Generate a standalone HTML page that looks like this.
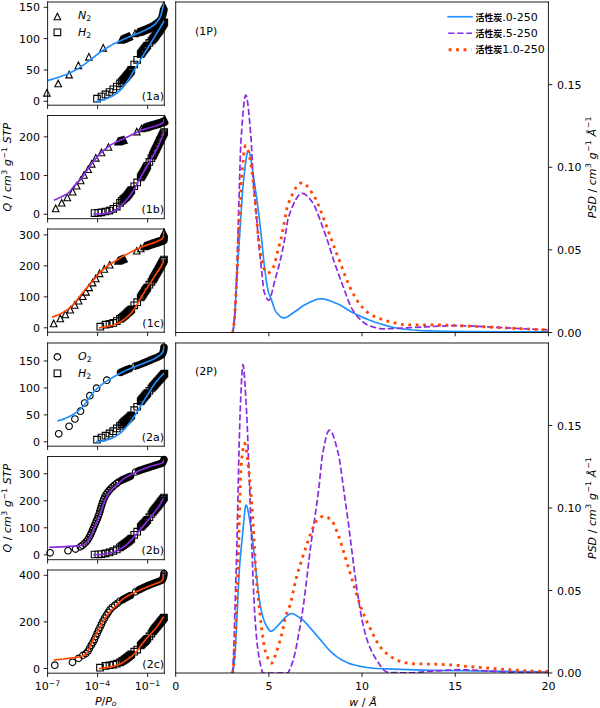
<!DOCTYPE html>
<html><head><meta charset="utf-8"><style>html,body{margin:0;padding:0;background:#fff;}svg{display:block;}</style></head><body>
<svg width="600" height="708" viewBox="0 0 545.454545 643.636364" version="1.1">
 <defs>
  <style type="text/css">*{stroke-linejoin: round; stroke-linecap: butt}</style>
 </defs>
 <g id="figure_1">
  <g id="patch_1">
   <path d="M 0 643.636364 
L 545.454545 643.636364 
L 545.454545 0 
L 0 0 
z
" style="fill: #ffffff"/>
  </g>
  <g id="axes_1">
   <g id="patch_2">
    <path d="M 43.272727 95.636364 
L 149.363636 95.636364 
L 149.363636 1.818182 
L 43.272727 1.818182 
z
" style="fill: #ffffff"/>
   </g>
   <g id="matplotlib.axis_1">
    <g id="xtick_1">
     <g id="line2d_1">
      <g>
    <path d="M 43.273 95.636 L 43.273 99.136" style="stroke: #000000; stroke-width: 0.8; stroke: #000000; stroke-width: 0.8"/>
      </g>
     </g>
    </g>
    <g id="xtick_2">
     <g id="line2d_2">
      <g>
    <path d="M 88.740 95.636 L 88.740 99.136" style="stroke: #000000; stroke-width: 0.8; stroke: #000000; stroke-width: 0.8"/>
      </g>
     </g>
    </g>
    <g id="xtick_3">
     <g id="line2d_3">
      <g>
    <path d="M 134.208 95.636 L 134.208 99.136" style="stroke: #000000; stroke-width: 0.8; stroke: #000000; stroke-width: 0.8"/>
      </g>
     </g>
    </g>
   </g>
   <g id="matplotlib.axis_2">
    <g id="ytick_1">
     <g id="line2d_4">
      <g>
    <path d="M 43.273 92.091 L 39.773 92.091" style="stroke: #000000; stroke-width: 0.8; stroke: #000000; stroke-width: 0.8"/>
      </g>
     </g>
     <g id="text_1">
      <text style="font-size: 10px; font-family: 'DejaVu Sans', 'Noto Sans CJK SC', sans-serif; text-anchor: end" x="36.272727" y="95.890128" transform="rotate(-0 36.272727 95.890128)">0</text>
     </g>
    </g>
    <g id="ytick_2">
     <g id="line2d_5">
      <g>
    <path d="M 43.273 63.605 L 39.773 63.605" style="stroke: #000000; stroke-width: 0.8; stroke: #000000; stroke-width: 0.8"/>
      </g>
     </g>
     <g id="text_2">
      <text style="font-size: 10px; font-family: 'DejaVu Sans', 'Noto Sans CJK SC', sans-serif; text-anchor: end" x="36.272727" y="67.403764" transform="rotate(-0 36.272727 67.403764)">50</text>
     </g>
    </g>
    <g id="ytick_3">
     <g id="line2d_6">
      <g>
    <path d="M 43.273 35.118 L 39.773 35.118" style="stroke: #000000; stroke-width: 0.8; stroke: #000000; stroke-width: 0.8"/>
      </g>
     </g>
     <g id="text_3">
      <text style="font-size: 10px; font-family: 'DejaVu Sans', 'Noto Sans CJK SC', sans-serif; text-anchor: end" x="36.272727" y="38.917401" transform="rotate(-0 36.272727 38.917401)">100</text>
     </g>
    </g>
    <g id="ytick_4">
     <g id="line2d_7">
      <g>
    <path d="M 43.273 6.632 L 39.773 6.632" style="stroke: #000000; stroke-width: 0.8; stroke: #000000; stroke-width: 0.8"/>
      </g>
     </g>
     <g id="text_4">
      <text style="font-size: 10px; font-family: 'DejaVu Sans', 'Noto Sans CJK SC', sans-serif; text-anchor: end" x="36.272727" y="10.431037" transform="rotate(-0 36.272727 10.431037)">150</text>
     </g>
    </g>
   </g>
   <g id="line2d_8">
    <g>
    <path d="M 42.636 81.364 L 39.636 87.364 L 45.636 87.364 z M 52.909 72.909 L 49.909 78.909 L 55.909 78.909 z M 62.818 64.818 L 59.818 70.818 L 65.818 70.818 z M 71.273 56.364 L 68.273 62.364 L 74.273 62.364 z M 80.818 48.636 L 77.818 54.636 L 83.818 54.636 z M 93.818 40.455 L 90.818 46.455 L 96.818 46.455 z M 110.000 33.182 L 107.000 39.182 L 113.000 39.182 z M 110.643 32.908 L 107.643 38.908 L 113.643 38.908 z M 111.287 32.634 L 108.287 38.634 L 114.287 38.634 z M 111.930 32.360 L 108.930 38.360 L 114.930 38.360 z M 112.574 32.087 L 109.574 38.087 L 115.574 38.087 z M 113.218 31.814 L 110.218 37.814 L 116.218 37.814 z M 113.862 31.541 L 110.862 37.541 L 116.862 37.541 z M 114.506 31.268 L 111.506 37.268 L 117.506 37.268 z M 115.150 30.996 L 112.150 36.996 L 118.150 36.996 z M 115.794 30.724 L 112.794 36.724 L 118.794 36.724 z M 116.438 30.452 L 113.438 36.452 L 119.438 36.452 z M 117.083 30.180 L 114.083 36.180 L 120.083 36.180 z M 117.727 29.909 L 114.727 35.909 L 120.727 35.909 z M 122.818 27.364 L 119.818 33.364 L 125.818 33.364 z M 125.000 26.545 L 122.000 32.545 L 128.000 32.545 z M 125.600 26.329 L 122.600 32.329 L 128.600 32.329 z M 126.198 26.109 L 123.198 32.109 L 129.198 32.109 z M 126.796 25.886 L 123.796 31.886 L 129.796 31.886 z M 127.392 25.661 L 124.392 31.661 L 130.392 31.661 z M 127.988 25.433 L 124.988 31.433 L 130.988 31.433 z M 128.582 25.202 L 125.582 31.202 L 131.582 31.202 z M 129.175 24.968 L 126.175 30.968 L 132.175 30.968 z M 129.767 24.731 L 126.767 30.731 L 132.767 30.731 z M 130.358 24.492 L 127.358 30.492 L 133.358 30.492 z M 130.950 24.255 L 127.950 30.255 L 133.950 30.255 z M 131.542 24.019 L 128.542 30.019 L 134.542 30.019 z M 132.134 23.782 L 129.134 29.782 L 135.134 29.782 z M 132.725 23.542 L 129.725 29.542 L 135.725 29.542 z M 133.314 23.297 L 130.314 29.297 L 136.314 29.297 z M 133.900 23.047 L 130.900 29.047 L 136.900 29.047 z M 134.483 22.789 L 131.483 28.789 L 137.483 28.789 z M 135.062 22.520 L 132.062 28.520 L 138.062 28.520 z M 135.635 22.241 L 132.635 28.241 L 138.635 28.241 z M 136.201 21.948 L 133.201 27.948 L 139.201 27.948 z M 136.761 21.643 L 133.761 27.643 L 139.761 27.643 z M 137.317 21.331 L 134.317 27.331 L 140.317 27.331 z M 137.869 21.012 L 134.869 27.012 L 140.869 27.012 z M 138.416 20.683 L 135.416 26.683 L 141.416 26.683 z M 138.956 20.345 L 135.956 26.345 L 141.956 26.345 z M 139.490 19.997 L 136.490 25.997 L 142.490 25.997 z M 140.016 19.637 L 137.016 25.637 L 143.016 25.637 z M 140.533 19.263 L 137.533 25.263 L 143.533 25.263 z M 141.040 18.876 L 138.040 24.876 L 144.040 24.876 z M 141.534 18.473 L 138.534 24.473 L 144.534 24.473 z M 142.014 18.053 L 139.014 24.053 L 145.014 24.053 z M 142.477 17.615 L 139.477 23.615 L 145.477 23.615 z M 142.921 17.158 L 139.921 23.158 L 145.921 23.158 z M 143.350 16.686 L 140.350 22.686 L 146.350 22.686 z M 143.762 16.199 L 140.762 22.199 L 146.762 22.199 z M 144.157 15.699 L 141.157 21.699 L 147.157 21.699 z M 144.536 15.186 L 141.536 21.186 L 147.536 21.186 z M 144.897 14.660 L 141.897 20.660 L 147.897 20.660 z M 145.239 14.122 L 142.239 20.122 L 148.239 20.122 z M 145.561 13.572 L 142.561 19.572 L 148.561 19.572 z M 145.860 13.009 L 142.860 19.009 L 148.860 19.009 z M 146.136 12.434 L 143.136 18.434 L 149.136 18.434 z M 146.397 11.852 L 143.397 17.852 L 149.397 17.852 z M 146.643 11.264 L 143.643 17.264 L 149.643 17.264 z M 146.875 10.670 L 143.875 16.670 L 149.875 16.670 z M 147.094 10.071 L 144.094 16.071 L 150.094 16.071 z M 147.300 9.468 L 144.300 15.468 L 150.300 15.468 z M 147.493 8.860 L 144.493 14.860 L 150.493 14.860 z M 147.673 8.249 L 144.673 14.249 L 150.673 14.249 z M 147.841 7.634 L 144.841 13.634 L 150.841 13.634 z M 147.996 7.015 L 144.996 13.015 L 150.996 13.015 z M 148.142 6.394 L 145.142 12.394 L 151.142 12.394 z M 148.280 5.772 L 145.280 11.772 L 151.280 11.772 z M 148.410 5.148 L 145.410 11.148 L 151.410 11.148 z M 148.532 4.522 L 145.532 10.522 L 151.532 10.522 z M 148.643 3.894 L 145.643 9.894 L 151.643 9.894 z M 148.744 3.264 L 145.744 9.264 L 151.744 9.264 z M 148.833 2.633 L 145.833 8.633 L 151.833 8.633 z M 148.909 2.000 L 145.909 8.000 L 151.909 8.000 z" style="fill-opacity: 0; stroke: #000000; stroke-linejoin: miter; stroke: #000000; stroke-linejoin: miter"/>
    </g>
   </g>
   <g id="line2d_9">
    <g>
    <path d="M 85.182 92.727 L 91.182 92.727 L 91.182 86.727 L 85.182 86.727 z M 89.265 90.731 L 95.265 90.731 L 95.265 84.731 L 89.265 84.731 z M 92.900 88.823 L 98.900 88.823 L 98.900 82.823 L 92.900 82.823 z M 96.555 86.630 L 102.555 86.630 L 102.555 80.630 L 96.555 80.630 z M 100.004 84.179 L 106.004 84.179 L 106.004 78.179 L 100.004 78.179 z M 103.186 81.633 L 109.186 81.633 L 109.186 75.633 L 103.186 75.633 z M 106.089 78.729 L 112.089 78.729 L 112.089 72.729 L 106.089 72.729 z M 107.638 77.216 L 113.638 77.216 L 113.638 71.216 L 107.638 71.216 z M 108.995 75.869 L 114.995 75.869 L 114.995 69.869 L 108.995 69.869 z M 109.899 74.900 L 115.899 74.900 L 115.899 68.900 L 109.899 68.900 z M 110.759 73.892 L 116.759 73.892 L 116.759 67.892 L 110.759 67.892 z M 111.594 72.862 L 117.594 72.862 L 117.594 66.862 L 111.594 66.862 z M 112.423 71.828 L 118.423 71.828 L 118.423 65.828 L 112.423 65.828 z M 113.271 70.810 L 119.271 70.810 L 119.271 64.810 L 113.271 64.810 z M 114.135 69.805 L 120.135 69.805 L 120.135 63.805 L 114.135 63.805 z M 114.959 68.768 L 120.959 68.768 L 120.959 62.768 L 114.959 62.768 z M 115.696 67.666 L 121.696 67.666 L 121.696 61.666 L 115.696 61.666 z M 116.366 66.523 L 122.366 66.523 L 122.366 60.523 L 116.366 60.523 z M 119.007 61.625 L 125.007 61.625 L 125.007 55.625 L 119.007 55.625 z M 121.723 57.371 L 127.723 57.371 L 127.723 51.371 L 121.723 51.371 z M 124.907 52.200 L 130.907 52.200 L 130.907 46.200 L 124.907 46.200 z M 125.721 51.046 L 131.721 51.046 L 131.721 45.046 L 125.721 45.046 z M 126.555 49.906 L 132.555 49.906 L 132.555 43.906 L 126.555 43.906 z M 127.405 48.778 L 133.405 48.778 L 133.405 42.778 L 127.405 42.778 z M 128.268 47.661 L 134.268 47.661 L 134.268 41.661 L 128.268 41.661 z M 129.142 46.552 L 135.142 46.552 L 135.142 40.552 L 129.142 40.552 z M 130.023 45.449 L 136.023 45.449 L 136.023 39.449 L 130.023 39.449 z M 130.910 44.350 L 136.910 44.350 L 136.910 38.350 L 130.910 38.350 z M 132.816 42.063 L 138.816 42.063 L 138.816 36.063 L 132.816 36.063 z M 134.642 40.029 L 140.642 40.029 L 140.642 34.029 L 134.642 34.029 z M 135.812 38.717 L 141.812 38.717 L 141.812 32.717 L 135.812 32.717 z M 136.676 37.703 L 142.676 37.703 L 142.676 31.703 L 136.676 31.703 z M 137.506 36.660 L 143.506 36.660 L 143.506 30.660 L 137.506 30.660 z M 138.312 35.599 L 144.312 35.599 L 144.312 29.599 L 138.312 29.599 z M 139.108 34.530 L 145.108 34.530 L 145.108 28.530 L 139.108 28.530 z M 139.893 33.453 L 145.893 33.453 L 145.893 27.453 L 139.893 27.453 z M 140.666 32.368 L 146.666 32.368 L 146.666 26.368 L 140.666 26.368 z M 141.428 31.275 L 147.428 31.275 L 147.428 25.275 L 141.428 25.275 z M 142.177 30.173 L 148.177 30.173 L 148.177 24.173 L 142.177 24.173 z M 142.913 29.062 L 148.913 29.062 L 148.913 23.062 L 142.913 23.062 z M 143.634 27.941 L 149.634 27.941 L 149.634 21.941 L 143.634 21.941 z M 144.341 26.811 L 150.341 26.811 L 150.341 20.811 L 144.341 20.811 z M 145.032 25.672 L 151.032 25.672 L 151.032 19.672 L 145.032 19.672 z M 145.706 24.523 L 151.706 24.523 L 151.706 18.523 L 145.706 18.523 z M 146.364 23.364 L 152.364 23.364 L 152.364 17.364 L 146.364 17.364 z" style="fill-opacity: 0; stroke: #000000; stroke-linejoin: miter; stroke: #000000; stroke-linejoin: miter"/>
    </g>
   </g>
   <g id="patch_3">
    <path d="M 43.272727 95.636364 
L 43.272727 1.818182 
" style="fill: none; stroke: #000000; stroke-width: 0.8; stroke-linejoin: miter; stroke-linecap: square"/>
   </g>
   <g id="patch_4">
    <path d="M 149.363636 95.636364 
L 149.363636 1.818182 
" style="fill: none; stroke: #000000; stroke-width: 0.8; stroke-linejoin: miter; stroke-linecap: square"/>
   </g>
   <g id="patch_5">
    <path d="M 43.272727 95.636364 
L 149.363636 95.636364 
" style="fill: none; stroke: #000000; stroke-width: 0.8; stroke-linejoin: miter; stroke-linecap: square"/>
   </g>
   <g id="patch_6">
    <path d="M 43.272727 1.818182 
L 149.363636 1.818182 
" style="fill: none; stroke: #000000; stroke-width: 0.8; stroke-linejoin: miter; stroke-linecap: square"/>
   </g>
   <g id="line2d_10">
    <path d="M 43.727273 73.090909 
L 48.799466 71.668369 
L 54.429699 69.857593 
L 59.590716 67.988274 
L 63.216673 66.455553 
L 66.957383 64.616199 
L 70.609876 62.576202 
L 74.125823 60.374316 
L 76.769696 58.441238 
L 90.690153 47.727318 
L 95.0194 44.748985 
L 99.122169 42.204627 
L 102.580971 40.325803 
L 107.502161 37.909852 
L 114.501866 34.746523 
L 118.758779 32.988142 
L 127.906652 29.289828 
L 134.961205 25.950101 
L 137.642976 24.430899 
L 139.552239 23.092216 
L 141.137671 21.698099 
L 142.67767 20.066569 
L 144.077161 18.270179 
L 145.129381 16.577793 
L 145.842192 15.05471 
L 146.602157 12.83353 
L 147.430499 9.615752 
L 148.854391 4.026169 
L 149.090909 3.181818 
L 149.090909 3.181818 
" clip-path="url(#p6df76872dc)" style="fill: none; stroke: #1e90ff; stroke-width: 1.5; stroke-linecap: square"/>
   </g>
   <g id="line2d_11">
    <path d="M 88.272727 92 
L 91.069857 91.451035 
L 93.942143 90.661909 
L 97.0234 89.588854 
L 100.421286 88.174033 
L 102.585111 87.05032 
L 104.836749 85.631672 
L 107.239719 83.847352 
L 109.553801 81.84268 
L 111.226986 80.085364 
L 113.102208 77.777722 
L 115.8033 74.046463 
L 117.744568 71.031874 
L 121.139428 65.230926 
L 128.786625 52.466815 
L 138.420092 36.893352 
L 145.434606 25.468711 
L 149.090909 19.272727 
L 149.090909 19.272727 
" clip-path="url(#p6df76872dc)" style="fill: none; stroke: #1e90ff; stroke-width: 1.5; stroke-linecap: square"/>
   </g>
  </g>
  <g id="axes_2">
   <g id="patch_7">
    <path d="M 43.272727 198.818182 
L 149.363636 198.818182 
L 149.363636 105 
L 43.272727 105 
z
" style="fill: #ffffff"/>
   </g>
   <g id="matplotlib.axis_3">
    <g id="xtick_4">
     <g id="line2d_12">
      <g>
    <path d="M 43.273 198.818 L 43.273 202.318" style="stroke: #000000; stroke-width: 0.8; stroke: #000000; stroke-width: 0.8"/>
      </g>
     </g>
    </g>
    <g id="xtick_5">
     <g id="line2d_13">
      <g>
    <path d="M 88.740 198.818 L 88.740 202.318" style="stroke: #000000; stroke-width: 0.8; stroke: #000000; stroke-width: 0.8"/>
      </g>
     </g>
    </g>
    <g id="xtick_6">
     <g id="line2d_14">
      <g>
    <path d="M 134.208 198.818 L 134.208 202.318" style="stroke: #000000; stroke-width: 0.8; stroke: #000000; stroke-width: 0.8"/>
      </g>
     </g>
    </g>
   </g>
   <g id="matplotlib.axis_4">
    <g id="ytick_5">
     <g id="line2d_15">
      <g>
    <path d="M 43.273 194.818 L 39.773 194.818" style="stroke: #000000; stroke-width: 0.8; stroke: #000000; stroke-width: 0.8"/>
      </g>
     </g>
     <g id="text_5">
      <text style="font-size: 10px; font-family: 'DejaVu Sans', 'Noto Sans CJK SC', sans-serif; text-anchor: end" x="36.272727" y="198.617401" transform="rotate(-0 36.272727 198.617401)">0</text>
     </g>
    </g>
    <g id="ytick_6">
     <g id="line2d_16">
      <g>
    <path d="M 43.273 159.591 L 39.773 159.591" style="stroke: #000000; stroke-width: 0.8; stroke: #000000; stroke-width: 0.8"/>
      </g>
     </g>
     <g id="text_6">
      <text style="font-size: 10px; font-family: 'DejaVu Sans', 'Noto Sans CJK SC', sans-serif; text-anchor: end" x="36.272727" y="163.390128" transform="rotate(-0 36.272727 163.390128)">100</text>
     </g>
    </g>
    <g id="ytick_7">
     <g id="line2d_17">
      <g>
    <path d="M 43.273 124.364 L 39.773 124.364" style="stroke: #000000; stroke-width: 0.8; stroke: #000000; stroke-width: 0.8"/>
      </g>
     </g>
     <g id="text_7">
      <text style="font-size: 10px; font-family: 'DejaVu Sans', 'Noto Sans CJK SC', sans-serif; text-anchor: end" x="36.272727" y="128.162855" transform="rotate(-0 36.272727 128.162855)">200</text>
     </g>
    </g>
   </g>
   <g id="line2d_18">
    <g>
    <path d="M 50.636 186.455 L 47.636 192.455 L 53.636 192.455 z M 56.091 181.273 L 53.091 187.273 L 59.091 187.273 z M 61.182 176.455 L 58.182 182.455 L 64.182 182.455 z M 66.091 171.273 L 63.091 177.273 L 69.091 177.273 z M 69.727 165.818 L 66.727 171.818 L 72.727 171.818 z M 73.364 161.000 L 70.364 167.000 L 76.364 167.000 z M 76.364 156.091 L 73.364 162.091 L 79.364 162.091 z M 80.182 150.818 L 77.182 156.818 L 83.182 156.818 z M 83.364 145.909 L 80.364 151.909 L 86.364 151.909 z M 87.091 140.455 L 84.091 146.455 L 90.091 146.455 z M 92.273 135.545 L 89.273 141.545 L 95.273 141.545 z M 98.636 130.636 L 95.636 136.636 L 101.636 136.636 z M 107.273 125.727 L 104.273 131.727 L 110.273 131.727 z M 107.955 125.523 L 104.955 131.523 L 110.955 131.523 z M 108.636 125.318 L 105.636 131.318 L 111.636 131.318 z M 109.318 125.114 L 106.318 131.114 L 112.318 131.114 z M 110.000 124.909 L 107.000 130.909 L 113.000 130.909 z M 110.682 124.705 L 107.682 130.705 L 113.682 130.705 z M 111.364 124.500 L 108.364 130.500 L 114.364 130.500 z M 112.045 124.295 L 109.045 130.295 L 115.045 130.295 z M 112.727 124.091 L 109.727 130.091 L 115.727 130.091 z M 124.364 116.636 L 121.364 122.636 L 127.364 122.636 z M 128.636 113.818 L 125.636 119.818 L 131.636 119.818 z M 130.455 113.364 L 127.455 119.364 L 133.455 119.364 z M 131.051 113.148 L 128.051 119.148 L 134.051 119.148 z M 131.649 112.934 L 128.649 118.934 L 134.649 118.934 z M 132.247 112.724 L 129.247 118.724 L 135.247 118.724 z M 132.846 112.516 L 129.846 118.516 L 135.846 118.516 z M 133.447 112.311 L 130.447 118.311 L 136.447 118.311 z M 134.048 112.109 L 131.048 118.109 L 137.048 118.109 z M 134.651 111.910 L 131.651 117.910 L 137.651 117.910 z M 135.254 111.714 L 132.254 117.714 L 138.254 117.714 z M 135.859 111.522 L 132.859 117.522 L 138.859 117.522 z M 136.464 111.332 L 133.464 117.332 L 139.464 117.332 z M 137.072 111.150 L 134.072 117.150 L 140.072 117.150 z M 137.682 110.974 L 134.682 116.974 L 140.682 116.974 z M 138.293 110.804 L 135.293 116.804 L 141.293 116.804 z M 138.905 110.636 L 135.905 116.636 L 141.905 116.636 z M 139.517 110.470 L 136.517 116.470 L 142.517 116.470 z M 140.129 110.304 L 137.129 116.304 L 143.129 116.304 z M 140.741 110.135 L 137.741 116.135 L 143.741 116.135 z M 141.351 109.962 L 138.351 115.962 L 144.351 115.962 z M 141.960 109.783 L 138.960 115.783 L 144.960 115.783 z M 142.567 109.597 L 139.567 115.597 L 145.567 115.597 z M 143.171 109.405 L 140.171 115.405 L 146.171 115.405 z M 143.777 109.215 L 140.777 115.215 L 146.777 115.215 z M 144.382 109.024 L 141.382 115.024 L 147.382 115.024 z M 144.985 108.827 L 141.985 114.827 L 147.985 114.827 z M 145.584 108.618 L 142.584 114.618 L 148.584 114.618 z M 146.177 108.394 L 143.177 114.394 L 149.177 114.394 z M 146.762 108.149 L 143.762 114.149 L 149.762 114.149 z M 147.336 107.878 L 144.336 113.878 L 150.336 113.878 z M 147.905 107.598 L 144.905 113.598 L 150.905 113.598 z M 148.462 107.293 L 145.462 113.293 L 151.462 113.293 z M 148.973 106.920 L 145.973 112.920 L 151.973 112.920 z M 149.339 106.408 L 146.339 112.408 L 152.339 112.408 z M 149.545 105.809 L 146.545 111.809 L 152.545 111.809 z M 149.636 105.182 L 146.636 111.182 L 152.636 111.182 z" style="fill-opacity: 0; stroke: #000000; stroke-linejoin: miter; stroke: #000000; stroke-linejoin: miter"/>
    </g>
   </g>
   <g id="line2d_19">
    <g>
    <path d="M 83.000 196.727 L 89.000 196.727 L 89.000 190.727 L 83.000 190.727 z M 86.364 196.454 L 92.364 196.454 L 92.364 190.454 L 86.364 190.454 z M 89.261 196.002 L 95.261 196.002 L 95.261 190.002 L 89.261 190.002 z M 92.914 195.293 L 98.914 195.293 L 98.914 189.293 L 92.914 189.293 z M 96.547 194.436 L 102.547 194.436 L 102.547 188.436 L 96.547 188.436 z M 100.004 192.864 L 106.004 192.864 L 106.004 186.864 L 100.004 186.864 z M 103.189 190.805 L 109.189 190.805 L 109.189 184.805 L 103.189 184.805 z M 106.089 187.430 L 112.089 187.430 L 112.089 181.430 L 106.089 181.430 z M 107.632 185.567 L 113.632 185.567 L 113.632 179.567 L 107.632 179.567 z M 109.008 184.254 L 115.008 184.254 L 115.008 178.254 L 109.008 178.254 z M 110.086 183.363 L 116.086 183.363 L 116.086 177.363 L 110.086 177.363 z M 111.154 182.459 L 117.154 182.459 L 117.154 176.459 L 111.154 176.459 z M 112.148 181.475 L 118.148 181.475 L 118.148 175.475 L 112.148 175.475 z M 113.050 180.406 L 119.050 180.406 L 119.050 174.406 L 113.050 174.406 z M 113.896 179.293 L 119.896 179.293 L 119.896 173.293 L 113.896 173.293 z M 114.723 178.164 L 120.723 178.164 L 120.723 172.164 L 114.723 172.164 z M 115.558 177.041 L 121.558 177.041 L 121.558 171.041 L 115.558 171.041 z M 116.381 175.910 L 122.381 175.910 L 122.381 169.910 L 116.381 169.910 z M 119.006 172.297 L 125.006 172.297 L 125.006 166.297 L 119.006 166.297 z M 121.736 168.805 L 127.736 168.805 L 127.736 162.805 L 121.736 162.805 z M 124.904 164.288 L 130.904 164.288 L 130.904 158.288 L 124.904 158.288 z M 125.616 163.137 L 131.616 163.137 L 131.616 157.137 L 125.616 157.137 z M 126.311 161.976 L 132.311 161.976 L 132.311 155.976 L 126.311 155.976 z M 126.993 160.807 L 132.993 160.807 L 132.993 154.807 L 126.993 154.807 z M 127.663 159.631 L 133.663 159.631 L 133.663 153.631 L 127.663 153.631 z M 128.323 158.450 L 134.323 158.450 L 134.323 152.450 L 128.323 152.450 z M 128.976 157.265 L 134.976 157.265 L 134.976 151.265 L 128.976 151.265 z M 129.624 156.077 L 135.624 156.077 L 135.624 150.077 L 129.624 150.077 z M 130.270 154.888 L 136.270 154.888 L 136.270 148.888 L 130.270 148.888 z M 130.916 153.699 L 136.916 153.699 L 136.916 147.699 L 130.916 147.699 z M 132.820 150.194 L 138.820 150.194 L 138.820 144.194 L 132.820 144.194 z M 134.635 146.757 L 140.635 146.757 L 140.635 140.757 L 134.635 140.757 z M 135.823 144.454 L 141.823 144.454 L 141.823 138.454 L 135.823 138.454 z M 136.422 143.271 L 142.422 143.271 L 142.422 137.271 L 136.422 137.271 z M 137.014 142.085 L 143.014 142.085 L 143.014 136.085 L 137.014 136.085 z M 137.602 140.897 L 143.602 140.897 L 143.602 134.897 L 137.602 134.897 z M 138.186 139.707 L 144.186 139.707 L 144.186 133.707 L 138.186 133.707 z M 138.766 138.514 L 144.766 138.514 L 144.766 132.514 L 138.766 132.514 z M 139.341 137.320 L 145.341 137.320 L 145.341 131.320 L 139.341 131.320 z M 139.913 136.124 L 145.913 136.124 L 145.913 130.124 L 139.913 130.124 z M 140.483 134.927 L 146.483 134.927 L 146.483 128.927 L 140.483 128.927 z M 141.052 133.730 L 147.052 133.730 L 147.052 127.730 L 141.052 127.730 z M 141.622 132.532 L 147.622 132.532 L 147.622 126.532 L 141.622 126.532 z M 142.193 131.336 L 148.193 131.336 L 148.193 125.336 L 142.193 125.336 z M 142.767 130.141 L 148.767 130.141 L 148.767 124.141 L 142.767 124.141 z M 143.345 128.947 L 149.345 128.947 L 149.345 122.947 L 143.345 122.947 z M 143.926 127.756 L 149.926 127.756 L 149.926 121.756 L 143.926 121.756 z M 144.510 126.566 L 150.510 126.566 L 150.510 120.566 L 144.510 120.566 z M 145.096 125.376 L 151.096 125.376 L 151.096 119.376 L 145.096 119.376 z M 145.684 124.188 L 151.684 124.188 L 151.684 118.188 L 145.684 118.188 z M 146.273 123.000 L 152.273 123.000 L 152.273 117.000 L 146.273 117.000 z" style="fill-opacity: 0; stroke: #000000; stroke-linejoin: miter; stroke: #000000; stroke-linejoin: miter"/>
    </g>
   </g>
   <g id="patch_8">
    <path d="M 43.272727 198.818182 
L 43.272727 105 
" style="fill: none; stroke: #000000; stroke-width: 0.8; stroke-linejoin: miter; stroke-linecap: square"/>
   </g>
   <g id="patch_9">
    <path d="M 149.363636 198.818182 
L 149.363636 105 
" style="fill: none; stroke: #000000; stroke-width: 0.8; stroke-linejoin: miter; stroke-linecap: square"/>
   </g>
   <g id="patch_10">
    <path d="M 43.272727 198.818182 
L 149.363636 198.818182 
" style="fill: none; stroke: #000000; stroke-width: 0.8; stroke-linejoin: miter; stroke-linecap: square"/>
   </g>
   <g id="patch_11">
    <path d="M 43.272727 105 
L 149.363636 105 
" style="fill: none; stroke: #000000; stroke-width: 0.8; stroke-linejoin: miter; stroke-linecap: square"/>
   </g>
   <g id="line2d_20">
    <path d="M 49.727273 181.818182 
L 55.105418 179.265193 
L 61.377975 176.047419 
L 62.483908 175.16628 
L 63.628691 173.968219 
L 65.210001 171.929902 
L 67.722527 168.6613 
L 69.357509 166.987043 
L 73.129372 163.243094 
L 74.959288 160.928334 
L 77.134758 157.78114 
L 82.385369 149.999776 
L 87.790541 143.09715 
L 90.202448 140.426197 
L 92.473005 138.248794 
L 95.550393 135.599416 
L 98.631102 133.248157 
L 101.647142 131.235429 
L 104.377199 129.678955 
L 107.251907 128.340687 
L 117.21803 123.952926 
L 127.28188 118.852595 
L 130.041056 117.805315 
L 133.504902 116.767751 
L 141.504121 114.486066 
L 146.110725 112.759022 
L 147.458251 112.065964 
L 148.200045 111.480629 
L 148.618158 110.928306 
L 149.033808 109.987492 
L 149.363636 108.636364 
L 149.363636 108.636364 
" clip-path="url(#p209c17d68a)" style="fill: none; stroke: #8a2be2; stroke-width: 1.5; stroke-linecap: square"/>
   </g>
   <g id="line2d_21">
    <path d="M 85.454545 194.545455 
L 91.409032 194.436956 
L 94.560859 194.192444 
L 97.331322 193.785653 
L 99.77178 193.17558 
L 102.304053 192.316888 
L 104.785713 191.247133 
L 106.221388 190.404048 
L 107.738042 189.257579 
L 109.582386 187.561158 
L 111.95148 185.046978 
L 116.220107 180.161199 
L 118.671353 176.93349 
L 121.249263 173.158317 
L 123.246232 169.888639 
L 125.398442 165.873853 
L 129.355724 158.436285 
L 134.140253 150.277036 
L 141.909612 136.952031 
L 143.54193 133.672507 
L 145.674202 128.870192 
L 147.955332 123.166122 
L 149.272727 119.545455 
L 149.272727 119.545455 
" clip-path="url(#p209c17d68a)" style="fill: none; stroke: #8a2be2; stroke-width: 1.5; stroke-linecap: square"/>
   </g>
  </g>
  <g id="axes_3">
   <g id="patch_12">
    <path d="M 43.272727 302 
L 149.363636 302 
L 149.363636 208.181818 
L 43.272727 208.181818 
z
" style="fill: #ffffff"/>
   </g>
   <g id="matplotlib.axis_5">
    <g id="xtick_7">
     <g id="line2d_22">
      <g>
    <path d="M 43.273 302.000 L 43.273 305.500" style="stroke: #000000; stroke-width: 0.8; stroke: #000000; stroke-width: 0.8"/>
      </g>
     </g>
    </g>
    <g id="xtick_8">
     <g id="line2d_23">
      <g>
    <path d="M 88.740 302.000 L 88.740 305.500" style="stroke: #000000; stroke-width: 0.8; stroke: #000000; stroke-width: 0.8"/>
      </g>
     </g>
    </g>
    <g id="xtick_9">
     <g id="line2d_24">
      <g>
    <path d="M 134.208 302.000 L 134.208 305.500" style="stroke: #000000; stroke-width: 0.8; stroke: #000000; stroke-width: 0.8"/>
      </g>
     </g>
    </g>
   </g>
   <g id="matplotlib.axis_6">
    <g id="ytick_8">
     <g id="line2d_25">
      <g>
    <path d="M 43.273 298.000 L 39.773 298.000" style="stroke: #000000; stroke-width: 0.8; stroke: #000000; stroke-width: 0.8"/>
      </g>
     </g>
     <g id="text_8">
      <text style="font-size: 10px; font-family: 'DejaVu Sans', 'Noto Sans CJK SC', sans-serif; text-anchor: end" x="36.272727" y="301.799219" transform="rotate(-0 36.272727 301.799219)">0</text>
     </g>
    </g>
    <g id="ytick_9">
     <g id="line2d_26">
      <g>
    <path d="M 43.273 269.845 L 39.773 269.845" style="stroke: #000000; stroke-width: 0.8; stroke: #000000; stroke-width: 0.8"/>
      </g>
     </g>
     <g id="text_9">
      <text style="font-size: 10px; font-family: 'DejaVu Sans', 'Noto Sans CJK SC', sans-serif; text-anchor: end" x="36.272727" y="273.644673" transform="rotate(-0 36.272727 273.644673)">100</text>
     </g>
    </g>
    <g id="ytick_10">
     <g id="line2d_27">
      <g>
    <path d="M 43.273 241.691 L 39.773 241.691" style="stroke: #000000; stroke-width: 0.8; stroke: #000000; stroke-width: 0.8"/>
      </g>
     </g>
     <g id="text_10">
      <text style="font-size: 10px; font-family: 'DejaVu Sans', 'Noto Sans CJK SC', sans-serif; text-anchor: end" x="36.272727" y="245.490128" transform="rotate(-0 36.272727 245.490128)">200</text>
     </g>
    </g>
    <g id="ytick_11">
     <g id="line2d_28">
      <g>
    <path d="M 43.273 213.536 L 39.773 213.536" style="stroke: #000000; stroke-width: 0.8; stroke: #000000; stroke-width: 0.8"/>
      </g>
     </g>
     <g id="text_11">
      <text style="font-size: 10px; font-family: 'DejaVu Sans', 'Noto Sans CJK SC', sans-serif; text-anchor: end" x="36.272727" y="217.335582" transform="rotate(-0 36.272727 217.335582)">300</text>
     </g>
    </g>
   </g>
   <g id="line2d_29">
    <g>
    <path d="M 48.818 291.000 L 45.818 297.000 L 51.818 297.000 z M 54.818 286.455 L 51.818 292.455 L 57.818 292.455 z M 59.364 282.818 L 56.364 288.818 L 62.364 288.818 z M 63.909 278.545 L 60.909 284.545 L 66.909 284.545 z M 67.909 274.273 L 64.909 280.273 L 70.909 280.273 z M 71.545 270.364 L 68.545 276.364 L 74.545 276.364 z M 75.182 266.273 L 72.182 272.273 L 78.182 272.273 z M 78.182 262.273 L 75.182 268.273 L 81.182 268.273 z M 81.000 258.182 L 78.000 264.182 L 84.000 264.182 z M 84.182 253.909 L 81.182 259.909 L 87.182 259.909 z M 87.091 250.091 L 84.091 256.091 L 90.091 256.091 z M 90.545 245.455 L 87.545 251.455 L 93.545 251.455 z M 94.909 241.455 L 91.909 247.455 L 97.909 247.455 z M 99.818 237.636 L 96.818 243.636 L 102.818 243.636 z M 107.273 234.273 L 104.273 240.273 L 110.273 240.273 z M 107.947 233.972 L 104.947 239.972 L 110.947 239.972 z M 108.624 233.675 L 105.624 239.675 L 111.624 239.675 z M 109.303 233.384 L 106.303 239.384 L 112.303 239.384 z M 109.984 233.098 L 106.984 239.098 L 112.984 239.098 z M 110.667 232.816 L 107.667 238.816 L 113.667 238.816 z M 111.352 232.539 L 108.352 238.539 L 114.352 238.539 z M 112.039 232.267 L 109.039 238.267 L 115.039 238.267 z M 112.727 232.000 L 109.727 238.000 L 115.727 238.000 z M 124.364 224.909 L 121.364 230.909 L 127.364 230.909 z M 128.000 222.818 L 125.000 228.818 L 131.000 228.818 z M 131.091 221.091 L 128.091 227.091 L 134.091 227.091 z M 131.676 220.856 L 128.676 226.856 L 134.676 226.856 z M 132.263 220.624 L 129.263 226.624 L 135.263 226.624 z M 132.851 220.395 L 129.851 226.395 L 135.851 226.395 z M 133.439 220.168 L 130.439 226.168 L 136.439 226.168 z M 134.029 219.944 L 131.029 225.944 L 137.029 225.944 z M 134.620 219.723 L 131.620 225.723 L 137.620 225.723 z M 135.212 219.505 L 132.212 225.505 L 138.212 225.505 z M 135.805 219.290 L 132.805 225.290 L 138.805 225.290 z M 136.399 219.078 L 133.399 225.078 L 139.399 225.078 z M 136.996 218.873 L 133.996 224.873 L 139.996 224.873 z M 137.594 218.674 L 134.594 224.674 L 140.594 224.674 z M 138.194 218.480 L 135.194 224.480 L 141.194 224.480 z M 138.796 218.289 L 135.796 224.289 L 141.796 224.289 z M 139.398 218.100 L 136.398 224.100 L 142.398 224.100 z M 139.999 217.910 L 136.999 223.910 L 142.999 223.910 z M 140.601 217.719 L 137.601 223.719 L 143.601 223.719 z M 141.201 217.525 L 138.201 223.525 L 144.201 223.525 z M 141.799 217.325 L 138.799 223.325 L 144.799 223.325 z M 142.395 217.119 L 139.395 223.119 L 145.395 223.119 z M 142.990 216.908 L 139.990 222.908 L 145.990 222.908 z M 143.589 216.712 L 140.589 222.712 L 146.589 222.712 z M 144.192 216.524 L 141.192 222.524 L 147.192 222.524 z M 144.793 216.335 L 141.793 222.335 L 147.793 222.335 z M 145.391 216.134 L 142.391 222.134 L 148.391 222.134 z M 145.981 215.909 L 142.981 221.909 L 148.981 221.909 z M 146.553 215.645 L 143.553 221.645 L 149.553 221.645 z M 147.093 215.319 L 144.093 221.319 L 150.093 221.319 z M 147.571 214.909 L 144.571 220.909 L 150.571 220.909 z M 147.987 214.435 L 144.987 220.435 L 150.987 220.435 z M 148.349 213.919 L 145.349 219.919 L 151.349 219.919 z M 148.648 213.364 L 145.648 219.364 L 151.648 219.364 z M 148.856 212.769 L 145.856 218.769 L 151.856 218.769 z M 148.936 212.144 L 145.936 218.144 L 151.936 218.144 z M 148.985 211.515 L 145.985 217.515 L 151.985 217.515 z M 149.024 210.886 L 146.024 216.886 L 152.024 216.886 z M 149.053 210.256 L 146.053 216.256 L 152.053 216.256 z M 149.074 209.625 L 146.074 215.625 L 152.074 215.625 z M 149.087 208.994 L 146.087 214.994 L 152.087 214.994 z M 149.091 208.364 L 146.091 214.364 L 152.091 214.364 z" style="fill-opacity: 0; stroke: #000000; stroke-linejoin: miter; stroke: #000000; stroke-linejoin: miter"/>
    </g>
   </g>
   <g id="line2d_30">
    <g>
    <path d="M 88.182 300.000 L 94.182 300.000 L 94.182 294.000 L 88.182 294.000 z M 92.915 298.131 L 98.915 298.131 L 98.915 292.131 L 92.915 292.131 z M 96.535 297.375 L 102.535 297.375 L 102.535 291.375 L 96.535 291.375 z M 100.011 296.569 L 106.011 296.569 L 106.011 290.569 L 100.011 290.569 z M 103.178 294.845 L 109.178 294.845 L 109.178 288.845 L 103.178 288.845 z M 106.098 292.975 L 112.098 292.975 L 112.098 286.975 L 106.098 286.975 z M 107.646 291.890 L 113.646 291.890 L 113.646 285.890 L 107.646 285.890 z M 108.993 290.868 L 114.993 290.868 L 114.993 284.868 L 108.993 284.868 z M 110.093 289.962 L 116.093 289.962 L 116.093 283.962 L 110.093 283.962 z M 111.151 289.004 L 117.151 289.004 L 117.151 283.004 L 111.151 283.004 z M 112.184 288.021 L 118.184 288.021 L 118.184 282.021 L 112.184 282.021 z M 113.220 287.041 L 119.220 287.041 L 119.220 281.041 L 113.220 281.041 z M 114.290 286.099 L 120.290 286.099 L 120.290 280.099 L 114.290 280.099 z M 115.369 285.166 L 121.369 285.166 L 121.369 279.166 L 115.369 279.166 z M 116.381 284.162 L 122.381 284.162 L 122.381 278.162 L 116.381 278.162 z M 119.002 280.601 L 125.002 280.601 L 125.002 274.601 L 119.002 274.601 z M 121.719 277.684 L 127.719 277.684 L 127.719 271.684 L 121.719 271.684 z M 124.909 273.454 L 130.909 273.454 L 130.909 267.454 L 124.909 267.454 z M 125.685 272.332 L 131.685 272.332 L 131.685 266.332 L 125.685 266.332 z M 126.438 271.195 L 132.438 271.195 L 132.438 265.195 L 126.438 265.195 z M 127.176 270.047 L 133.176 270.047 L 133.176 264.047 L 127.176 264.047 z M 127.907 268.896 L 133.907 268.896 L 133.907 262.896 L 127.907 262.896 z M 128.639 267.745 L 134.639 267.745 L 134.639 261.745 L 128.639 261.745 z M 129.381 266.600 L 135.381 266.600 L 135.381 260.600 L 129.381 260.600 z M 130.140 265.466 L 136.140 265.466 L 136.140 259.466 L 130.140 259.466 z M 130.926 264.351 L 136.926 264.351 L 136.926 258.351 L 130.926 258.351 z M 132.823 261.805 L 138.823 261.805 L 138.823 255.805 L 132.823 255.805 z M 134.644 259.212 L 140.644 259.212 L 140.644 253.212 L 134.644 253.212 z M 135.820 257.271 L 141.820 257.271 L 141.820 251.271 L 135.820 251.271 z M 136.527 256.059 L 142.527 256.059 L 142.527 250.059 L 136.527 250.059 z M 137.234 254.847 L 143.234 254.847 L 143.234 248.847 L 137.234 248.847 z M 137.939 253.634 L 143.939 253.634 L 143.939 247.634 L 137.939 247.634 z M 138.641 252.420 L 144.641 252.420 L 144.641 246.420 L 138.641 246.420 z M 139.340 251.204 L 145.340 251.204 L 145.340 245.204 L 139.340 245.204 z M 140.035 249.986 L 146.035 249.986 L 146.035 243.986 L 140.035 243.986 z M 140.728 248.766 L 146.728 248.766 L 146.728 242.766 L 140.728 242.766 z M 141.416 247.543 L 147.416 247.543 L 147.416 241.543 L 141.416 241.543 z M 142.101 246.319 L 148.101 246.319 L 148.101 240.319 L 142.101 240.319 z M 142.781 245.092 L 148.781 245.092 L 148.781 239.092 L 142.781 239.092 z M 143.457 243.863 L 149.457 243.863 L 149.457 237.863 L 143.457 237.863 z M 144.128 242.631 L 150.128 242.631 L 150.128 236.631 L 144.128 236.631 z M 144.794 241.397 L 150.794 241.397 L 150.794 235.397 L 144.794 235.397 z M 145.449 240.156 L 151.449 240.156 L 151.449 234.156 L 145.449 234.156 z M 146.091 238.909 L 152.091 238.909 L 152.091 232.909 L 146.091 232.909 z" style="fill-opacity: 0; stroke: #000000; stroke-linejoin: miter; stroke: #000000; stroke-linejoin: miter"/>
    </g>
   </g>
   <g id="patch_13">
    <path d="M 43.272727 302 
L 43.272727 208.181818 
" style="fill: none; stroke: #000000; stroke-width: 0.8; stroke-linejoin: miter; stroke-linecap: square"/>
   </g>
   <g id="patch_14">
    <path d="M 149.363636 302 
L 149.363636 208.181818 
" style="fill: none; stroke: #000000; stroke-width: 0.8; stroke-linejoin: miter; stroke-linecap: square"/>
   </g>
   <g id="patch_15">
    <path d="M 43.272727 302 
L 149.363636 302 
" style="fill: none; stroke: #000000; stroke-width: 0.8; stroke-linejoin: miter; stroke-linecap: square"/>
   </g>
   <g id="patch_16">
    <path d="M 43.272727 208.181818 
L 149.363636 208.181818 
" style="fill: none; stroke: #000000; stroke-width: 0.8; stroke-linejoin: miter; stroke-linecap: square"/>
   </g>
   <g id="line2d_31">
    <path d="M 48 288.090909 
L 51.197984 286.939233 
L 54.276583 285.602322 
L 57.210597 284.098778 
L 59.974821 282.447201 
L 62.544155 280.661584 
L 64.299889 279.180004 
L 66.259596 277.215558 
L 68.405923 274.735183 
L 71.567501 270.687725 
L 75.436581 265.785304 
L 90.842938 247.783971 
L 93.629302 245.076484 
L 96.082344 242.986746 
L 98.402965 241.344253 
L 104.835891 237.201612 
L 110.649849 233.722278 
L 116.376286 230.557052 
L 122.790389 227.243169 
L 127.344384 225.132061 
L 130.77835 223.756614 
L 134.942131 222.379681 
L 140.338459 220.573726 
L 143.13945 219.401392 
L 146.56229 217.799989 
L 147.362915 217.184331 
L 147.783715 216.630412 
L 148.42357 215.263147 
L 148.869839 213.794977 
L 149.136756 212.121536 
L 149.181818 211.090909 
L 149.181818 211.090909 
" clip-path="url(#p1774c23954)" style="fill: none; stroke: #ff4500; stroke-width: 1.5; stroke-linecap: square"/>
   </g>
   <g id="line2d_32">
    <path d="M 90.636364 298.090909 
L 95.489976 297.208196 
L 101.641025 295.850748 
L 104.351012 295.067725 
L 106.399658 294.243028 
L 108.544659 293.137959 
L 111.001203 291.614556 
L 113.7803 289.617453 
L 115.942789 287.815442 
L 118.118573 285.71063 
L 120.244604 283.346432 
L 122.157383 280.899461 
L 123.601954 278.669422 
L 125.425144 275.391066 
L 128.137595 270.533049 
L 132.431217 263.702548 
L 141.387366 249.898608 
L 146.551515 242.222993 
L 147.680147 239.987564 
L 148.40019 238.085159 
L 148.823185 236.353336 
L 148.909091 235.909091 
L 148.909091 235.909091 
" clip-path="url(#p1774c23954)" style="fill: none; stroke: #ff4500; stroke-width: 1.5; stroke-linecap: square"/>
   </g>
  </g>
  <g id="axes_4">
   <g id="patch_17">
    <path d="M 43.272727 405.636364 
L 149.363636 405.636364 
L 149.363636 311.818182 
L 43.272727 311.818182 
z
" style="fill: #ffffff"/>
   </g>
   <g id="matplotlib.axis_7">
    <g id="xtick_10">
     <g id="line2d_33">
      <g>
    <path d="M 43.273 405.636 L 43.273 409.136" style="stroke: #000000; stroke-width: 0.8; stroke: #000000; stroke-width: 0.8"/>
      </g>
     </g>
    </g>
    <g id="xtick_11">
     <g id="line2d_34">
      <g>
    <path d="M 88.740 405.636 L 88.740 409.136" style="stroke: #000000; stroke-width: 0.8; stroke: #000000; stroke-width: 0.8"/>
      </g>
     </g>
    </g>
    <g id="xtick_12">
     <g id="line2d_35">
      <g>
    <path d="M 134.208 405.636 L 134.208 409.136" style="stroke: #000000; stroke-width: 0.8; stroke: #000000; stroke-width: 0.8"/>
      </g>
     </g>
    </g>
   </g>
   <g id="matplotlib.axis_8">
    <g id="ytick_12">
     <g id="line2d_36">
      <g>
    <path d="M 43.273 401.636 L 39.773 401.636" style="stroke: #000000; stroke-width: 0.8; stroke: #000000; stroke-width: 0.8"/>
      </g>
     </g>
     <g id="text_12">
      <text style="font-size: 10px; font-family: 'DejaVu Sans', 'Noto Sans CJK SC', sans-serif; text-anchor: end" x="36.272727" y="405.435582" transform="rotate(-0 36.272727 405.435582)">0</text>
     </g>
    </g>
    <g id="ytick_13">
     <g id="line2d_37">
      <g>
    <path d="M 43.273 377.150 L 39.773 377.150" style="stroke: #000000; stroke-width: 0.8; stroke: #000000; stroke-width: 0.8"/>
      </g>
     </g>
     <g id="text_13">
      <text style="font-size: 10px; font-family: 'DejaVu Sans', 'Noto Sans CJK SC', sans-serif; text-anchor: end" x="36.272727" y="380.949219" transform="rotate(-0 36.272727 380.949219)">50</text>
     </g>
    </g>
    <g id="ytick_14">
     <g id="line2d_38">
      <g>
    <path d="M 43.273 352.664 L 39.773 352.664" style="stroke: #000000; stroke-width: 0.8; stroke: #000000; stroke-width: 0.8"/>
      </g>
     </g>
     <g id="text_14">
      <text style="font-size: 10px; font-family: 'DejaVu Sans', 'Noto Sans CJK SC', sans-serif; text-anchor: end" x="36.272727" y="356.462855" transform="rotate(-0 36.272727 356.462855)">100</text>
     </g>
    </g>
    <g id="ytick_15">
     <g id="line2d_39">
      <g>
    <path d="M 43.273 328.177 L 39.773 328.177" style="stroke: #000000; stroke-width: 0.8; stroke: #000000; stroke-width: 0.8"/>
      </g>
     </g>
     <g id="text_15">
      <text style="font-size: 10px; font-family: 'DejaVu Sans', 'Noto Sans CJK SC', sans-serif; text-anchor: end" x="36.272727" y="331.976491" transform="rotate(-0 36.272727 331.976491)">150</text>
     </g>
    </g>
   </g>
   <g id="line2d_40">
    <g>
    <path d="M 53.364 397.364 C 54.159 397.364 54.922 397.048 55.485 396.485 C 56.048 395.922 56.364 395.159 56.364 394.364 C 56.364 393.568 56.048 392.805 55.485 392.242 C 54.922 391.680 54.159 391.364 53.364 391.364 C 52.568 391.364 51.805 391.680 51.242 392.242 C 50.680 392.805 50.364 393.568 50.364 394.364 C 50.364 395.159 50.680 395.922 51.242 396.485 C 51.805 397.048 52.568 397.364 53.364 397.364 z M 62.818 390.545 C 63.614 390.545 64.377 390.229 64.940 389.667 C 65.502 389.104 65.818 388.341 65.818 387.545 C 65.818 386.750 65.502 385.987 64.940 385.424 C 64.377 384.862 63.614 384.545 62.818 384.545 C 62.023 384.545 61.259 384.862 60.697 385.424 C 60.134 385.987 59.818 386.750 59.818 387.545 C 59.818 388.341 60.134 389.104 60.697 389.667 C 61.259 390.229 62.023 390.545 62.818 390.545 z M 68.091 383.909 C 68.887 383.909 69.650 383.593 70.212 383.030 C 70.775 382.468 71.091 381.705 71.091 380.909 C 71.091 380.113 70.775 379.350 70.212 378.788 C 69.650 378.225 68.887 377.909 68.091 377.909 C 67.295 377.909 66.532 378.225 65.970 378.788 C 65.407 379.350 65.091 380.113 65.091 380.909 C 65.091 381.705 65.407 382.468 65.970 383.030 C 66.532 383.593 67.295 383.909 68.091 383.909 z M 73.182 376.818 C 73.977 376.818 74.741 376.502 75.303 375.940 C 75.866 375.377 76.182 374.614 76.182 373.818 C 76.182 373.023 75.866 372.259 75.303 371.697 C 74.741 371.134 73.977 370.818 73.182 370.818 C 72.386 370.818 71.623 371.134 71.060 371.697 C 70.498 372.259 70.182 373.023 70.182 373.818 C 70.182 374.614 70.498 375.377 71.060 375.940 C 71.623 376.502 72.386 376.818 73.182 376.818 z M 77.000 369.364 C 77.796 369.364 78.559 369.048 79.121 368.485 C 79.684 367.922 80.000 367.159 80.000 366.364 C 80.000 365.568 79.684 364.805 79.121 364.242 C 78.559 363.680 77.796 363.364 77.000 363.364 C 76.204 363.364 75.441 363.680 74.879 364.242 C 74.316 364.805 74.000 365.568 74.000 366.364 C 74.000 367.159 74.316 367.922 74.879 368.485 C 75.441 369.048 76.204 369.364 77.000 369.364 z M 81.636 362.727 C 82.432 362.727 83.195 362.411 83.758 361.849 C 84.320 361.286 84.636 360.523 84.636 359.727 C 84.636 358.932 84.320 358.169 83.758 357.606 C 83.195 357.043 82.432 356.727 81.636 356.727 C 80.841 356.727 80.078 357.043 79.515 357.606 C 78.952 358.169 78.636 358.932 78.636 359.727 C 78.636 360.523 78.952 361.286 79.515 361.849 C 80.078 362.411 80.841 362.727 81.636 362.727 z M 87.818 355.909 C 88.614 355.909 89.377 355.593 89.940 355.030 C 90.502 354.468 90.818 353.705 90.818 352.909 C 90.818 352.113 90.502 351.350 89.940 350.788 C 89.377 350.225 88.614 349.909 87.818 349.909 C 87.023 349.909 86.259 350.225 85.697 350.788 C 85.134 351.350 84.818 352.113 84.818 352.909 C 84.818 353.705 85.134 354.468 85.697 355.030 C 86.259 355.593 87.023 355.909 87.818 355.909 z M 97.091 348.636 C 97.887 348.636 98.650 348.320 99.212 347.758 C 99.775 347.195 100.091 346.432 100.091 345.636 C 100.091 344.841 99.775 344.078 99.212 343.515 C 98.650 342.952 97.887 342.636 97.091 342.636 C 96.295 342.636 95.532 342.952 94.970 343.515 C 94.407 344.078 94.091 344.841 94.091 345.636 C 94.091 346.432 94.407 347.195 94.970 347.758 C 95.532 348.320 96.295 348.636 97.091 348.636 z M 109.545 341.636 C 110.341 341.636 111.104 341.320 111.667 340.758 C 112.229 340.195 112.545 339.432 112.545 338.636 C 112.545 337.841 112.229 337.078 111.667 336.515 C 111.104 335.952 110.341 335.636 109.545 335.636 C 108.750 335.636 107.987 335.952 107.424 336.515 C 106.862 337.078 106.545 337.841 106.545 338.636 C 106.545 339.432 106.862 340.195 107.424 340.758 C 107.987 341.320 108.750 341.636 109.545 341.636 z M 110.217 341.325 C 111.013 341.325 111.776 341.009 112.338 340.446 C 112.901 339.884 113.217 339.121 113.217 338.325 C 113.217 337.529 112.901 336.766 112.338 336.204 C 111.776 335.641 111.013 335.325 110.217 335.325 C 109.421 335.325 108.658 335.641 108.096 336.204 C 107.533 336.766 107.217 337.529 107.217 338.325 C 107.217 339.121 107.533 339.884 108.096 340.446 C 108.658 341.009 109.421 341.325 110.217 341.325 z M 110.891 341.018 C 111.686 341.018 112.449 340.702 113.012 340.139 C 113.574 339.576 113.891 338.813 113.891 338.018 C 113.891 337.222 113.574 336.459 113.012 335.896 C 112.449 335.334 111.686 335.018 110.891 335.018 C 110.095 335.018 109.332 335.334 108.769 335.896 C 108.207 336.459 107.891 337.222 107.891 338.018 C 107.891 338.813 108.207 339.576 108.769 340.139 C 109.332 340.702 110.095 341.018 110.891 341.018 z M 111.566 340.715 C 112.362 340.715 113.125 340.399 113.687 339.836 C 114.250 339.273 114.566 338.510 114.566 337.715 C 114.566 336.919 114.250 336.156 113.687 335.593 C 113.125 335.031 112.362 334.715 111.566 334.715 C 110.770 334.715 110.007 335.031 109.445 335.593 C 108.882 336.156 108.566 336.919 108.566 337.715 C 108.566 338.510 108.882 339.273 109.445 339.836 C 110.007 340.399 110.770 340.715 111.566 340.715 z M 112.243 340.416 C 113.039 340.416 113.802 340.100 114.365 339.537 C 114.927 338.975 115.243 338.212 115.243 337.416 C 115.243 336.620 114.927 335.857 114.365 335.295 C 113.802 334.732 113.039 334.416 112.243 334.416 C 111.448 334.416 110.685 334.732 110.122 335.295 C 109.559 335.857 109.243 336.620 109.243 337.416 C 109.243 338.212 109.559 338.975 110.122 339.537 C 110.685 340.100 111.448 340.416 112.243 340.416 z M 112.923 340.122 C 113.718 340.122 114.481 339.806 115.044 339.243 C 115.606 338.680 115.923 337.917 115.923 337.122 C 115.923 336.326 115.606 335.563 115.044 335.000 C 114.481 334.438 113.718 334.122 112.923 334.122 C 112.127 334.122 111.364 334.438 110.801 335.000 C 110.239 335.563 109.923 336.326 109.923 337.122 C 109.923 337.917 110.239 338.680 110.801 339.243 C 111.364 339.806 112.127 340.122 112.923 340.122 z M 113.604 339.832 C 114.399 339.832 115.163 339.516 115.725 338.953 C 116.288 338.391 116.604 337.628 116.604 336.832 C 116.604 336.036 116.288 335.273 115.725 334.711 C 115.163 334.148 114.399 333.832 113.604 333.832 C 112.808 333.832 112.045 334.148 111.482 334.711 C 110.920 335.273 110.604 336.036 110.604 336.832 C 110.604 337.628 110.920 338.391 111.482 338.953 C 112.045 339.516 112.808 339.832 113.604 339.832 z M 114.287 339.546 C 115.082 339.546 115.846 339.230 116.408 338.668 C 116.971 338.105 117.287 337.342 117.287 336.546 C 117.287 335.751 116.971 334.988 116.408 334.425 C 115.846 333.863 115.082 333.546 114.287 333.546 C 113.491 333.546 112.728 333.863 112.165 334.425 C 111.603 334.988 111.287 335.751 111.287 336.546 C 111.287 337.342 111.603 338.105 112.165 338.668 C 112.728 339.230 113.491 339.546 114.287 339.546 z M 114.971 339.265 C 115.767 339.265 116.530 338.949 117.093 338.386 C 117.655 337.824 117.971 337.061 117.971 336.265 C 117.971 335.469 117.655 334.706 117.093 334.144 C 116.530 333.581 115.767 333.265 114.971 333.265 C 114.176 333.265 113.413 333.581 112.850 334.144 C 112.288 334.706 111.971 335.469 111.971 336.265 C 111.971 337.061 112.288 337.824 112.850 338.386 C 113.413 338.949 114.176 339.265 114.971 339.265 z M 115.658 338.988 C 116.453 338.988 117.217 338.672 117.779 338.109 C 118.342 337.546 118.658 336.783 118.658 335.988 C 118.658 335.192 118.342 334.429 117.779 333.866 C 117.217 333.304 116.453 332.988 115.658 332.988 C 114.862 332.988 114.099 333.304 113.537 333.866 C 112.974 334.429 112.658 335.192 112.658 335.988 C 112.658 336.783 112.974 337.546 113.537 338.109 C 114.099 338.672 114.862 338.988 115.658 338.988 z M 116.346 338.715 C 117.142 338.715 117.905 338.399 118.467 337.836 C 119.030 337.273 119.346 336.510 119.346 335.715 C 119.346 334.919 119.030 334.156 118.467 333.593 C 117.905 333.031 117.142 332.715 116.346 332.715 C 115.550 332.715 114.787 333.031 114.225 333.593 C 113.662 334.156 113.346 334.919 113.346 335.715 C 113.346 336.510 113.662 337.273 114.225 337.836 C 114.787 338.399 115.550 338.715 116.346 338.715 z M 117.036 338.446 C 117.831 338.446 118.595 338.130 119.157 337.567 C 119.720 337.005 120.036 336.242 120.036 335.446 C 120.036 334.650 119.720 333.887 119.157 333.325 C 118.595 332.762 117.831 332.446 117.036 332.446 C 116.240 332.446 115.477 332.762 114.914 333.325 C 114.352 333.887 114.036 334.650 114.036 335.446 C 114.036 336.242 114.352 337.005 114.914 337.567 C 115.477 338.130 116.240 338.446 117.036 338.446 z M 117.727 338.182 C 118.523 338.182 119.286 337.866 119.849 337.303 C 120.411 336.741 120.727 335.977 120.727 335.182 C 120.727 334.386 120.411 333.623 119.849 333.060 C 119.286 332.498 118.523 332.182 117.727 332.182 C 116.932 332.182 116.169 332.498 115.606 333.060 C 115.043 333.623 114.727 334.386 114.727 335.182 C 114.727 335.977 115.043 336.741 115.606 337.303 C 116.169 337.866 116.932 338.182 117.727 338.182 z M 122.818 335.818 C 123.614 335.818 124.377 335.502 124.940 334.940 C 125.502 334.377 125.818 333.614 125.818 332.818 C 125.818 332.023 125.502 331.259 124.940 330.697 C 124.377 330.134 123.614 329.818 122.818 329.818 C 122.023 329.818 121.259 330.134 120.697 330.697 C 120.134 331.259 119.818 332.023 119.818 332.818 C 119.818 333.614 120.134 334.377 120.697 334.940 C 121.259 335.502 122.023 335.818 122.818 335.818 z M 124.909 335.273 C 125.705 335.273 126.468 334.957 127.030 334.394 C 127.593 333.831 127.909 333.068 127.909 332.273 C 127.909 331.477 127.593 330.714 127.030 330.151 C 126.468 329.589 125.705 329.273 124.909 329.273 C 124.113 329.273 123.350 329.589 122.788 330.151 C 122.225 330.714 121.909 331.477 121.909 332.273 C 121.909 333.068 122.225 333.831 122.788 334.394 C 123.350 334.957 124.113 335.273 124.909 335.273 z M 125.506 335.047 C 126.301 335.047 127.064 334.731 127.627 334.168 C 128.189 333.605 128.506 332.842 128.506 332.047 C 128.506 331.251 128.189 330.488 127.627 329.925 C 127.064 329.363 126.301 329.047 125.506 329.047 C 124.710 329.047 123.947 329.363 123.384 329.925 C 122.822 330.488 122.506 331.251 122.506 332.047 C 122.506 332.842 122.822 333.605 123.384 334.168 C 123.947 334.731 124.710 335.047 125.506 335.047 z M 126.101 334.819 C 126.897 334.819 127.660 334.503 128.223 333.940 C 128.785 333.378 129.101 332.615 129.101 331.819 C 129.101 331.023 128.785 330.260 128.223 329.698 C 127.660 329.135 126.897 328.819 126.101 328.819 C 125.306 328.819 124.543 329.135 123.980 329.698 C 123.417 330.260 123.101 331.023 123.101 331.819 C 123.101 332.615 123.417 333.378 123.980 333.940 C 124.543 334.503 125.306 334.819 126.101 334.819 z M 126.697 334.590 C 127.492 334.590 128.255 334.274 128.818 333.711 C 129.381 333.148 129.697 332.385 129.697 331.590 C 129.697 330.794 129.381 330.031 128.818 329.468 C 128.255 328.906 127.492 328.590 126.697 328.590 C 125.901 328.590 125.138 328.906 124.575 329.468 C 124.013 330.031 123.697 330.794 123.697 331.590 C 123.697 332.385 124.013 333.148 124.575 333.711 C 125.138 334.274 125.901 334.590 126.697 334.590 z M 127.291 334.359 C 128.087 334.359 128.850 334.043 129.413 333.480 C 129.975 332.918 130.291 332.154 130.291 331.359 C 130.291 330.563 129.975 329.800 129.413 329.238 C 128.850 328.675 128.087 328.359 127.291 328.359 C 126.496 328.359 125.733 328.675 125.170 329.238 C 124.607 329.800 124.291 330.563 124.291 331.359 C 124.291 332.154 124.607 332.918 125.170 333.480 C 125.733 334.043 126.496 334.359 127.291 334.359 z M 127.885 334.127 C 128.681 334.127 129.444 333.810 130.007 333.248 C 130.569 332.685 130.885 331.922 130.885 331.127 C 130.885 330.331 130.569 329.568 130.007 329.005 C 129.444 328.443 128.681 328.127 127.885 328.127 C 127.090 328.127 126.327 328.443 125.764 329.005 C 125.201 329.568 124.885 330.331 124.885 331.127 C 124.885 331.922 125.201 332.685 125.764 333.248 C 126.327 333.810 127.090 334.127 127.885 334.127 z M 128.479 333.893 C 129.274 333.893 130.038 333.577 130.600 333.014 C 131.163 332.451 131.479 331.688 131.479 330.893 C 131.479 330.097 131.163 329.334 130.600 328.771 C 130.038 328.209 129.274 327.893 128.479 327.893 C 127.683 327.893 126.920 328.209 126.357 328.771 C 125.795 329.334 125.479 330.097 125.479 330.893 C 125.479 331.688 125.795 332.451 126.357 333.014 C 126.920 333.577 127.683 333.893 128.479 333.893 z M 129.072 333.657 C 129.867 333.657 130.630 333.341 131.193 332.779 C 131.756 332.216 132.072 331.453 132.072 330.657 C 132.072 329.862 131.756 329.099 131.193 328.536 C 130.630 327.973 129.867 327.657 129.072 327.657 C 128.276 327.657 127.513 327.973 126.950 328.536 C 126.388 329.099 126.072 329.862 126.072 330.657 C 126.072 331.453 126.388 332.216 126.950 332.779 C 127.513 333.341 128.276 333.657 129.072 333.657 z M 129.664 333.421 C 130.460 333.421 131.223 333.105 131.785 332.542 C 132.348 331.979 132.664 331.216 132.664 330.421 C 132.664 329.625 132.348 328.862 131.785 328.299 C 131.223 327.737 130.460 327.421 129.664 327.421 C 128.868 327.421 128.105 327.737 127.543 328.299 C 126.980 328.862 126.664 329.625 126.664 330.421 C 126.664 331.216 126.980 331.979 127.543 332.542 C 128.105 333.105 128.868 333.421 129.664 333.421 z M 130.256 333.182 C 131.051 333.182 131.814 332.866 132.377 332.304 C 132.940 331.741 133.256 330.978 133.256 330.182 C 133.256 329.387 132.940 328.624 132.377 328.061 C 131.814 327.498 131.051 327.182 130.256 327.182 C 129.460 327.182 128.697 327.498 128.134 328.061 C 127.572 328.624 127.256 329.387 127.256 330.182 C 127.256 330.978 127.572 331.741 128.134 332.304 C 128.697 332.866 129.460 333.182 130.256 333.182 z M 130.847 332.943 C 131.642 332.943 132.406 332.627 132.968 332.064 C 133.531 331.501 133.847 330.738 133.847 329.943 C 133.847 329.147 133.531 328.384 132.968 327.821 C 132.406 327.259 131.642 326.943 130.847 326.943 C 130.051 326.943 129.288 327.259 128.726 327.821 C 128.163 328.384 127.847 329.147 127.847 329.943 C 127.847 330.738 128.163 331.501 128.726 332.064 C 129.288 332.627 130.051 332.943 130.847 332.943 z M 131.437 332.702 C 132.233 332.702 132.996 332.386 133.559 331.823 C 134.121 331.260 134.437 330.497 134.437 329.702 C 134.437 328.906 134.121 328.143 133.559 327.580 C 132.996 327.018 132.233 326.702 131.437 326.702 C 130.642 326.702 129.879 327.018 129.316 327.580 C 128.754 328.143 128.437 328.906 128.437 329.702 C 128.437 330.497 128.754 331.260 129.316 331.823 C 129.879 332.386 130.642 332.702 131.437 332.702 z M 132.027 332.459 C 132.823 332.459 133.586 332.143 134.149 331.580 C 134.711 331.018 135.027 330.255 135.027 329.459 C 135.027 328.664 134.711 327.900 134.149 327.338 C 133.586 326.775 132.823 326.459 132.027 326.459 C 131.232 326.459 130.469 326.775 129.906 327.338 C 129.343 327.900 129.027 328.664 129.027 329.459 C 129.027 330.255 129.343 331.018 129.906 331.580 C 130.469 332.143 131.232 332.459 132.027 332.459 z M 132.616 332.214 C 133.412 332.214 134.175 331.897 134.737 331.335 C 135.300 330.772 135.616 330.009 135.616 329.214 C 135.616 328.418 135.300 327.655 134.737 327.092 C 134.175 326.530 133.412 326.214 132.616 326.214 C 131.820 326.214 131.057 326.530 130.495 327.092 C 129.932 327.655 129.616 328.418 129.616 329.214 C 129.616 330.009 129.932 330.772 130.495 331.335 C 131.057 331.897 131.820 332.214 132.616 332.214 z M 133.204 331.965 C 133.999 331.965 134.762 331.649 135.325 331.086 C 135.887 330.524 136.204 329.761 136.204 328.965 C 136.204 328.169 135.887 327.406 135.325 326.844 C 134.762 326.281 133.999 325.965 133.204 325.965 C 132.408 325.965 131.645 326.281 131.082 326.844 C 130.520 327.406 130.204 328.169 130.204 328.965 C 130.204 329.761 130.520 330.524 131.082 331.086 C 131.645 331.649 132.408 331.965 133.204 331.965 z M 133.790 331.714 C 134.586 331.714 135.349 331.398 135.911 330.835 C 136.474 330.273 136.790 329.510 136.790 328.714 C 136.790 327.919 136.474 327.155 135.911 326.593 C 135.349 326.030 134.586 325.714 133.790 325.714 C 132.994 325.714 132.231 326.030 131.669 326.593 C 131.106 327.155 130.790 327.919 130.790 328.714 C 130.790 329.510 131.106 330.273 131.669 330.835 C 132.231 331.398 132.994 331.714 133.790 331.714 z M 134.376 331.462 C 135.171 331.462 135.934 331.145 136.497 330.583 C 137.060 330.020 137.376 329.257 137.376 328.462 C 137.376 327.666 137.060 326.903 136.497 326.340 C 135.934 325.778 135.171 325.462 134.376 325.462 C 133.580 325.462 132.817 325.778 132.254 326.340 C 131.692 326.903 131.376 327.666 131.376 328.462 C 131.376 329.257 131.692 330.020 132.254 330.583 C 132.817 331.145 133.580 331.462 134.376 331.462 z M 134.961 331.208 C 135.757 331.208 136.520 330.892 137.082 330.329 C 137.645 329.766 137.961 329.003 137.961 328.208 C 137.961 327.412 137.645 326.649 137.082 326.086 C 136.520 325.524 135.757 325.208 134.961 325.208 C 134.165 325.208 133.402 325.524 132.840 326.086 C 132.277 326.649 131.961 327.412 131.961 328.208 C 131.961 329.003 132.277 329.766 132.840 330.329 C 133.402 330.892 134.165 331.208 134.961 331.208 z M 135.546 330.953 C 136.342 330.953 137.105 330.637 137.667 330.075 C 138.230 329.512 138.546 328.749 138.546 327.953 C 138.546 327.158 138.230 326.395 137.667 325.832 C 137.105 325.270 136.342 324.953 135.546 324.953 C 134.750 324.953 133.987 325.270 133.425 325.832 C 132.862 326.395 132.546 327.158 132.546 327.953 C 132.546 328.749 132.862 329.512 133.425 330.075 C 133.987 330.637 134.750 330.953 135.546 330.953 z M 136.131 330.699 C 136.927 330.699 137.690 330.383 138.252 329.820 C 138.815 329.258 139.131 328.495 139.131 327.699 C 139.131 326.904 138.815 326.140 138.252 325.578 C 137.690 325.015 136.927 324.699 136.131 324.699 C 135.335 324.699 134.572 325.015 134.010 325.578 C 133.447 326.140 133.131 326.904 133.131 327.699 C 133.131 328.495 133.447 329.258 134.010 329.820 C 134.572 330.383 135.335 330.699 136.131 330.699 z M 136.716 330.445 C 137.512 330.445 138.275 330.129 138.837 329.567 C 139.400 329.004 139.716 328.241 139.716 327.445 C 139.716 326.650 139.400 325.887 138.837 325.324 C 138.275 324.762 137.512 324.445 136.716 324.445 C 135.921 324.445 135.157 324.762 134.595 325.324 C 134.032 325.887 133.716 326.650 133.716 327.445 C 133.716 328.241 134.032 329.004 134.595 329.567 C 135.157 330.129 135.921 330.445 136.716 330.445 z M 137.302 330.193 C 138.098 330.193 138.861 329.877 139.423 329.314 C 139.986 328.752 140.302 327.989 140.302 327.193 C 140.302 326.397 139.986 325.634 139.423 325.072 C 138.861 324.509 138.098 324.193 137.302 324.193 C 136.506 324.193 135.743 324.509 135.181 325.072 C 134.618 325.634 134.302 326.397 134.302 327.193 C 134.302 327.989 134.618 328.752 135.181 329.314 C 135.743 329.877 136.506 330.193 137.302 330.193 z M 137.889 329.942 C 138.684 329.942 139.447 329.626 140.010 329.064 C 140.572 328.501 140.889 327.738 140.889 326.942 C 140.889 326.147 140.572 325.384 140.010 324.821 C 139.447 324.259 138.684 323.942 137.889 323.942 C 137.093 323.942 136.330 324.259 135.767 324.821 C 135.205 325.384 134.889 326.147 134.889 326.942 C 134.889 327.738 135.205 328.501 135.767 329.064 C 136.330 329.626 137.093 329.942 137.889 329.942 z M 138.476 329.695 C 139.272 329.695 140.035 329.379 140.598 328.816 C 141.160 328.254 141.476 327.491 141.476 326.695 C 141.476 325.899 141.160 325.136 140.598 324.574 C 140.035 324.011 139.272 323.695 138.476 323.695 C 137.681 323.695 136.918 324.011 136.355 324.574 C 135.793 325.136 135.476 325.899 135.476 326.695 C 135.476 327.491 135.793 328.254 136.355 328.816 C 136.918 329.379 137.681 329.695 138.476 329.695 z M 139.067 329.454 C 139.863 329.454 140.626 329.138 141.188 328.575 C 141.751 328.013 142.067 327.250 142.067 326.454 C 142.067 325.658 141.751 324.895 141.188 324.333 C 140.626 323.770 139.863 323.454 139.067 323.454 C 138.271 323.454 137.508 323.770 136.946 324.333 C 136.383 324.895 136.067 325.658 136.067 326.454 C 136.067 327.250 136.383 328.013 136.946 328.575 C 137.508 329.138 138.271 329.454 139.067 329.454 z M 139.660 329.218 C 140.455 329.218 141.218 328.902 141.781 328.339 C 142.344 327.777 142.660 327.013 142.660 326.218 C 142.660 325.422 142.344 324.659 141.781 324.097 C 141.218 323.534 140.455 323.218 139.660 323.218 C 138.864 323.218 138.101 323.534 137.538 324.097 C 136.976 324.659 136.660 325.422 136.660 326.218 C 136.660 327.013 136.976 327.777 137.538 328.339 C 138.101 328.902 138.864 329.218 139.660 329.218 z M 140.253 328.984 C 141.049 328.984 141.812 328.668 142.374 328.105 C 142.937 327.543 143.253 326.779 143.253 325.984 C 143.253 325.188 142.937 324.425 142.374 323.862 C 141.812 323.300 141.049 322.984 140.253 322.984 C 139.457 322.984 138.694 323.300 138.132 323.862 C 137.569 324.425 137.253 325.188 137.253 325.984 C 137.253 326.779 137.569 327.543 138.132 328.105 C 138.694 328.668 139.457 328.984 140.253 328.984 z M 140.846 328.749 C 141.642 328.749 142.405 328.433 142.968 327.871 C 143.530 327.308 143.846 326.545 143.846 325.749 C 143.846 324.954 143.530 324.191 142.968 323.628 C 142.405 323.065 141.642 322.749 140.846 322.749 C 140.051 322.749 139.287 323.065 138.725 323.628 C 138.162 324.191 137.846 324.954 137.846 325.749 C 137.846 326.545 138.162 327.308 138.725 327.871 C 139.287 328.433 140.051 328.749 140.846 328.749 z M 141.438 328.512 C 142.234 328.512 142.997 328.196 143.560 327.633 C 144.122 327.071 144.438 326.307 144.438 325.512 C 144.438 324.716 144.122 323.953 143.560 323.391 C 142.997 322.828 142.234 322.512 141.438 322.512 C 140.643 322.512 139.879 322.828 139.317 323.391 C 138.754 323.953 138.438 324.716 138.438 325.512 C 138.438 326.307 138.754 327.071 139.317 327.633 C 139.879 328.196 140.643 328.512 141.438 328.512 z M 142.028 328.269 C 142.824 328.269 143.587 327.953 144.149 327.390 C 144.712 326.827 145.028 326.064 145.028 325.269 C 145.028 324.473 144.712 323.710 144.149 323.147 C 143.587 322.585 142.824 322.269 142.028 322.269 C 141.232 322.269 140.469 322.585 139.907 323.147 C 139.344 323.710 139.028 324.473 139.028 325.269 C 139.028 326.064 139.344 326.827 139.907 327.390 C 140.469 327.953 141.232 328.269 142.028 328.269 z M 142.614 328.017 C 143.410 328.017 144.173 327.701 144.735 327.139 C 145.298 326.576 145.614 325.813 145.614 325.017 C 145.614 324.222 145.298 323.459 144.735 322.896 C 144.173 322.333 143.410 322.017 142.614 322.017 C 141.819 322.017 141.055 322.333 140.493 322.896 C 139.930 323.459 139.614 324.222 139.614 325.017 C 139.614 325.813 139.930 326.576 140.493 327.139 C 141.055 327.701 141.819 328.017 142.614 328.017 z M 143.196 327.755 C 143.991 327.755 144.754 327.439 145.317 326.876 C 145.880 326.314 146.196 325.551 146.196 324.755 C 146.196 323.959 145.880 323.196 145.317 322.634 C 144.754 322.071 143.991 321.755 143.196 321.755 C 142.400 321.755 141.637 322.071 141.074 322.634 C 140.512 323.196 140.196 323.959 140.196 324.755 C 140.196 325.551 140.512 326.314 141.074 326.876 C 141.637 327.439 142.400 327.755 143.196 327.755 z M 143.771 327.479 C 144.566 327.479 145.330 327.163 145.892 326.601 C 146.455 326.038 146.771 325.275 146.771 324.479 C 146.771 323.684 146.455 322.921 145.892 322.358 C 145.330 321.795 144.566 321.479 143.771 321.479 C 142.975 321.479 142.212 321.795 141.649 322.358 C 141.087 322.921 140.771 323.684 140.771 324.479 C 140.771 325.275 141.087 326.038 141.649 326.601 C 142.212 327.163 142.975 327.479 143.771 327.479 z M 144.338 327.188 C 145.134 327.188 145.897 326.872 146.460 326.310 C 147.022 325.747 147.338 324.984 147.338 324.188 C 147.338 323.393 147.022 322.630 146.460 322.067 C 145.897 321.504 145.134 321.188 144.338 321.188 C 143.543 321.188 142.780 321.504 142.217 322.067 C 141.655 322.630 141.338 323.393 141.338 324.188 C 141.338 324.984 141.655 325.747 142.217 326.310 C 142.780 326.872 143.543 327.188 144.338 327.188 z M 144.899 326.884 C 145.694 326.884 146.458 326.568 147.020 326.005 C 147.583 325.442 147.899 324.679 147.899 323.884 C 147.899 323.088 147.583 322.325 147.020 321.762 C 146.458 321.200 145.694 320.884 144.899 320.884 C 144.103 320.884 143.340 321.200 142.777 321.762 C 142.215 322.325 141.899 323.088 141.899 323.884 C 141.899 324.679 142.215 325.442 142.777 326.005 C 143.340 326.568 144.103 326.884 144.899 326.884 z M 145.453 326.568 C 146.248 326.568 147.012 326.251 147.574 325.689 C 148.137 325.126 148.453 324.363 148.453 323.568 C 148.453 322.772 148.137 322.009 147.574 321.446 C 147.012 320.884 146.248 320.568 145.453 320.568 C 144.657 320.568 143.894 320.884 143.331 321.446 C 142.769 322.009 142.453 322.772 142.453 323.568 C 142.453 324.363 142.769 325.126 143.331 325.689 C 143.894 326.251 144.657 326.568 145.453 326.568 z M 146.001 326.242 C 146.797 326.242 147.560 325.926 148.123 325.363 C 148.685 324.801 149.001 324.038 149.001 323.242 C 149.001 322.446 148.685 321.683 148.123 321.121 C 147.560 320.558 146.797 320.242 146.001 320.242 C 145.206 320.242 144.443 320.558 143.880 321.121 C 143.317 321.683 143.001 322.446 143.001 323.242 C 143.001 324.038 143.317 324.801 143.880 325.363 C 144.443 325.926 145.206 326.242 146.001 326.242 z M 146.545 325.909 C 147.341 325.909 148.104 325.593 148.667 325.030 C 149.229 324.468 149.545 323.705 149.545 322.909 C 149.545 322.113 149.229 321.350 148.667 320.788 C 148.104 320.225 147.341 319.909 146.545 319.909 C 145.750 319.909 144.987 320.225 144.424 320.788 C 143.862 321.350 143.545 322.113 143.545 322.909 C 143.545 323.705 143.862 324.468 144.424 325.030 C 144.987 325.593 145.750 325.909 146.545 325.909 z M 147.818 324.364 C 148.614 324.364 149.377 324.048 149.940 323.485 C 150.502 322.922 150.818 322.159 150.818 321.364 C 150.818 320.568 150.502 319.805 149.940 319.242 C 149.377 318.680 148.614 318.364 147.818 318.364 C 147.023 318.364 146.259 318.680 145.697 319.242 C 145.134 319.805 144.818 320.568 144.818 321.364 C 144.818 322.159 145.134 322.922 145.697 323.485 C 146.259 324.048 147.023 324.364 147.818 324.364 z M 148.259 323.287 C 149.055 323.287 149.818 322.971 150.381 322.409 C 150.943 321.846 151.259 321.083 151.259 320.287 C 151.259 319.492 150.943 318.729 150.381 318.166 C 149.818 317.604 149.055 317.287 148.259 317.287 C 147.464 317.287 146.701 317.604 146.138 318.166 C 145.575 318.729 145.259 319.492 145.259 320.287 C 145.259 321.083 145.575 321.846 146.138 322.409 C 146.701 322.971 147.464 323.287 148.259 323.287 z M 148.608 322.178 C 149.404 322.178 150.167 321.862 150.730 321.300 C 151.292 320.737 151.608 319.974 151.608 319.178 C 151.608 318.383 151.292 317.620 150.730 317.057 C 150.167 316.494 149.404 316.178 148.608 316.178 C 147.813 316.178 147.050 316.494 146.487 317.057 C 145.924 317.620 145.608 318.383 145.608 319.178 C 145.608 319.974 145.924 320.737 146.487 321.300 C 147.050 321.862 147.813 322.178 148.608 322.178 z M 148.834 321.038 C 149.630 321.038 150.393 320.721 150.956 320.159 C 151.518 319.596 151.834 318.833 151.834 318.038 C 151.834 317.242 151.518 316.479 150.956 315.916 C 150.393 315.354 149.630 315.038 148.834 315.038 C 148.039 315.038 147.275 315.354 146.713 315.916 C 146.150 316.479 145.834 317.242 145.834 318.038 C 145.834 318.833 146.150 319.596 146.713 320.159 C 147.275 320.721 148.039 321.038 148.834 321.038 z M 149.004 319.887 C 149.800 319.887 150.563 319.571 151.125 319.008 C 151.688 318.446 152.004 317.683 152.004 316.887 C 152.004 316.091 151.688 315.328 151.125 314.766 C 150.563 314.203 149.800 313.887 149.004 313.887 C 148.208 313.887 147.445 314.203 146.883 314.766 C 146.320 315.328 146.004 316.091 146.004 316.887 C 146.004 317.683 146.320 318.446 146.883 319.008 C 147.445 319.571 148.208 319.887 149.004 319.887 z M 149.091 318.727 C 149.887 318.727 150.650 318.411 151.212 317.849 C 151.775 317.286 152.091 316.523 152.091 315.727 C 152.091 314.932 151.775 314.169 151.212 313.606 C 150.650 313.043 149.887 312.727 149.091 312.727 C 148.295 312.727 147.532 313.043 146.970 313.606 C 146.407 314.169 146.091 314.932 146.091 315.727 C 146.091 316.523 146.407 317.286 146.970 317.849 C 147.532 318.411 148.295 318.727 149.091 318.727 z" style="fill-opacity: 0; stroke: #000000; stroke: #000000"/>
    </g>
   </g>
   <g id="line2d_41">
    <g>
    <path d="M 85.182 402.727 L 91.182 402.727 L 91.182 396.727 L 85.182 396.727 z M 89.266 400.764 L 95.266 400.764 L 95.266 394.764 L 89.266 394.764 z M 92.911 399.091 L 98.911 399.091 L 98.911 393.091 L 92.911 393.091 z M 96.545 397.029 L 102.545 397.029 L 102.545 391.029 L 96.545 391.029 z M 99.992 394.973 L 105.992 394.973 L 105.992 388.973 L 99.992 388.973 z M 103.183 392.465 L 109.183 392.465 L 109.183 386.465 L 103.183 386.465 z M 106.086 390.181 L 112.086 390.181 L 112.086 384.181 L 106.086 384.181 z M 107.646 388.756 L 113.646 388.756 L 113.646 382.756 L 107.646 382.756 z M 108.999 387.352 L 114.999 387.352 L 114.999 381.352 L 108.999 381.352 z M 110.033 386.355 L 116.033 386.355 L 116.033 380.355 L 110.033 380.355 z M 111.113 385.407 L 117.113 385.407 L 117.113 379.407 L 111.113 379.407 z M 112.207 384.476 L 118.207 384.476 L 118.207 378.476 L 112.207 378.476 z M 113.285 383.527 L 119.285 383.527 L 119.285 377.527 L 113.285 377.527 z M 114.357 382.571 L 120.357 382.571 L 120.357 376.571 L 114.357 376.571 z M 115.417 381.601 L 121.417 381.601 L 121.417 375.601 L 115.417 375.601 z M 116.374 380.531 L 122.374 380.531 L 122.374 374.531 L 116.374 374.531 z M 119.006 375.919 L 125.006 375.919 L 125.006 369.919 L 119.006 369.919 z M 121.720 372.766 L 127.720 372.766 L 127.720 366.766 L 121.720 366.766 z M 124.903 367.833 L 130.903 367.833 L 130.903 361.833 L 124.903 361.833 z M 125.672 366.711 L 131.672 366.711 L 131.672 360.711 L 125.672 360.711 z M 126.498 365.629 L 132.498 365.629 L 132.498 359.629 L 126.498 359.629 z M 127.358 364.575 L 133.358 364.575 L 133.358 358.575 L 127.358 358.575 z M 128.242 363.541 L 134.242 363.541 L 134.242 357.541 L 128.242 357.541 z M 129.138 362.517 L 135.138 362.517 L 135.138 356.517 L 129.138 356.517 z M 130.037 361.495 L 136.037 361.495 L 136.037 355.495 L 130.037 355.495 z M 130.927 360.466 L 136.927 360.466 L 136.927 354.466 L 130.927 354.466 z M 132.823 358.227 L 138.823 358.227 L 138.823 352.227 L 132.823 352.227 z M 134.636 356.109 L 140.636 356.109 L 140.636 350.109 L 134.636 350.109 z M 135.815 354.747 L 141.815 354.747 L 141.815 348.747 L 135.815 348.747 z M 136.697 353.734 L 142.697 353.734 L 142.697 347.734 L 136.697 347.734 z M 137.581 352.723 L 143.581 352.723 L 143.581 346.723 L 137.581 346.723 z M 138.466 351.712 L 144.466 351.712 L 144.466 345.712 L 138.466 345.712 z M 139.352 350.702 L 145.352 350.702 L 145.352 344.702 L 139.352 344.702 z M 140.237 349.691 L 146.237 349.691 L 146.237 343.691 L 140.237 343.691 z M 141.123 348.681 L 147.123 348.681 L 147.123 342.681 L 141.123 342.681 z M 142.010 347.672 L 148.010 347.672 L 148.010 341.672 L 142.010 341.672 z M 142.897 346.664 L 148.897 346.664 L 148.897 340.664 L 142.897 340.664 z M 143.785 345.656 L 149.785 345.656 L 149.785 339.656 L 143.785 339.656 z M 144.674 344.649 L 150.674 344.649 L 150.674 338.649 L 144.674 338.649 z M 145.564 343.642 L 151.564 343.642 L 151.564 337.642 L 145.564 337.642 z M 146.455 342.636 L 152.455 342.636 L 152.455 336.636 L 146.455 336.636 z" style="fill-opacity: 0; stroke: #000000; stroke-linejoin: miter; stroke: #000000; stroke-linejoin: miter"/>
    </g>
   </g>
   <g id="patch_18">
    <path d="M 43.272727 405.636364 
L 43.272727 311.818182 
" style="fill: none; stroke: #000000; stroke-width: 0.8; stroke-linejoin: miter; stroke-linecap: square"/>
   </g>
   <g id="patch_19">
    <path d="M 149.363636 405.636364 
L 149.363636 311.818182 
" style="fill: none; stroke: #000000; stroke-width: 0.8; stroke-linejoin: miter; stroke-linecap: square"/>
   </g>
   <g id="patch_20">
    <path d="M 43.272727 405.636364 
L 149.363636 405.636364 
" style="fill: none; stroke: #000000; stroke-width: 0.8; stroke-linejoin: miter; stroke-linecap: square"/>
   </g>
   <g id="patch_21">
    <path d="M 43.272727 311.818182 
L 149.363636 311.818182 
" style="fill: none; stroke: #000000; stroke-width: 0.8; stroke-linejoin: miter; stroke-linecap: square"/>
   </g>
   <g id="line2d_42">
    <path d="M 52.909091 382.545455 
L 55.920199 381.685714 
L 59.015232 380.55557 
L 62.166639 379.154226 
L 65.3436 377.493476 
L 67.871912 375.960015 
L 70.160765 374.27577 
L 72.510856 372.259306 
L 75.004669 369.815828 
L 77.133777 367.431389 
L 78.5483 365.463121 
L 83.252995 358.568369 
L 85.832966 355.740472 
L 88.750696 352.882766 
L 91.827104 350.19452 
L 94.852644 347.841919 
L 97.212033 346.283014 
L 103.158035 342.770151 
L 109.517927 339.162991 
L 113.845563 336.964276 
L 117.353128 335.417247 
L 122.459918 333.443395 
L 129.073269 330.854745 
L 134.633131 328.663015 
L 138.599271 326.983101 
L 141.088025 325.709097 
L 143.068171 324.466054 
L 145.673771 322.565835 
L 146.956552 321.392887 
L 147.850357 320.292414 
L 148.359463 319.302849 
L 148.720833 317.879994 
L 149.029864 315.851523 
L 149.090909 314.545455 
L 149.090909 314.545455 
" clip-path="url(#p2405186765)" style="fill: none; stroke: #1e90ff; stroke-width: 1.5; stroke-linecap: square"/>
   </g>
   <g id="line2d_43">
    <path d="M 88.181818 401.363636 
L 90.657768 401.195715 
L 93.374128 400.78597 
L 96.449897 400.092861 
L 100.393632 398.966763 
L 102.181671 398.261697 
L 104.209736 397.216774 
L 106.555553 395.743174 
L 109.340012 393.716728 
L 111.130209 392.167635 
L 113.14045 390.114829 
L 115.8238 387.012503 
L 118.329277 383.84105 
L 121.007037 380.018171 
L 124.617305 374.492356 
L 129.772538 366.021902 
L 138.338997 352.206617 
L 140.885033 348.51093 
L 143.0872 345.694448 
L 145.670865 342.770258 
L 148.727273 339.636364 
L 148.727273 339.636364 
" clip-path="url(#p2405186765)" style="fill: none; stroke: #1e90ff; stroke-width: 1.5; stroke-linecap: square"/>
   </g>
  </g>
  <g id="axes_5">
   <g id="patch_22">
    <path d="M 43.272727 508.818182 
L 149.363636 508.818182 
L 149.363636 415 
L 43.272727 415 
z
" style="fill: #ffffff"/>
   </g>
   <g id="matplotlib.axis_9">
    <g id="xtick_13">
     <g id="line2d_44">
      <g>
    <path d="M 43.273 508.818 L 43.273 512.318" style="stroke: #000000; stroke-width: 0.8; stroke: #000000; stroke-width: 0.8"/>
      </g>
     </g>
    </g>
    <g id="xtick_14">
     <g id="line2d_45">
      <g>
    <path d="M 88.740 508.818 L 88.740 512.318" style="stroke: #000000; stroke-width: 0.8; stroke: #000000; stroke-width: 0.8"/>
      </g>
     </g>
    </g>
    <g id="xtick_15">
     <g id="line2d_46">
      <g>
    <path d="M 134.208 508.818 L 134.208 512.318" style="stroke: #000000; stroke-width: 0.8; stroke: #000000; stroke-width: 0.8"/>
      </g>
     </g>
    </g>
   </g>
   <g id="matplotlib.axis_10">
    <g id="ytick_16">
     <g id="line2d_47">
      <g>
    <path d="M 43.273 504.364 L 39.773 504.364" style="stroke: #000000; stroke-width: 0.8; stroke: #000000; stroke-width: 0.8"/>
      </g>
     </g>
     <g id="text_16">
      <text style="font-size: 10px; font-family: 'DejaVu Sans', 'Noto Sans CJK SC', sans-serif; text-anchor: end" x="36.272727" y="508.162855" transform="rotate(-0 36.272727 508.162855)">0</text>
     </g>
    </g>
    <g id="ytick_17">
     <g id="line2d_48">
      <g>
    <path d="M 43.273 479.791 L 39.773 479.791" style="stroke: #000000; stroke-width: 0.8; stroke: #000000; stroke-width: 0.8"/>
      </g>
     </g>
     <g id="text_17">
      <text style="font-size: 10px; font-family: 'DejaVu Sans', 'Noto Sans CJK SC', sans-serif; text-anchor: end" x="36.272727" y="483.590128" transform="rotate(-0 36.272727 483.590128)">100</text>
     </g>
    </g>
    <g id="ytick_18">
     <g id="line2d_49">
      <g>
    <path d="M 43.273 455.218 L 39.773 455.218" style="stroke: #000000; stroke-width: 0.8; stroke: #000000; stroke-width: 0.8"/>
      </g>
     </g>
     <g id="text_18">
      <text style="font-size: 10px; font-family: 'DejaVu Sans', 'Noto Sans CJK SC', sans-serif; text-anchor: end" x="36.272727" y="459.017401" transform="rotate(-0 36.272727 459.017401)">200</text>
     </g>
    </g>
    <g id="ytick_19">
     <g id="line2d_50">
      <g>
    <path d="M 43.273 430.645 L 39.773 430.645" style="stroke: #000000; stroke-width: 0.8; stroke: #000000; stroke-width: 0.8"/>
      </g>
     </g>
     <g id="text_19">
      <text style="font-size: 10px; font-family: 'DejaVu Sans', 'Noto Sans CJK SC', sans-serif; text-anchor: end" x="36.272727" y="434.444673" transform="rotate(-0 36.272727 434.444673)">300</text>
     </g>
    </g>
   </g>
   <g id="line2d_51">
    <g>
    <path d="M 45.545 505.545 C 46.341 505.545 47.104 505.229 47.667 504.667 C 48.229 504.104 48.545 503.341 48.545 502.545 C 48.545 501.750 48.229 500.987 47.667 500.424 C 47.104 499.862 46.341 499.545 45.545 499.545 C 44.750 499.545 43.987 499.862 43.424 500.424 C 42.862 500.987 42.545 501.750 42.545 502.545 C 42.545 503.341 42.862 504.104 43.424 504.667 C 43.987 505.229 44.750 505.545 45.545 505.545 z M 61.818 503.636 C 62.614 503.636 63.377 503.320 63.940 502.758 C 64.502 502.195 64.818 501.432 64.818 500.636 C 64.818 499.841 64.502 499.078 63.940 498.515 C 63.377 497.952 62.614 497.636 61.818 497.636 C 61.023 497.636 60.259 497.952 59.697 498.515 C 59.134 499.078 58.818 499.841 58.818 500.636 C 58.818 501.432 59.134 502.195 59.697 502.758 C 60.259 503.320 61.023 503.636 61.818 503.636 z M 68.636 502.182 C 69.432 502.182 70.195 501.866 70.758 501.303 C 71.320 500.741 71.636 499.977 71.636 499.182 C 71.636 498.386 71.320 497.623 70.758 497.060 C 70.195 496.498 69.432 496.182 68.636 496.182 C 67.841 496.182 67.078 496.498 66.515 497.060 C 65.952 497.623 65.636 498.386 65.636 499.182 C 65.636 499.977 65.952 500.741 66.515 501.303 C 67.078 501.866 67.841 502.182 68.636 502.182 z M 73.091 500.091 C 73.887 500.091 74.650 499.775 75.212 499.212 C 75.775 498.650 76.091 497.887 76.091 497.091 C 76.091 496.295 75.775 495.532 75.212 494.970 C 74.650 494.407 73.887 494.091 73.091 494.091 C 72.295 494.091 71.532 494.407 70.970 494.970 C 70.407 495.532 70.091 496.295 70.091 497.091 C 70.091 497.887 70.407 498.650 70.970 499.212 C 71.532 499.775 72.295 500.091 73.091 500.091 z M 74.978 498.712 C 75.773 498.712 76.536 498.396 77.099 497.834 C 77.662 497.271 77.978 496.508 77.978 495.712 C 77.978 494.917 77.662 494.154 77.099 493.591 C 76.536 493.029 75.773 492.712 74.978 492.712 C 74.182 492.712 73.419 493.029 72.856 493.591 C 72.294 494.154 71.978 494.917 71.978 495.712 C 71.978 496.508 72.294 497.271 72.856 497.834 C 73.419 498.396 74.182 498.712 74.978 498.712 z M 76.734 497.172 C 77.530 497.172 78.293 496.856 78.856 496.293 C 79.418 495.731 79.734 494.967 79.734 494.172 C 79.734 493.376 79.418 492.613 78.856 492.050 C 78.293 491.488 77.530 491.172 76.734 491.172 C 75.939 491.172 75.176 491.488 74.613 492.050 C 74.050 492.613 73.734 493.376 73.734 494.172 C 73.734 494.967 74.050 495.731 74.613 496.293 C 75.176 496.856 75.939 497.172 76.734 497.172 z M 78.355 495.488 C 79.150 495.488 79.913 495.172 80.476 494.609 C 81.039 494.047 81.355 493.284 81.355 492.488 C 81.355 491.692 81.039 490.929 80.476 490.367 C 79.913 489.804 79.150 489.488 78.355 489.488 C 77.559 489.488 76.796 489.804 76.233 490.367 C 75.671 490.929 75.355 491.692 75.355 492.488 C 75.355 493.284 75.671 494.047 76.233 494.609 C 76.796 495.172 77.559 495.488 78.355 495.488 z M 79.803 493.655 C 80.599 493.655 81.362 493.339 81.924 492.776 C 82.487 492.214 82.803 491.451 82.803 490.655 C 82.803 489.859 82.487 489.096 81.924 488.534 C 81.362 487.971 80.599 487.655 79.803 487.655 C 79.007 487.655 78.244 487.971 77.682 488.534 C 77.119 489.096 76.803 489.859 76.803 490.655 C 76.803 491.451 77.119 492.214 77.682 492.776 C 78.244 493.339 79.007 493.655 79.803 493.655 z M 81.010 491.655 C 81.806 491.655 82.569 491.339 83.132 490.776 C 83.694 490.214 84.010 489.451 84.010 488.655 C 84.010 487.859 83.694 487.096 83.132 486.534 C 82.569 485.971 81.806 485.655 81.010 485.655 C 80.215 485.655 79.452 485.971 78.889 486.534 C 78.326 487.096 78.010 487.859 78.010 488.655 C 78.010 489.451 78.326 490.214 78.889 490.776 C 79.452 491.339 80.215 491.655 81.010 491.655 z M 82.048 489.561 C 82.844 489.561 83.607 489.245 84.170 488.683 C 84.732 488.120 85.048 487.357 85.048 486.561 C 85.048 485.766 84.732 485.002 84.170 484.440 C 83.607 483.877 82.844 483.561 82.048 483.561 C 81.253 483.561 80.490 483.877 79.927 484.440 C 79.365 485.002 79.048 485.766 79.048 486.561 C 79.048 487.357 79.365 488.120 79.927 488.683 C 80.490 489.245 81.253 489.561 82.048 489.561 z M 83.022 487.436 C 83.818 487.436 84.581 487.120 85.144 486.558 C 85.706 485.995 86.022 485.232 86.022 484.436 C 86.022 483.641 85.706 482.878 85.144 482.315 C 84.581 481.752 83.818 481.436 83.022 481.436 C 82.227 481.436 81.464 481.752 80.901 482.315 C 80.338 482.878 80.022 483.641 80.022 484.436 C 80.022 485.232 80.338 485.995 80.901 486.558 C 81.464 487.120 82.227 487.436 83.022 487.436 z M 83.983 485.306 C 84.779 485.306 85.542 484.990 86.104 484.427 C 86.667 483.864 86.983 483.101 86.983 482.306 C 86.983 481.510 86.667 480.747 86.104 480.184 C 85.542 479.622 84.779 479.306 83.983 479.306 C 83.188 479.306 82.424 479.622 81.862 480.184 C 81.299 480.747 80.983 481.510 80.983 482.306 C 80.983 483.101 81.299 483.864 81.862 484.427 C 82.424 484.990 83.188 485.306 83.983 485.306 z M 84.897 483.154 C 85.692 483.154 86.455 482.838 87.018 482.275 C 87.581 481.713 87.897 480.950 87.897 480.154 C 87.897 479.359 87.581 478.595 87.018 478.033 C 86.455 477.470 85.692 477.154 84.897 477.154 C 84.101 477.154 83.338 477.470 82.775 478.033 C 82.213 478.595 81.897 479.359 81.897 480.154 C 81.897 480.950 82.213 481.713 82.775 482.275 C 83.338 482.838 84.101 483.154 84.897 483.154 z M 85.788 480.993 C 86.583 480.993 87.347 480.677 87.909 480.115 C 88.472 479.552 88.788 478.789 88.788 477.993 C 88.788 477.198 88.472 476.435 87.909 475.872 C 87.347 475.309 86.583 474.993 85.788 474.993 C 84.992 474.993 84.229 475.309 83.667 475.872 C 83.104 476.435 82.788 477.198 82.788 477.993 C 82.788 478.789 83.104 479.552 83.667 480.115 C 84.229 480.677 84.992 480.993 85.788 480.993 z M 86.685 478.835 C 87.480 478.835 88.243 478.519 88.806 477.956 C 89.368 477.394 89.685 476.630 89.685 475.835 C 89.685 475.039 89.368 474.276 88.806 473.713 C 88.243 473.151 87.480 472.835 86.685 472.835 C 85.889 472.835 85.126 473.151 84.563 473.713 C 84.001 474.276 83.685 475.039 83.685 475.835 C 83.685 476.630 84.001 477.394 84.563 477.956 C 85.126 478.519 85.889 478.835 86.685 478.835 z M 87.600 476.684 C 88.395 476.684 89.158 476.368 89.721 475.805 C 90.284 475.243 90.600 474.480 90.600 473.684 C 90.600 472.888 90.284 472.125 89.721 471.563 C 89.158 471.000 88.395 470.684 87.600 470.684 C 86.804 470.684 86.041 471.000 85.478 471.563 C 84.916 472.125 84.600 472.888 84.600 473.684 C 84.600 474.480 84.916 475.243 85.478 475.805 C 86.041 476.368 86.804 476.684 87.600 476.684 z M 88.503 474.528 C 89.299 474.528 90.062 474.212 90.624 473.650 C 91.187 473.087 91.503 472.324 91.503 471.528 C 91.503 470.733 91.187 469.969 90.624 469.407 C 90.062 468.844 89.299 468.528 88.503 468.528 C 87.707 468.528 86.944 468.844 86.382 469.407 C 85.819 469.969 85.503 470.733 85.503 471.528 C 85.503 472.324 85.819 473.087 86.382 473.650 C 86.944 474.212 87.707 474.528 88.503 474.528 z M 89.359 472.353 C 90.155 472.353 90.918 472.037 91.480 471.475 C 92.043 470.912 92.359 470.149 92.359 469.353 C 92.359 468.558 92.043 467.795 91.480 467.232 C 90.918 466.669 90.155 466.353 89.359 466.353 C 88.563 466.353 87.800 466.669 87.238 467.232 C 86.675 467.795 86.359 468.558 86.359 469.353 C 86.359 470.149 86.675 470.912 87.238 471.475 C 87.800 472.037 88.563 472.353 89.359 472.353 z M 90.131 470.147 C 90.926 470.147 91.690 469.831 92.252 469.269 C 92.815 468.706 93.131 467.943 93.131 467.147 C 93.131 466.352 92.815 465.588 92.252 465.026 C 91.690 464.463 90.926 464.147 90.131 464.147 C 89.335 464.147 88.572 464.463 88.009 465.026 C 87.447 465.588 87.131 466.352 87.131 467.147 C 87.131 467.943 87.447 468.706 88.009 469.269 C 88.572 469.831 89.335 470.147 90.131 470.147 z M 90.799 467.907 C 91.594 467.907 92.357 467.591 92.920 467.029 C 93.482 466.466 93.799 465.703 93.799 464.907 C 93.799 464.112 93.482 463.349 92.920 462.786 C 92.357 462.223 91.594 461.907 90.799 461.907 C 90.003 461.907 89.240 462.223 88.677 462.786 C 88.115 463.349 87.799 464.112 87.799 464.907 C 87.799 465.703 88.115 466.466 88.677 467.029 C 89.240 467.591 90.003 467.907 90.799 467.907 z M 91.416 465.653 C 92.212 465.653 92.975 465.337 93.537 464.774 C 94.100 464.212 94.416 463.449 94.416 462.653 C 94.416 461.857 94.100 461.094 93.537 460.532 C 92.975 459.969 92.212 459.653 91.416 459.653 C 90.621 459.653 89.857 459.969 89.295 460.532 C 88.732 461.094 88.416 461.857 88.416 462.653 C 88.416 463.449 88.732 464.212 89.295 464.774 C 89.857 465.337 90.621 465.653 91.416 465.653 z M 92.050 463.403 C 92.845 463.403 93.608 463.087 94.171 462.524 C 94.733 461.962 95.050 461.199 95.050 460.403 C 95.050 459.608 94.733 458.844 94.171 458.282 C 93.608 457.719 92.845 457.403 92.050 457.403 C 91.254 457.403 90.491 457.719 89.928 458.282 C 89.366 458.844 89.050 459.608 89.050 460.403 C 89.050 461.199 89.366 461.962 89.928 462.524 C 90.491 463.087 91.254 463.403 92.050 463.403 z M 92.759 461.176 C 93.554 461.176 94.317 460.860 94.880 460.297 C 95.443 459.735 95.759 458.972 95.759 458.176 C 95.759 457.380 95.443 456.617 94.880 456.055 C 94.317 455.492 93.554 455.176 92.759 455.176 C 91.963 455.176 91.200 455.492 90.637 456.055 C 90.075 456.617 89.759 457.380 89.759 458.176 C 89.759 458.972 90.075 459.735 90.637 460.297 C 91.200 460.860 91.963 461.176 92.759 461.176 z M 93.508 458.962 C 94.304 458.962 95.067 458.646 95.629 458.083 C 96.192 457.521 96.508 456.758 96.508 455.962 C 96.508 455.166 96.192 454.403 95.629 453.841 C 95.067 453.278 94.304 452.962 93.508 452.962 C 92.712 452.962 91.949 453.278 91.387 453.841 C 90.824 454.403 90.508 455.166 90.508 455.962 C 90.508 456.758 90.824 457.521 91.387 458.083 C 91.949 458.646 92.712 458.962 93.508 458.962 z M 94.324 456.772 C 95.120 456.772 95.883 456.456 96.446 455.893 C 97.008 455.331 97.324 454.568 97.324 453.772 C 97.324 452.976 97.008 452.213 96.446 451.651 C 95.883 451.088 95.120 450.772 94.324 450.772 C 93.529 450.772 92.766 451.088 92.203 451.651 C 91.640 452.213 91.324 452.976 91.324 453.772 C 91.324 454.568 91.640 455.331 92.203 455.893 C 92.766 456.456 93.529 456.772 94.324 456.772 z M 95.273 454.636 C 96.068 454.636 96.831 454.320 97.394 453.758 C 97.957 453.195 98.273 452.432 98.273 451.636 C 98.273 450.841 97.957 450.078 97.394 449.515 C 96.831 448.952 96.068 448.636 95.273 448.636 C 94.477 448.636 93.714 448.952 93.151 449.515 C 92.589 450.078 92.273 450.841 92.273 451.636 C 92.273 452.432 92.589 453.195 93.151 453.758 C 93.714 454.320 94.477 454.636 95.273 454.636 z M 96.422 452.602 C 97.218 452.602 97.981 452.286 98.544 451.724 C 99.106 451.161 99.422 450.398 99.422 449.602 C 99.422 448.807 99.106 448.044 98.544 447.481 C 97.981 446.918 97.218 446.602 96.422 446.602 C 95.627 446.602 94.863 446.918 94.301 447.481 C 93.738 448.044 93.422 448.807 93.422 449.602 C 93.422 450.398 93.738 451.161 94.301 451.724 C 94.863 452.286 95.627 452.602 96.422 452.602 z M 97.746 450.676 C 98.541 450.676 99.305 450.360 99.867 449.798 C 100.430 449.235 100.746 448.472 100.746 447.676 C 100.746 446.881 100.430 446.118 99.867 445.555 C 99.305 444.993 98.541 444.676 97.746 444.676 C 96.950 444.676 96.187 444.993 95.625 445.555 C 95.062 446.118 94.746 446.881 94.746 447.676 C 94.746 448.472 95.062 449.235 95.625 449.798 C 96.187 450.360 96.950 450.676 97.746 450.676 z M 99.193 448.841 C 99.988 448.841 100.751 448.525 101.314 447.962 C 101.876 447.400 102.193 446.637 102.193 445.841 C 102.193 445.045 101.876 444.282 101.314 443.720 C 100.751 443.157 99.988 442.841 99.193 442.841 C 98.397 442.841 97.634 443.157 97.071 443.720 C 96.509 444.282 96.193 445.045 96.193 445.841 C 96.193 446.637 96.509 447.400 97.071 447.962 C 97.634 448.525 98.397 448.841 99.193 448.841 z M 100.784 447.130 C 101.579 447.130 102.342 446.813 102.905 446.251 C 103.467 445.688 103.784 444.925 103.784 444.130 C 103.784 443.334 103.467 442.571 102.905 442.008 C 102.342 441.446 101.579 441.130 100.784 441.130 C 99.988 441.130 99.225 441.446 98.662 442.008 C 98.100 442.571 97.784 443.334 97.784 444.130 C 97.784 444.925 98.100 445.688 98.662 446.251 C 99.225 446.813 99.988 447.130 100.784 447.130 z M 102.480 445.522 C 103.276 445.522 104.039 445.206 104.602 444.644 C 105.164 444.081 105.480 443.318 105.480 442.522 C 105.480 441.727 105.164 440.964 104.602 440.401 C 104.039 439.838 103.276 439.522 102.480 439.522 C 101.685 439.522 100.922 439.838 100.359 440.401 C 99.796 440.964 99.480 441.727 99.480 442.522 C 99.480 443.318 99.796 444.081 100.359 444.644 C 100.922 445.206 101.685 445.522 102.480 445.522 z M 104.229 443.972 C 105.025 443.972 105.788 443.655 106.350 443.093 C 106.913 442.530 107.229 441.767 107.229 440.972 C 107.229 440.176 106.913 439.413 106.350 438.850 C 105.788 438.288 105.025 437.972 104.229 437.972 C 103.433 437.972 102.670 438.288 102.108 438.850 C 101.545 439.413 101.229 440.176 101.229 440.972 C 101.229 441.767 101.545 442.530 102.108 443.093 C 102.670 443.655 103.433 443.972 104.229 443.972 z M 106.038 442.492 C 106.834 442.492 107.597 442.176 108.160 441.613 C 108.722 441.051 109.038 440.288 109.038 439.492 C 109.038 438.696 108.722 437.933 108.160 437.371 C 107.597 436.808 106.834 436.492 106.038 436.492 C 105.243 436.492 104.480 436.808 103.917 437.371 C 103.355 437.933 103.038 438.696 103.038 439.492 C 103.038 440.288 103.355 441.051 103.917 441.613 C 104.480 442.176 105.243 442.492 106.038 442.492 z M 107.909 441.091 C 108.705 441.091 109.468 440.775 110.030 440.212 C 110.593 439.650 110.909 438.887 110.909 438.091 C 110.909 437.295 110.593 436.532 110.030 435.970 C 109.468 435.407 108.705 435.091 107.909 435.091 C 107.113 435.091 106.350 435.407 105.788 435.970 C 105.225 436.532 104.909 437.295 104.909 438.091 C 104.909 438.887 105.225 439.650 105.788 440.212 C 106.350 440.775 107.113 441.091 107.909 441.091 z M 110.455 439.636 C 111.250 439.636 112.013 439.320 112.576 438.758 C 113.138 438.195 113.455 437.432 113.455 436.636 C 113.455 435.841 113.138 435.078 112.576 434.515 C 112.013 433.952 111.250 433.636 110.455 433.636 C 109.659 433.636 108.896 433.952 108.333 434.515 C 107.771 435.078 107.455 435.841 107.455 436.636 C 107.455 437.432 107.771 438.195 108.333 438.758 C 108.896 439.320 109.659 439.636 110.455 439.636 z M 111.136 439.333 C 111.932 439.333 112.695 439.017 113.258 438.455 C 113.820 437.892 114.136 437.129 114.136 436.333 C 114.136 435.538 113.820 434.775 113.258 434.212 C 112.695 433.649 111.932 433.333 111.136 433.333 C 110.341 433.333 109.578 433.649 109.015 434.212 C 108.452 434.775 108.136 435.538 108.136 436.333 C 108.136 437.129 108.452 437.892 109.015 438.455 C 109.578 439.017 110.341 439.333 111.136 439.333 z M 111.818 439.030 C 112.614 439.030 113.377 438.714 113.940 438.152 C 114.502 437.589 114.818 436.826 114.818 436.030 C 114.818 435.235 114.502 434.472 113.940 433.909 C 113.377 433.346 112.614 433.030 111.818 433.030 C 111.023 433.030 110.259 433.346 109.697 433.909 C 109.134 434.472 108.818 435.235 108.818 436.030 C 108.818 436.826 109.134 437.589 109.697 438.152 C 110.259 438.714 111.023 439.030 111.818 439.030 z M 112.500 438.727 C 113.296 438.727 114.059 438.411 114.621 437.849 C 115.184 437.286 115.500 436.523 115.500 435.727 C 115.500 434.932 115.184 434.169 114.621 433.606 C 114.059 433.043 113.296 432.727 112.500 432.727 C 111.704 432.727 110.941 433.043 110.379 433.606 C 109.816 434.169 109.500 434.932 109.500 435.727 C 109.500 436.523 109.816 437.286 110.379 437.849 C 110.941 438.411 111.704 438.727 112.500 438.727 z M 113.182 438.424 C 113.977 438.424 114.741 438.108 115.303 437.546 C 115.866 436.983 116.182 436.220 116.182 435.424 C 116.182 434.629 115.866 433.866 115.303 433.303 C 114.741 432.740 113.977 432.424 113.182 432.424 C 112.386 432.424 111.623 432.740 111.060 433.303 C 110.498 433.866 110.182 434.629 110.182 435.424 C 110.182 436.220 110.498 436.983 111.060 437.546 C 111.623 438.108 112.386 438.424 113.182 438.424 z M 113.864 438.121 C 114.659 438.121 115.422 437.805 115.985 437.243 C 116.548 436.680 116.864 435.917 116.864 435.121 C 116.864 434.326 116.548 433.562 115.985 433.000 C 115.422 432.437 114.659 432.121 113.864 432.121 C 113.068 432.121 112.305 432.437 111.742 433.000 C 111.180 433.562 110.864 434.326 110.864 435.121 C 110.864 435.917 111.180 436.680 111.742 437.243 C 112.305 437.805 113.068 438.121 113.864 438.121 z M 114.545 437.818 C 115.341 437.818 116.104 437.502 116.667 436.940 C 117.229 436.377 117.545 435.614 117.545 434.818 C 117.545 434.023 117.229 433.259 116.667 432.697 C 116.104 432.134 115.341 431.818 114.545 431.818 C 113.750 431.818 112.987 432.134 112.424 432.697 C 111.862 433.259 111.545 434.023 111.545 434.818 C 111.545 435.614 111.862 436.377 112.424 436.940 C 112.987 437.502 113.750 437.818 114.545 437.818 z M 115.227 437.515 C 116.023 437.515 116.786 437.199 117.349 436.636 C 117.911 436.074 118.227 435.311 118.227 434.515 C 118.227 433.720 117.911 432.956 117.349 432.394 C 116.786 431.831 116.023 431.515 115.227 431.515 C 114.432 431.515 113.669 431.831 113.106 432.394 C 112.543 432.956 112.227 433.720 112.227 434.515 C 112.227 435.311 112.543 436.074 113.106 436.636 C 113.669 437.199 114.432 437.515 115.227 437.515 z M 115.909 437.212 C 116.705 437.212 117.468 436.896 118.030 436.333 C 118.593 435.771 118.909 435.008 118.909 434.212 C 118.909 433.417 118.593 432.653 118.030 432.091 C 117.468 431.528 116.705 431.212 115.909 431.212 C 115.113 431.212 114.350 431.528 113.788 432.091 C 113.225 432.653 112.909 433.417 112.909 434.212 C 112.909 435.008 113.225 435.771 113.788 436.333 C 114.350 436.896 115.113 437.212 115.909 437.212 z M 116.591 436.909 C 117.387 436.909 118.150 436.593 118.712 436.030 C 119.275 435.468 119.591 434.705 119.591 433.909 C 119.591 433.113 119.275 432.350 118.712 431.788 C 118.150 431.225 117.387 430.909 116.591 430.909 C 115.795 430.909 115.032 431.225 114.470 431.788 C 113.907 432.350 113.591 433.113 113.591 433.909 C 113.591 434.705 113.907 435.468 114.470 436.030 C 115.032 436.593 115.795 436.909 116.591 436.909 z M 117.273 436.606 C 118.068 436.606 118.831 436.290 119.394 435.727 C 119.957 435.165 120.273 434.402 120.273 433.606 C 120.273 432.810 119.957 432.047 119.394 431.485 C 118.831 430.922 118.068 430.606 117.273 430.606 C 116.477 430.606 115.714 430.922 115.151 431.485 C 114.589 432.047 114.273 432.810 114.273 433.606 C 114.273 434.402 114.589 435.165 115.151 435.727 C 115.714 436.290 116.477 436.606 117.273 436.606 z M 117.955 436.303 C 118.750 436.303 119.513 435.987 120.076 435.424 C 120.638 434.862 120.955 434.099 120.955 433.303 C 120.955 432.507 120.638 431.744 120.076 431.182 C 119.513 430.619 118.750 430.303 117.955 430.303 C 117.159 430.303 116.396 430.619 115.833 431.182 C 115.271 431.744 114.955 432.507 114.955 433.303 C 114.955 434.099 115.271 434.862 115.833 435.424 C 116.396 435.987 117.159 436.303 117.955 436.303 z M 118.636 436.000 C 119.432 436.000 120.195 435.684 120.758 435.121 C 121.320 434.559 121.636 433.796 121.636 433.000 C 121.636 432.204 121.320 431.441 120.758 430.879 C 120.195 430.316 119.432 430.000 118.636 430.000 C 117.841 430.000 117.078 430.316 116.515 430.879 C 115.952 431.441 115.636 432.204 115.636 433.000 C 115.636 433.796 115.952 434.559 116.515 435.121 C 117.078 435.684 117.841 436.000 118.636 436.000 z M 123.364 432.091 C 124.159 432.091 124.922 431.775 125.485 431.212 C 126.048 430.650 126.364 429.887 126.364 429.091 C 126.364 428.295 126.048 427.532 125.485 426.970 C 124.922 426.407 124.159 426.091 123.364 426.091 C 122.568 426.091 121.805 426.407 121.242 426.970 C 120.680 427.532 120.364 428.295 120.364 429.091 C 120.364 429.887 120.680 430.650 121.242 431.212 C 121.805 431.775 122.568 432.091 123.364 432.091 z M 125.909 431.091 C 126.705 431.091 127.468 430.775 128.030 430.212 C 128.593 429.650 128.909 428.887 128.909 428.091 C 128.909 427.295 128.593 426.532 128.030 425.970 C 127.468 425.407 126.705 425.091 125.909 425.091 C 125.113 425.091 124.350 425.407 123.788 425.970 C 123.225 426.532 122.909 427.295 122.909 428.091 C 122.909 428.887 123.225 429.650 123.788 430.212 C 124.350 430.775 125.113 431.091 125.909 431.091 z M 126.517 430.879 C 127.312 430.879 128.075 430.563 128.638 430.000 C 129.200 429.438 129.517 428.674 129.517 427.879 C 129.517 427.083 129.200 426.320 128.638 425.758 C 128.075 425.195 127.312 424.879 126.517 424.879 C 125.721 424.879 124.958 425.195 124.395 425.758 C 123.833 426.320 123.517 427.083 123.517 427.879 C 123.517 428.674 123.833 429.438 124.395 430.000 C 124.958 430.563 125.721 430.879 126.517 430.879 z M 127.124 430.668 C 127.920 430.668 128.683 430.352 129.246 429.789 C 129.808 429.227 130.124 428.464 130.124 427.668 C 130.124 426.872 129.808 426.109 129.246 425.547 C 128.683 424.984 127.920 424.668 127.124 424.668 C 126.329 424.668 125.566 424.984 125.003 425.547 C 124.441 426.109 124.124 426.872 124.124 427.668 C 124.124 428.464 124.441 429.227 125.003 429.789 C 125.566 430.352 126.329 430.668 127.124 430.668 z M 127.733 430.459 C 128.528 430.459 129.292 430.142 129.854 429.580 C 130.417 429.017 130.733 428.254 130.733 427.459 C 130.733 426.663 130.417 425.900 129.854 425.337 C 129.292 424.775 128.528 424.459 127.733 424.459 C 126.937 424.459 126.174 424.775 125.612 425.337 C 125.049 425.900 124.733 426.663 124.733 427.459 C 124.733 428.254 125.049 429.017 125.612 429.580 C 126.174 430.142 126.937 430.459 127.733 430.459 z M 128.342 430.250 C 129.137 430.250 129.900 429.934 130.463 429.372 C 131.026 428.809 131.342 428.046 131.342 427.250 C 131.342 426.455 131.026 425.692 130.463 425.129 C 129.900 424.566 129.137 424.250 128.342 424.250 C 127.546 424.250 126.783 424.566 126.220 425.129 C 125.658 425.692 125.342 426.455 125.342 427.250 C 125.342 428.046 125.658 428.809 126.220 429.372 C 126.783 429.934 127.546 430.250 128.342 430.250 z M 128.951 430.044 C 129.747 430.044 130.510 429.727 131.072 429.165 C 131.635 428.602 131.951 427.839 131.951 427.044 C 131.951 426.248 131.635 425.485 131.072 424.922 C 130.510 424.360 129.747 424.044 128.951 424.044 C 128.155 424.044 127.392 424.360 126.830 424.922 C 126.267 425.485 125.951 426.248 125.951 427.044 C 125.951 427.839 126.267 428.602 126.830 429.165 C 127.392 429.727 128.155 430.044 128.951 430.044 z M 129.561 429.838 C 130.356 429.838 131.119 429.522 131.682 428.959 C 132.245 428.397 132.561 427.634 132.561 426.838 C 132.561 426.042 132.245 425.279 131.682 424.717 C 131.119 424.154 130.356 423.838 129.561 423.838 C 128.765 423.838 128.002 424.154 127.439 424.717 C 126.877 425.279 126.561 426.042 126.561 426.838 C 126.561 427.634 126.877 428.397 127.439 428.959 C 128.002 429.522 128.765 429.838 129.561 429.838 z M 130.171 429.634 C 130.966 429.634 131.730 429.318 132.292 428.755 C 132.855 428.193 133.171 427.430 133.171 426.634 C 133.171 425.838 132.855 425.075 132.292 424.513 C 131.730 423.950 130.966 423.634 130.171 423.634 C 129.375 423.634 128.612 423.950 128.050 424.513 C 127.487 425.075 127.171 425.838 127.171 426.634 C 127.171 427.430 127.487 428.193 128.050 428.755 C 128.612 429.318 129.375 429.634 130.171 429.634 z M 130.782 429.431 C 131.577 429.431 132.340 429.115 132.903 428.553 C 133.465 427.990 133.782 427.227 133.782 426.431 C 133.782 425.636 133.465 424.873 132.903 424.310 C 132.340 423.747 131.577 423.431 130.782 423.431 C 129.986 423.431 129.223 423.747 128.660 424.310 C 128.098 424.873 127.782 425.636 127.782 426.431 C 127.782 427.227 128.098 427.990 128.660 428.553 C 129.223 429.115 129.986 429.431 130.782 429.431 z M 131.393 429.230 C 132.188 429.230 132.951 428.914 133.514 428.351 C 134.077 427.789 134.393 427.026 134.393 426.230 C 134.393 425.434 134.077 424.671 133.514 424.109 C 132.951 423.546 132.188 423.230 131.393 423.230 C 130.597 423.230 129.834 423.546 129.271 424.109 C 128.709 424.671 128.393 425.434 128.393 426.230 C 128.393 427.026 128.709 427.789 129.271 428.351 C 129.834 428.914 130.597 429.230 131.393 429.230 z M 132.004 429.030 C 132.800 429.030 133.563 428.714 134.126 428.152 C 134.688 427.589 135.004 426.826 135.004 426.030 C 135.004 425.235 134.688 424.472 134.126 423.909 C 133.563 423.346 132.800 423.030 132.004 423.030 C 131.209 423.030 130.446 423.346 129.883 423.909 C 129.320 424.472 129.004 425.235 129.004 426.030 C 129.004 426.826 129.320 427.589 129.883 428.152 C 130.446 428.714 131.209 429.030 132.004 429.030 z M 132.617 428.834 C 133.413 428.834 134.176 428.517 134.738 427.955 C 135.301 427.392 135.617 426.629 135.617 425.834 C 135.617 425.038 135.301 424.275 134.738 423.712 C 134.176 423.150 133.413 422.834 132.617 422.834 C 131.821 422.834 131.058 423.150 130.496 423.712 C 129.933 424.275 129.617 425.038 129.617 425.834 C 129.617 426.629 129.933 427.392 130.496 427.955 C 131.058 428.517 131.821 428.834 132.617 428.834 z M 133.230 428.639 C 134.026 428.639 134.789 428.323 135.352 427.761 C 135.914 427.198 136.230 426.435 136.230 425.639 C 136.230 424.844 135.914 424.081 135.352 423.518 C 134.789 422.955 134.026 422.639 133.230 422.639 C 132.435 422.639 131.672 422.955 131.109 423.518 C 130.546 424.081 130.230 424.844 130.230 425.639 C 130.230 426.435 130.546 427.198 131.109 427.761 C 131.672 428.323 132.435 428.639 133.230 428.639 z M 133.844 428.447 C 134.640 428.447 135.403 428.131 135.966 427.568 C 136.528 427.006 136.844 426.243 136.844 425.447 C 136.844 424.652 136.528 423.888 135.966 423.326 C 135.403 422.763 134.640 422.447 133.844 422.447 C 133.049 422.447 132.286 422.763 131.723 423.326 C 131.161 423.888 130.844 424.652 130.844 425.447 C 130.844 426.243 131.161 427.006 131.723 427.568 C 132.286 428.131 133.049 428.447 133.844 428.447 z M 134.459 428.256 C 135.255 428.256 136.018 427.940 136.580 427.378 C 137.143 426.815 137.459 426.052 137.459 425.256 C 137.459 424.461 137.143 423.698 136.580 423.135 C 136.018 422.572 135.255 422.256 134.459 422.256 C 133.663 422.256 132.900 422.572 132.338 423.135 C 131.775 423.698 131.459 424.461 131.459 425.256 C 131.459 426.052 131.775 426.815 132.338 427.378 C 132.900 427.940 133.663 428.256 134.459 428.256 z M 135.074 428.066 C 135.869 428.066 136.632 427.750 137.195 427.188 C 137.758 426.625 138.074 425.862 138.074 425.066 C 138.074 424.271 137.758 423.508 137.195 422.945 C 136.632 422.382 135.869 422.066 135.074 422.066 C 134.278 422.066 133.515 422.382 132.952 422.945 C 132.390 423.508 132.074 424.271 132.074 425.066 C 132.074 425.862 132.390 426.625 132.952 427.188 C 133.515 427.750 134.278 428.066 135.074 428.066 z M 135.688 427.876 C 136.484 427.876 137.247 427.560 137.810 426.998 C 138.372 426.435 138.688 425.672 138.688 424.876 C 138.688 424.081 138.372 423.318 137.810 422.755 C 137.247 422.192 136.484 421.876 135.688 421.876 C 134.893 421.876 134.130 422.192 133.567 422.755 C 133.004 423.318 132.688 424.081 132.688 424.876 C 132.688 425.672 133.004 426.435 133.567 426.998 C 134.130 427.560 134.893 427.876 135.688 427.876 z M 136.303 427.686 C 137.099 427.686 137.862 427.370 138.424 426.807 C 138.987 426.244 139.303 425.481 139.303 424.686 C 139.303 423.890 138.987 423.127 138.424 422.564 C 137.862 422.002 137.099 421.686 136.303 421.686 C 135.507 421.686 134.744 422.002 134.182 422.564 C 133.619 423.127 133.303 423.890 133.303 424.686 C 133.303 425.481 133.619 426.244 134.182 426.807 C 134.744 427.370 135.507 427.686 136.303 427.686 z M 136.917 427.494 C 137.713 427.494 138.476 427.178 139.038 426.615 C 139.601 426.052 139.917 425.289 139.917 424.494 C 139.917 423.698 139.601 422.935 139.038 422.372 C 138.476 421.810 137.713 421.494 136.917 421.494 C 136.121 421.494 135.358 421.810 134.796 422.372 C 134.233 422.935 133.917 423.698 133.917 424.494 C 133.917 425.289 134.233 426.052 134.796 426.615 C 135.358 427.178 136.121 427.494 136.917 427.494 z M 137.531 427.300 C 138.326 427.300 139.089 426.984 139.652 426.421 C 140.214 425.859 140.531 425.095 140.531 424.300 C 140.531 423.504 140.214 422.741 139.652 422.179 C 139.089 421.616 138.326 421.300 137.531 421.300 C 136.735 421.300 135.972 421.616 135.409 422.179 C 134.847 422.741 134.531 423.504 134.531 424.300 C 134.531 425.095 134.847 425.859 135.409 426.421 C 135.972 426.984 136.735 427.300 137.531 427.300 z M 138.143 427.103 C 138.939 427.103 139.702 426.787 140.265 426.225 C 140.827 425.662 141.143 424.899 141.143 424.103 C 141.143 423.308 140.827 422.545 140.265 421.982 C 139.702 421.419 138.939 421.103 138.143 421.103 C 137.348 421.103 136.585 421.419 136.022 421.982 C 135.459 422.545 135.143 423.308 135.143 424.103 C 135.143 424.899 135.459 425.662 136.022 426.225 C 136.585 426.787 137.348 427.103 138.143 427.103 z M 138.755 426.905 C 139.551 426.905 140.314 426.589 140.877 426.026 C 141.439 425.464 141.755 424.701 141.755 423.905 C 141.755 423.109 141.439 422.346 140.877 421.784 C 140.314 421.221 139.551 420.905 138.755 420.905 C 137.960 420.905 137.197 421.221 136.634 421.784 C 136.071 422.346 135.755 423.109 135.755 423.905 C 135.755 424.701 136.071 425.464 136.634 426.026 C 137.197 426.589 137.960 426.905 138.755 426.905 z M 139.367 426.706 C 140.163 426.706 140.926 426.390 141.488 425.827 C 142.051 425.265 142.367 424.501 142.367 423.706 C 142.367 422.910 142.051 422.147 141.488 421.584 C 140.926 421.022 140.163 420.706 139.367 420.706 C 138.572 420.706 137.808 421.022 137.246 421.584 C 136.683 422.147 136.367 422.910 136.367 423.706 C 136.367 424.501 136.683 425.265 137.246 425.827 C 137.808 426.390 138.572 426.706 139.367 426.706 z M 139.979 426.506 C 140.774 426.506 141.537 426.190 142.100 425.627 C 142.663 425.064 142.979 424.301 142.979 423.506 C 142.979 422.710 142.663 421.947 142.100 421.384 C 141.537 420.822 140.774 420.506 139.979 420.506 C 139.183 420.506 138.420 420.822 137.857 421.384 C 137.295 421.947 136.979 422.710 136.979 423.506 C 136.979 424.301 137.295 425.064 137.857 425.627 C 138.420 426.190 139.183 426.506 139.979 426.506 z M 140.590 426.304 C 141.385 426.304 142.149 425.988 142.711 425.426 C 143.274 424.863 143.590 424.100 143.590 423.304 C 143.590 422.509 143.274 421.746 142.711 421.183 C 142.149 420.621 141.385 420.304 140.590 420.304 C 139.794 420.304 139.031 420.621 138.469 421.183 C 137.906 421.746 137.590 422.509 137.590 423.304 C 137.590 424.100 137.906 424.863 138.469 425.426 C 139.031 425.988 139.794 426.304 140.590 426.304 z M 141.201 426.102 C 141.996 426.102 142.759 425.786 143.322 425.223 C 143.884 424.661 144.201 423.897 144.201 423.102 C 144.201 422.306 143.884 421.543 143.322 420.980 C 142.759 420.418 141.996 420.102 141.201 420.102 C 140.405 420.102 139.642 420.418 139.079 420.980 C 138.517 421.543 138.201 422.306 138.201 423.102 C 138.201 423.897 138.517 424.661 139.079 425.223 C 139.642 425.786 140.405 426.102 141.201 426.102 z M 141.811 425.898 C 142.606 425.898 143.369 425.581 143.932 425.019 C 144.495 424.456 144.811 423.693 144.811 422.898 C 144.811 422.102 144.495 421.339 143.932 420.776 C 143.369 420.214 142.606 419.898 141.811 419.898 C 141.015 419.898 140.252 420.214 139.689 420.776 C 139.127 421.339 138.811 422.102 138.811 422.898 C 138.811 423.693 139.127 424.456 139.689 425.019 C 140.252 425.581 141.015 425.898 141.811 425.898 z M 142.420 425.691 C 143.216 425.691 143.979 425.375 144.541 424.813 C 145.104 424.250 145.420 423.487 145.420 422.691 C 145.420 421.896 145.104 421.133 144.541 420.570 C 143.979 420.007 143.216 419.691 142.420 419.691 C 141.625 419.691 140.861 420.007 140.299 420.570 C 139.736 421.133 139.420 421.896 139.420 422.691 C 139.420 423.487 139.736 424.250 140.299 424.813 C 140.861 425.375 141.625 425.691 142.420 425.691 z M 143.029 425.483 C 143.825 425.483 144.588 425.167 145.150 424.604 C 145.713 424.042 146.029 423.279 146.029 422.483 C 146.029 421.688 145.713 420.924 145.150 420.362 C 144.588 419.799 143.825 419.483 143.029 419.483 C 142.233 419.483 141.470 419.799 140.908 420.362 C 140.345 420.924 140.029 421.688 140.029 422.483 C 140.029 423.279 140.345 424.042 140.908 424.604 C 141.470 425.167 142.233 425.483 143.029 425.483 z M 143.637 425.273 C 144.433 425.273 145.196 424.956 145.758 424.394 C 146.321 423.831 146.637 423.068 146.637 422.273 C 146.637 421.477 146.321 420.714 145.758 420.151 C 145.196 419.589 144.433 419.273 143.637 419.273 C 142.841 419.273 142.078 419.589 141.516 420.151 C 140.953 420.714 140.637 421.477 140.637 422.273 C 140.637 423.068 140.953 423.831 141.516 424.394 C 142.078 424.956 142.841 425.273 143.637 425.273 z M 144.250 425.079 C 145.046 425.079 145.809 424.763 146.372 424.200 C 146.934 423.638 147.250 422.875 147.250 422.079 C 147.250 421.283 146.934 420.520 146.372 419.958 C 145.809 419.395 145.046 419.079 144.250 419.079 C 143.455 419.079 142.692 419.395 142.129 419.958 C 141.567 420.520 141.250 421.283 141.250 422.079 C 141.250 422.875 141.567 423.638 142.129 424.200 C 142.692 424.763 143.455 425.079 144.250 425.079 z M 144.870 424.907 C 145.666 424.907 146.429 424.591 146.992 424.028 C 147.554 423.465 147.870 422.702 147.870 421.907 C 147.870 421.111 147.554 420.348 146.992 419.785 C 146.429 419.223 145.666 418.907 144.870 418.907 C 144.075 418.907 143.312 419.223 142.749 419.785 C 142.187 420.348 141.870 421.111 141.870 421.907 C 141.870 422.702 142.187 423.465 142.749 424.028 C 143.312 424.591 144.075 424.907 144.870 424.907 z M 145.491 424.738 C 146.287 424.738 147.050 424.422 147.613 423.859 C 148.175 423.297 148.491 422.534 148.491 421.738 C 148.491 420.942 148.175 420.179 147.613 419.617 C 147.050 419.054 146.287 418.738 145.491 418.738 C 144.696 418.738 143.933 419.054 143.370 419.617 C 142.807 420.179 142.491 420.942 142.491 421.738 C 142.491 422.534 142.807 423.297 143.370 423.859 C 143.933 424.422 144.696 424.738 145.491 424.738 z M 146.109 424.556 C 146.904 424.556 147.667 424.240 148.230 423.678 C 148.792 423.115 149.109 422.352 149.109 421.556 C 149.109 420.761 148.792 419.998 148.230 419.435 C 147.667 418.872 146.904 418.556 146.109 418.556 C 145.313 418.556 144.550 418.872 143.987 419.435 C 143.425 419.998 143.109 420.761 143.109 421.556 C 143.109 422.352 143.425 423.115 143.987 423.678 C 144.550 424.240 145.313 424.556 146.109 424.556 z M 146.715 424.342 C 147.511 424.342 148.274 424.026 148.836 423.463 C 149.399 422.901 149.715 422.137 149.715 421.342 C 149.715 420.546 149.399 419.783 148.836 419.221 C 148.274 418.658 147.511 418.342 146.715 418.342 C 145.919 418.342 145.156 418.658 144.594 419.221 C 144.031 419.783 143.715 420.546 143.715 421.342 C 143.715 422.137 144.031 422.901 144.594 423.463 C 145.156 424.026 145.919 424.342 146.715 424.342 z M 147.294 424.062 C 148.090 424.062 148.853 423.746 149.415 423.184 C 149.978 422.621 150.294 421.858 150.294 421.062 C 150.294 420.267 149.978 419.504 149.415 418.941 C 148.853 418.379 148.090 418.062 147.294 418.062 C 146.498 418.062 145.735 418.379 145.173 418.941 C 144.610 419.504 144.294 420.267 144.294 421.062 C 144.294 421.858 144.610 422.621 145.173 423.184 C 145.735 423.746 146.498 424.062 147.294 424.062 z M 147.791 423.658 C 148.586 423.658 149.349 423.342 149.912 422.780 C 150.474 422.217 150.791 421.454 150.791 420.658 C 150.791 419.863 150.474 419.100 149.912 418.537 C 149.349 417.975 148.586 417.658 147.791 417.658 C 146.995 417.658 146.232 417.975 145.669 418.537 C 145.107 419.100 144.791 419.863 144.791 420.658 C 144.791 421.454 145.107 422.217 145.669 422.780 C 146.232 423.342 146.995 423.658 147.791 423.658 z M 148.132 423.115 C 148.928 423.115 149.691 422.799 150.253 422.236 C 150.816 421.674 151.132 420.910 151.132 420.115 C 151.132 419.319 150.816 418.556 150.253 417.993 C 149.691 417.431 148.928 417.115 148.132 417.115 C 147.336 417.115 146.573 417.431 146.011 417.993 C 145.448 418.556 145.132 419.319 145.132 420.115 C 145.132 420.910 145.448 421.674 146.011 422.236 C 146.573 422.799 147.336 423.115 148.132 423.115 z M 148.391 422.526 C 149.187 422.526 149.950 422.210 150.513 421.647 C 151.075 421.085 151.391 420.322 151.391 419.526 C 151.391 418.731 151.075 417.967 150.513 417.405 C 149.950 416.842 149.187 416.526 148.391 416.526 C 147.596 416.526 146.833 416.842 146.270 417.405 C 145.707 417.967 145.391 418.731 145.391 419.526 C 145.391 420.322 145.707 421.085 146.270 421.647 C 146.833 422.210 147.596 422.526 148.391 422.526 z M 148.620 421.925 C 149.415 421.925 150.178 421.608 150.741 421.046 C 151.303 420.483 151.620 419.720 151.620 418.925 C 151.620 418.129 151.303 417.366 150.741 416.803 C 150.178 416.241 149.415 415.925 148.620 415.925 C 147.824 415.925 147.061 416.241 146.498 416.803 C 145.936 417.366 145.620 418.129 145.620 418.925 C 145.620 419.720 145.936 420.483 146.498 421.046 C 147.061 421.608 147.824 421.925 148.620 421.925 z M 148.850 421.324 C 149.645 421.324 150.409 421.008 150.971 420.445 C 151.534 419.883 151.850 419.119 151.850 418.324 C 151.850 417.528 151.534 416.765 150.971 416.202 C 150.409 415.640 149.645 415.324 148.850 415.324 C 148.054 415.324 147.291 415.640 146.729 416.202 C 146.166 416.765 145.850 417.528 145.850 418.324 C 145.850 419.119 146.166 419.883 146.729 420.445 C 147.291 421.008 148.054 421.324 148.850 421.324 z M 149.091 420.727 C 149.887 420.727 150.650 420.411 151.212 419.849 C 151.775 419.286 152.091 418.523 152.091 417.727 C 152.091 416.932 151.775 416.169 151.212 415.606 C 150.650 415.043 149.887 414.727 149.091 414.727 C 148.295 414.727 147.532 415.043 146.970 415.606 C 146.407 416.169 146.091 416.932 146.091 417.727 C 146.091 418.523 146.407 419.286 146.970 419.849 C 147.532 420.411 148.295 420.727 149.091 420.727 z" style="fill-opacity: 0; stroke: #000000; stroke: #000000"/>
    </g>
   </g>
   <g id="line2d_52">
    <g>
    <path d="M 83.000 507.091 L 89.000 507.091 L 89.000 501.091 L 83.000 501.091 z M 86.376 506.908 L 92.376 506.908 L 92.376 500.908 L 86.376 500.908 z M 89.268 506.711 L 95.268 506.711 L 95.268 500.711 L 89.268 500.711 z M 92.918 506.145 L 98.918 506.145 L 98.918 500.145 L 92.918 500.145 z M 96.551 505.215 L 102.551 505.215 L 102.551 499.215 L 96.551 499.215 z M 100.007 503.906 L 106.007 503.906 L 106.007 497.906 L 100.007 497.906 z M 103.174 502.500 L 109.174 502.500 L 109.174 496.500 L 103.174 496.500 z M 106.102 500.538 L 112.102 500.538 L 112.102 494.538 L 106.102 494.538 z M 107.647 499.474 L 113.647 499.474 L 113.647 493.474 L 107.647 493.474 z M 108.995 498.526 L 114.995 498.526 L 114.995 492.526 L 108.995 492.526 z M 110.086 497.740 L 116.086 497.740 L 116.086 491.740 L 110.086 491.740 z M 111.171 496.947 L 117.171 496.947 L 117.171 490.947 L 111.171 490.947 z M 112.247 496.142 L 118.247 496.142 L 118.247 490.142 L 112.247 490.142 z M 113.308 495.317 L 119.308 495.317 L 119.308 489.317 L 113.308 489.317 z M 114.365 494.486 L 120.365 494.486 L 120.365 488.486 L 114.365 488.486 z M 115.406 493.636 L 121.406 493.636 L 121.406 487.636 L 115.406 487.636 z M 116.380 492.710 L 122.380 492.710 L 122.380 486.710 L 116.380 486.710 z M 119.007 489.174 L 125.007 489.174 L 125.007 483.174 L 119.007 483.174 z M 121.734 486.356 L 127.734 486.356 L 127.734 480.356 L 121.734 480.356 z M 124.907 482.094 L 130.907 482.094 L 130.907 476.094 L 124.907 476.094 z M 125.885 480.993 L 131.885 480.993 L 131.885 474.993 L 125.885 474.993 z M 126.912 479.937 L 132.912 479.937 L 132.912 473.937 L 126.912 473.937 z M 127.956 478.898 L 133.956 478.898 L 133.956 472.898 L 127.956 472.898 z M 128.990 477.849 L 134.990 477.849 L 134.990 471.849 L 128.990 471.849 z M 129.984 476.762 L 135.984 476.762 L 135.984 470.762 L 129.984 470.762 z M 130.925 475.629 L 136.925 475.629 L 136.925 469.629 L 130.925 469.629 z M 132.814 473.135 L 138.814 473.135 L 138.814 467.135 L 132.814 467.135 z M 134.630 470.280 L 140.630 470.280 L 140.630 464.280 L 134.630 464.280 z M 135.822 468.449 L 141.822 468.449 L 141.822 462.449 L 135.822 462.449 z M 136.660 467.336 L 142.660 467.336 L 142.660 461.336 L 136.660 461.336 z M 137.538 466.255 L 143.538 466.255 L 143.538 460.255 L 137.538 460.255 z M 138.437 465.192 L 144.437 465.192 L 144.437 459.192 L 138.437 459.192 z M 139.339 464.131 L 145.339 464.131 L 145.339 458.131 L 139.339 458.131 z M 140.228 463.059 L 146.228 463.059 L 146.228 457.059 L 140.228 457.059 z M 141.089 461.965 L 147.089 461.965 L 147.089 455.965 L 141.089 455.965 z M 141.941 460.863 L 147.941 460.863 L 147.941 454.863 L 141.941 454.863 z M 142.786 459.756 L 148.786 459.756 L 148.786 453.756 L 142.786 453.756 z M 143.623 458.644 L 149.623 458.644 L 149.623 452.644 L 143.623 452.644 z M 144.453 457.526 L 150.453 457.526 L 150.453 451.526 L 144.453 451.526 z M 145.276 456.402 L 151.276 456.402 L 151.276 450.402 L 145.276 450.402 z M 146.091 455.273 L 152.091 455.273 L 152.091 449.273 L 146.091 449.273 z" style="fill-opacity: 0; stroke: #000000; stroke-linejoin: miter; stroke: #000000; stroke-linejoin: miter"/>
    </g>
   </g>
   <g id="patch_23">
    <path d="M 43.272727 508.818182 
L 43.272727 415 
" style="fill: none; stroke: #000000; stroke-width: 0.8; stroke-linejoin: miter; stroke-linecap: square"/>
   </g>
   <g id="patch_24">
    <path d="M 149.363636 508.818182 
L 149.363636 415 
" style="fill: none; stroke: #000000; stroke-width: 0.8; stroke-linejoin: miter; stroke-linecap: square"/>
   </g>
   <g id="patch_25">
    <path d="M 43.272727 508.818182 
L 149.363636 508.818182 
" style="fill: none; stroke: #000000; stroke-width: 0.8; stroke-linejoin: miter; stroke-linecap: square"/>
   </g>
   <g id="patch_26">
    <path d="M 43.272727 415 
L 149.363636 415 
" style="fill: none; stroke: #000000; stroke-width: 0.8; stroke-linejoin: miter; stroke-linecap: square"/>
   </g>
   <g id="line2d_53">
    <path d="M 45.545455 497.636364 
L 55.556624 497.184247 
L 70.097516 496.278343 
L 73.397307 495.892187 
L 75.045202 495.479533 
L 76.581171 494.902485 
L 77.617324 494.287226 
L 78.745358 493.351071 
L 79.657248 492.331578 
L 80.580853 490.967815 
L 81.739077 488.819598 
L 84.199661 483.618805 
L 90.838169 467.766113 
L 92.102275 464.155846 
L 94.641101 456.692961 
L 95.871981 453.867652 
L 97.403618 450.856287 
L 98.893188 448.397342 
L 100.280292 446.514124 
L 101.754867 444.964164 
L 109.648484 437.5644 
L 112.037323 435.60601 
L 114.169288 434.150595 
L 116.650635 432.742465 
L 120.95438 430.606089 
L 127.006855 427.775142 
L 132.08306 425.689196 
L 136.347259 424.159217 
L 140.921925 422.801684 
L 145.404195 421.620582 
L 147.000894 421.133647 
L 147.971223 420.619037 
L 148.327502 420.252945 
L 148.494819 419.841262 
L 148.629689 418.900556 
L 148.636364 418.636364 
L 148.636364 418.636364 
" clip-path="url(#p4490bba9bd)" style="fill: none; stroke: #8a2be2; stroke-width: 1.5; stroke-linecap: square"/>
   </g>
   <g id="line2d_54">
    <path d="M 85.454545 504.318182 
L 90.288404 504.20733 
L 93.122408 503.98352 
L 96.76847 503.401669 
L 99.831668 502.681559 
L 103.242559 501.637956 
L 106.27715 500.499468 
L 108.880397 499.268463 
L 111.509404 497.775506 
L 113.94818 496.136617 
L 115.670217 494.718346 
L 117.608283 492.828188 
L 120.522084 489.626985 
L 125.821669 483.501299 
L 138.129815 468.548942 
L 141.373819 464.594091 
L 143.52431 461.615268 
L 145.903761 457.914127 
L 148.182124 453.957238 
L 148.454545 453.454545 
L 148.454545 453.454545 
" clip-path="url(#p4490bba9bd)" style="fill: none; stroke: #8a2be2; stroke-width: 1.5; stroke-linecap: square"/>
   </g>
  </g>
  <g id="axes_6">
   <g id="patch_27">
    <path d="M 43.272727 612 
L 149.363636 612 
L 149.363636 518.181818 
L 43.272727 518.181818 
z
" style="fill: #ffffff"/>
   </g>
   <g id="matplotlib.axis_11">
    <g id="xtick_16">
     <g id="line2d_55">
      <g>
    <path d="M 43.273 612.000 L 43.273 615.500" style="stroke: #000000; stroke-width: 0.8; stroke: #000000; stroke-width: 0.8"/>
      </g>
     </g>
     <g id="text_20">
      <!-- $\mathdefault{10^{-7}}$ -->
      <g transform="translate(31.522727 627.398438)">
       <text>
        <tspan x="0" y="-0.064063" style="font-size: 10px; font-family: 'DejaVu Sans', 'Noto Sans CJK SC', sans-serif">1</tspan>
        <tspan x="6.362305" y="-0.064063" style="font-size: 10px; font-family: 'DejaVu Sans', 'Noto Sans CJK SC', sans-serif">0</tspan>
        <tspan x="12.820312" y="-3.892188" style="font-size: 7px; font-family: 'DejaVu Sans', 'Noto Sans CJK SC', sans-serif">−</tspan>
        <tspan x="18.685547" y="-3.892188" style="font-size: 7px; font-family: 'DejaVu Sans', 'Noto Sans CJK SC', sans-serif">7</tspan>
       </text>
      </g>
     </g>
    </g>
    <g id="xtick_17">
     <g id="line2d_56">
      <g>
    <path d="M 88.740 612.000 L 88.740 615.500" style="stroke: #000000; stroke-width: 0.8; stroke: #000000; stroke-width: 0.8"/>
      </g>
     </g>
     <g id="text_21">
      <!-- $\mathdefault{10^{-4}}$ -->
      <g transform="translate(76.99026 627.398438)">
       <text>
        <tspan x="0" y="-0.064063" style="font-size: 10px; font-family: 'DejaVu Sans', 'Noto Sans CJK SC', sans-serif">1</tspan>
        <tspan x="6.362305" y="-0.064063" style="font-size: 10px; font-family: 'DejaVu Sans', 'Noto Sans CJK SC', sans-serif">0</tspan>
        <tspan x="12.820312" y="-3.892188" style="font-size: 7px; font-family: 'DejaVu Sans', 'Noto Sans CJK SC', sans-serif">−</tspan>
        <tspan x="18.685547" y="-3.892188" style="font-size: 7px; font-family: 'DejaVu Sans', 'Noto Sans CJK SC', sans-serif">4</tspan>
       </text>
      </g>
     </g>
    </g>
    <g id="xtick_18">
     <g id="line2d_57">
      <g>
    <path d="M 134.208 612.000 L 134.208 615.500" style="stroke: #000000; stroke-width: 0.8; stroke: #000000; stroke-width: 0.8"/>
      </g>
     </g>
     <g id="text_22">
      <!-- $\mathdefault{10^{-1}}$ -->
      <g transform="translate(122.457792 627.398438)">
       <text>
        <tspan x="0" y="-0.064063" style="font-size: 10px; font-family: 'DejaVu Sans', 'Noto Sans CJK SC', sans-serif">1</tspan>
        <tspan x="6.362305" y="-0.064063" style="font-size: 10px; font-family: 'DejaVu Sans', 'Noto Sans CJK SC', sans-serif">0</tspan>
        <tspan x="12.820312" y="-3.892188" style="font-size: 7px; font-family: 'DejaVu Sans', 'Noto Sans CJK SC', sans-serif">−</tspan>
        <tspan x="18.685547" y="-3.892188" style="font-size: 7px; font-family: 'DejaVu Sans', 'Noto Sans CJK SC', sans-serif">1</tspan>
       </text>
      </g>
     </g>
    </g>
   </g>
   <g id="matplotlib.axis_12">
    <g id="ytick_20">
     <g id="line2d_58">
      <g>
    <path d="M 43.273 607.727 L 39.773 607.727" style="stroke: #000000; stroke-width: 0.8; stroke: #000000; stroke-width: 0.8"/>
      </g>
     </g>
     <g id="text_23">
      <text style="font-size: 10px; font-family: 'DejaVu Sans', 'Noto Sans CJK SC', sans-serif; text-anchor: end" x="36.272727" y="611.526491" transform="rotate(-0 36.272727 611.526491)">0</text>
     </g>
    </g>
    <g id="ytick_21">
     <g id="line2d_59">
      <g>
    <path d="M 43.273 565.364 L 39.773 565.364" style="stroke: #000000; stroke-width: 0.8; stroke: #000000; stroke-width: 0.8"/>
      </g>
     </g>
     <g id="text_24">
      <text style="font-size: 10px; font-family: 'DejaVu Sans', 'Noto Sans CJK SC', sans-serif; text-anchor: end" x="36.272727" y="569.162855" transform="rotate(-0 36.272727 569.162855)">200</text>
     </g>
    </g>
    <g id="ytick_22">
     <g id="line2d_60">
      <g>
    <path d="M 43.273 523.000 L 39.773 523.000" style="stroke: #000000; stroke-width: 0.8; stroke: #000000; stroke-width: 0.8"/>
      </g>
     </g>
     <g id="text_25">
      <text style="font-size: 10px; font-family: 'DejaVu Sans', 'Noto Sans CJK SC', sans-serif; text-anchor: end" x="36.272727" y="526.799219" transform="rotate(-0 36.272727 526.799219)">400</text>
     </g>
    </g>
   </g>
   <g id="line2d_61">
    <g>
    <path d="M 49.818 607.727 C 50.614 607.727 51.377 607.411 51.940 606.849 C 52.502 606.286 52.818 605.523 52.818 604.727 C 52.818 603.932 52.502 603.169 51.940 602.606 C 51.377 602.043 50.614 601.727 49.818 601.727 C 49.023 601.727 48.259 602.043 47.697 602.606 C 47.134 603.169 46.818 603.932 46.818 604.727 C 46.818 605.523 47.134 606.286 47.697 606.849 C 48.259 607.411 49.023 607.727 49.818 607.727 z M 65.909 605.091 C 66.705 605.091 67.468 604.775 68.030 604.212 C 68.593 603.650 68.909 602.887 68.909 602.091 C 68.909 601.295 68.593 600.532 68.030 599.970 C 67.468 599.407 66.705 599.091 65.909 599.091 C 65.113 599.091 64.350 599.407 63.788 599.970 C 63.225 600.532 62.909 601.295 62.909 602.091 C 62.909 602.887 63.225 603.650 63.788 604.212 C 64.350 604.775 65.113 605.091 65.909 605.091 z M 71.364 601.545 C 72.159 601.545 72.922 601.229 73.485 600.667 C 74.048 600.104 74.364 599.341 74.364 598.545 C 74.364 597.750 74.048 596.987 73.485 596.424 C 72.922 595.862 72.159 595.545 71.364 595.545 C 70.568 595.545 69.805 595.862 69.242 596.424 C 68.680 596.987 68.364 597.750 68.364 598.545 C 68.364 599.341 68.680 600.104 69.242 600.667 C 69.805 601.229 70.568 601.545 71.364 601.545 z M 75.364 598.818 C 76.159 598.818 76.922 598.502 77.485 597.940 C 78.048 597.377 78.364 596.614 78.364 595.818 C 78.364 595.023 78.048 594.259 77.485 593.697 C 76.922 593.134 76.159 592.818 75.364 592.818 C 74.568 592.818 73.805 593.134 73.242 593.697 C 72.680 594.259 72.364 595.023 72.364 595.818 C 72.364 596.614 72.680 597.377 73.242 597.940 C 73.805 598.502 74.568 598.818 75.364 598.818 z M 77.956 597.229 C 78.751 597.229 79.515 596.913 80.077 596.350 C 80.640 595.787 80.956 595.024 80.956 594.229 C 80.956 593.433 80.640 592.670 80.077 592.107 C 79.515 591.545 78.751 591.229 77.956 591.229 C 77.160 591.229 76.397 591.545 75.835 592.107 C 75.272 592.670 74.956 593.433 74.956 594.229 C 74.956 595.024 75.272 595.787 75.835 596.350 C 76.397 596.913 77.160 597.229 77.956 597.229 z M 79.988 594.980 C 80.784 594.980 81.547 594.664 82.109 594.101 C 82.672 593.539 82.988 592.775 82.988 591.980 C 82.988 591.184 82.672 590.421 82.109 589.858 C 81.547 589.296 80.784 588.980 79.988 588.980 C 79.192 588.980 78.429 589.296 77.867 589.858 C 77.304 590.421 76.988 591.184 76.988 591.980 C 76.988 592.775 77.304 593.539 77.867 594.101 C 78.429 594.664 79.192 594.980 79.988 594.980 z M 81.444 592.303 C 82.239 592.303 83.002 591.987 83.565 591.425 C 84.127 590.862 84.444 590.099 84.444 589.303 C 84.444 588.508 84.127 587.744 83.565 587.182 C 83.002 586.619 82.239 586.303 81.444 586.303 C 80.648 586.303 79.885 586.619 79.322 587.182 C 78.760 587.744 78.444 588.508 78.444 589.303 C 78.444 590.099 78.760 590.862 79.322 591.425 C 79.885 591.987 80.648 592.303 81.444 592.303 z M 82.988 589.676 C 83.783 589.676 84.547 589.360 85.109 588.797 C 85.672 588.235 85.988 587.472 85.988 586.676 C 85.988 585.881 85.672 585.117 85.109 584.555 C 84.547 583.992 83.783 583.676 82.988 583.676 C 82.192 583.676 81.429 583.992 80.867 584.555 C 80.304 585.117 79.988 585.881 79.988 586.676 C 79.988 587.472 80.304 588.235 80.867 588.797 C 81.429 589.360 82.192 589.676 82.988 589.676 z M 84.489 587.025 C 85.285 587.025 86.048 586.708 86.611 586.146 C 87.173 585.583 87.489 584.820 87.489 584.025 C 87.489 583.229 87.173 582.466 86.611 581.903 C 86.048 581.341 85.285 581.025 84.489 581.025 C 83.694 581.025 82.931 581.341 82.368 581.903 C 81.806 582.466 81.489 583.229 81.489 584.025 C 81.489 584.820 81.806 585.583 82.368 586.146 C 82.931 586.708 83.694 587.025 84.489 587.025 z M 85.836 584.291 C 86.631 584.291 87.395 583.975 87.957 583.412 C 88.520 582.850 88.836 582.086 88.836 581.291 C 88.836 580.495 88.520 579.732 87.957 579.170 C 87.395 578.607 86.631 578.291 85.836 578.291 C 85.040 578.291 84.277 578.607 83.715 579.170 C 83.152 579.732 82.836 580.495 82.836 581.291 C 82.836 582.086 83.152 582.850 83.715 583.412 C 84.277 583.975 85.040 584.291 85.836 584.291 z M 87.114 581.524 C 87.910 581.524 88.673 581.208 89.235 580.646 C 89.798 580.083 90.114 579.320 90.114 578.524 C 90.114 577.729 89.798 576.965 89.235 576.403 C 88.673 575.840 87.910 575.524 87.114 575.524 C 86.318 575.524 85.555 575.840 84.993 576.403 C 84.430 576.965 84.114 577.729 84.114 578.524 C 84.114 579.320 84.430 580.083 84.993 580.646 C 85.555 581.208 86.318 581.524 87.114 581.524 z M 88.377 578.751 C 89.173 578.751 89.936 578.435 90.499 577.872 C 91.061 577.310 91.377 576.546 91.377 575.751 C 91.377 574.955 91.061 574.192 90.499 573.630 C 89.936 573.067 89.173 572.751 88.377 572.751 C 87.582 572.751 86.819 573.067 86.256 573.630 C 85.693 574.192 85.377 574.955 85.377 575.751 C 85.377 576.546 85.693 577.310 86.256 577.872 C 86.819 578.435 87.582 578.751 88.377 578.751 z M 89.629 575.972 C 90.424 575.972 91.187 575.656 91.750 575.093 C 92.313 574.531 92.629 573.768 92.629 572.972 C 92.629 572.176 92.313 571.413 91.750 570.851 C 91.187 570.288 90.424 569.972 89.629 569.972 C 88.833 569.972 88.070 570.288 87.507 570.851 C 86.945 571.413 86.629 572.176 86.629 572.972 C 86.629 573.768 86.945 574.531 87.507 575.093 C 88.070 575.656 88.833 575.972 89.629 575.972 z M 90.914 573.209 C 91.710 573.209 92.473 572.893 93.035 572.330 C 93.598 571.768 93.914 571.004 93.914 570.209 C 93.914 569.413 93.598 568.650 93.035 568.087 C 92.473 567.525 91.710 567.209 90.914 567.209 C 90.118 567.209 89.355 567.525 88.793 568.087 C 88.230 568.650 87.914 569.413 87.914 570.209 C 87.914 571.004 88.230 571.768 88.793 572.330 C 89.355 572.893 90.118 573.209 90.914 573.209 z M 92.230 570.460 C 93.025 570.460 93.788 570.144 94.351 569.581 C 94.913 569.018 95.230 568.255 95.230 567.460 C 95.230 566.664 94.913 565.901 94.351 565.338 C 93.788 564.776 93.025 564.460 92.230 564.460 C 91.434 564.460 90.671 564.776 90.108 565.338 C 89.546 565.901 89.230 566.664 89.230 567.460 C 89.230 568.255 89.546 569.018 90.108 569.581 C 90.671 570.144 91.434 570.460 92.230 570.460 z M 93.582 567.729 C 94.378 567.729 95.141 567.413 95.703 566.850 C 96.266 566.288 96.582 565.524 96.582 564.729 C 96.582 563.933 96.266 563.170 95.703 562.607 C 95.141 562.045 94.378 561.729 93.582 561.729 C 92.786 561.729 92.023 562.045 91.461 562.607 C 90.898 563.170 90.582 563.933 90.582 564.729 C 90.582 565.524 90.898 566.288 91.461 566.850 C 92.023 567.413 92.786 567.729 93.582 567.729 z M 94.998 565.030 C 95.794 565.030 96.557 564.714 97.120 564.152 C 97.682 563.589 97.998 562.826 97.998 562.030 C 97.998 561.235 97.682 560.472 97.120 559.909 C 96.557 559.347 95.794 559.030 94.998 559.030 C 94.203 559.030 93.439 559.347 92.877 559.909 C 92.314 560.472 91.998 561.235 91.998 562.030 C 91.998 562.826 92.314 563.589 92.877 564.152 C 93.439 564.714 94.203 565.030 94.998 565.030 z M 96.578 562.425 C 97.373 562.425 98.136 562.109 98.699 561.546 C 99.261 560.983 99.578 560.220 99.578 559.425 C 99.578 558.629 99.261 557.866 98.699 557.303 C 98.136 556.741 97.373 556.425 96.578 556.425 C 95.782 556.425 95.019 556.741 94.456 557.303 C 93.894 557.866 93.578 558.629 93.578 559.425 C 93.578 560.220 93.894 560.983 94.456 561.546 C 95.019 562.109 95.782 562.425 96.578 562.425 z M 98.256 559.881 C 99.052 559.881 99.815 559.565 100.378 559.003 C 100.940 558.440 101.256 557.677 101.256 556.881 C 101.256 556.086 100.940 555.323 100.378 554.760 C 99.815 554.197 99.052 553.881 98.256 553.881 C 97.461 553.881 96.698 554.197 96.135 554.760 C 95.573 555.323 95.256 556.086 95.256 556.881 C 95.256 557.677 95.573 558.440 96.135 559.003 C 96.698 559.565 97.461 559.881 98.256 559.881 z M 99.937 557.340 C 100.733 557.340 101.496 557.023 102.058 556.461 C 102.621 555.898 102.937 555.135 102.937 554.340 C 102.937 553.544 102.621 552.781 102.058 552.218 C 101.496 551.656 100.733 551.340 99.937 551.340 C 99.141 551.340 98.378 551.656 97.816 552.218 C 97.253 552.781 96.937 553.544 96.937 554.340 C 96.937 555.135 97.253 555.898 97.816 556.461 C 98.378 557.023 99.141 557.340 99.937 557.340 z M 101.981 555.087 C 102.777 555.087 103.540 554.771 104.102 554.208 C 104.665 553.645 104.981 552.882 104.981 552.087 C 104.981 551.291 104.665 550.528 104.102 549.965 C 103.540 549.403 102.777 549.087 101.981 549.087 C 101.185 549.087 100.422 549.403 99.860 549.965 C 99.297 550.528 98.981 551.291 98.981 552.087 C 98.981 552.882 99.297 553.645 99.860 554.208 C 100.422 554.771 101.185 555.087 101.981 555.087 z M 104.362 553.189 C 105.157 553.189 105.921 552.873 106.483 552.310 C 107.046 551.748 107.362 550.985 107.362 550.189 C 107.362 549.393 107.046 548.630 106.483 548.068 C 105.921 547.505 105.157 547.189 104.362 547.189 C 103.566 547.189 102.803 547.505 102.241 548.068 C 101.678 548.630 101.362 549.393 101.362 550.189 C 101.362 550.985 101.678 551.748 102.241 552.310 C 102.803 552.873 103.566 553.189 104.362 553.189 z M 106.831 551.406 C 107.626 551.406 108.389 551.090 108.952 550.528 C 109.515 549.965 109.831 549.202 109.831 548.406 C 109.831 547.611 109.515 546.848 108.952 546.285 C 108.389 545.722 107.626 545.406 106.831 545.406 C 106.035 545.406 105.272 545.722 104.709 546.285 C 104.147 546.848 103.831 547.611 103.831 548.406 C 103.831 549.202 104.147 549.965 104.709 550.528 C 105.272 551.090 106.035 551.406 106.831 551.406 z M 109.091 549.364 C 109.887 549.364 110.650 549.048 111.212 548.485 C 111.775 547.922 112.091 547.159 112.091 546.364 C 112.091 545.568 111.775 544.805 111.212 544.242 C 110.650 543.680 109.887 543.364 109.091 543.364 C 108.295 543.364 107.532 543.680 106.970 544.242 C 106.407 544.805 106.091 545.568 106.091 546.364 C 106.091 547.159 106.407 547.922 106.970 548.485 C 107.532 549.048 108.295 549.364 109.091 549.364 z M 111.545 548.182 C 112.341 548.182 113.104 547.866 113.667 547.303 C 114.229 546.741 114.545 545.977 114.545 545.182 C 114.545 544.386 114.229 543.623 113.667 543.060 C 113.104 542.498 112.341 542.182 111.545 542.182 C 110.750 542.182 109.987 542.498 109.424 543.060 C 108.862 543.623 108.545 544.386 108.545 545.182 C 108.545 545.977 108.862 546.741 109.424 547.303 C 109.987 547.866 110.750 548.182 111.545 548.182 z M 112.183 547.822 C 112.979 547.822 113.742 547.506 114.305 546.943 C 114.867 546.381 115.183 545.618 115.183 544.822 C 115.183 544.027 114.867 543.263 114.305 542.701 C 113.742 542.138 112.979 541.822 112.183 541.822 C 111.388 541.822 110.624 542.138 110.062 542.701 C 109.499 543.263 109.183 544.027 109.183 544.822 C 109.183 545.618 109.499 546.381 110.062 546.943 C 110.624 547.506 111.388 547.822 112.183 547.822 z M 112.822 547.465 C 113.618 547.465 114.381 547.149 114.944 546.586 C 115.506 546.024 115.822 545.261 115.822 544.465 C 115.822 543.669 115.506 542.906 114.944 542.344 C 114.381 541.781 113.618 541.465 112.822 541.465 C 112.027 541.465 111.264 541.781 110.701 542.344 C 110.138 542.906 109.822 543.669 109.822 544.465 C 109.822 545.261 110.138 546.024 110.701 546.586 C 111.264 547.149 112.027 547.465 112.822 547.465 z M 113.463 547.110 C 114.259 547.110 115.022 546.794 115.584 546.232 C 116.147 545.669 116.463 544.906 116.463 544.110 C 116.463 543.315 116.147 542.552 115.584 541.989 C 115.022 541.426 114.259 541.110 113.463 541.110 C 112.667 541.110 111.904 541.426 111.342 541.989 C 110.779 542.552 110.463 543.315 110.463 544.110 C 110.463 544.906 110.779 545.669 111.342 546.232 C 111.904 546.794 112.667 547.110 113.463 547.110 z M 114.105 546.758 C 114.901 546.758 115.664 546.442 116.226 545.879 C 116.789 545.317 117.105 544.554 117.105 543.758 C 117.105 542.963 116.789 542.199 116.226 541.637 C 115.664 541.074 114.901 540.758 114.105 540.758 C 113.309 540.758 112.546 541.074 111.984 541.637 C 111.421 542.199 111.105 542.963 111.105 543.758 C 111.105 544.554 111.421 545.317 111.984 545.879 C 112.546 546.442 113.309 546.758 114.105 546.758 z M 114.748 546.409 C 115.544 546.409 116.307 546.092 116.870 545.530 C 117.432 544.967 117.748 544.204 117.748 543.409 C 117.748 542.613 117.432 541.850 116.870 541.287 C 116.307 540.725 115.544 540.409 114.748 540.409 C 113.953 540.409 113.190 540.725 112.627 541.287 C 112.064 541.850 111.748 542.613 111.748 543.409 C 111.748 544.204 112.064 544.967 112.627 545.530 C 113.190 546.092 113.953 546.409 114.748 546.409 z M 115.393 546.062 C 116.189 546.062 116.952 545.746 117.514 545.183 C 118.077 544.620 118.393 543.857 118.393 543.062 C 118.393 542.266 118.077 541.503 117.514 540.940 C 116.952 540.378 116.189 540.062 115.393 540.062 C 114.597 540.062 113.834 540.378 113.272 540.940 C 112.709 541.503 112.393 542.266 112.393 543.062 C 112.393 543.857 112.709 544.620 113.272 545.183 C 113.834 545.746 114.597 546.062 115.393 546.062 z M 116.039 545.717 C 116.835 545.717 117.598 545.401 118.160 544.838 C 118.723 544.276 119.039 543.513 119.039 542.717 C 119.039 541.921 118.723 541.158 118.160 540.596 C 117.598 540.033 116.835 539.717 116.039 539.717 C 115.243 539.717 114.480 540.033 113.918 540.596 C 113.355 541.158 113.039 541.921 113.039 542.717 C 113.039 543.513 113.355 544.276 113.918 544.838 C 114.480 545.401 115.243 545.717 116.039 545.717 z M 116.686 545.375 C 117.482 545.375 118.245 545.059 118.808 544.496 C 119.370 543.934 119.686 543.171 119.686 542.375 C 119.686 541.579 119.370 540.816 118.808 540.254 C 118.245 539.691 117.482 539.375 116.686 539.375 C 115.891 539.375 115.128 539.691 114.565 540.254 C 114.003 540.816 113.686 541.579 113.686 542.375 C 113.686 543.171 114.003 543.934 114.565 544.496 C 115.128 545.059 115.891 545.375 116.686 545.375 z M 117.335 545.035 C 118.131 545.035 118.894 544.719 119.456 544.157 C 120.019 543.594 120.335 542.831 120.335 542.035 C 120.335 541.240 120.019 540.477 119.456 539.914 C 118.894 539.351 118.131 539.035 117.335 539.035 C 116.539 539.035 115.776 539.351 115.214 539.914 C 114.651 540.477 114.335 541.240 114.335 542.035 C 114.335 542.831 114.651 543.594 115.214 544.157 C 115.776 544.719 116.539 545.035 117.335 545.035 z M 117.985 544.698 C 118.781 544.698 119.544 544.382 120.106 543.820 C 120.669 543.257 120.985 542.494 120.985 541.698 C 120.985 540.903 120.669 540.139 120.106 539.577 C 119.544 539.014 118.781 538.698 117.985 538.698 C 117.189 538.698 116.426 539.014 115.864 539.577 C 115.301 540.139 114.985 540.903 114.985 541.698 C 114.985 542.494 115.301 543.257 115.864 543.820 C 116.426 544.382 117.189 544.698 117.985 544.698 z M 118.636 544.364 C 119.432 544.364 120.195 544.048 120.758 543.485 C 121.320 542.922 121.636 542.159 121.636 541.364 C 121.636 540.568 121.320 539.805 120.758 539.242 C 120.195 538.680 119.432 538.364 118.636 538.364 C 117.841 538.364 117.078 538.680 116.515 539.242 C 115.952 539.805 115.636 540.568 115.636 541.364 C 115.636 542.159 115.952 542.922 116.515 543.485 C 117.078 544.048 117.841 544.364 118.636 544.364 z M 123.364 541.000 C 124.159 541.000 124.922 540.684 125.485 540.121 C 126.048 539.559 126.364 538.796 126.364 538.000 C 126.364 537.204 126.048 536.441 125.485 535.879 C 124.922 535.316 124.159 535.000 123.364 535.000 C 122.568 535.000 121.805 535.316 121.242 535.879 C 120.680 536.441 120.364 537.204 120.364 538.000 C 120.364 538.796 120.680 539.559 121.242 540.121 C 121.805 540.684 122.568 541.000 123.364 541.000 z M 125.909 539.455 C 126.705 539.455 127.468 539.138 128.030 538.576 C 128.593 538.013 128.909 537.250 128.909 536.455 C 128.909 535.659 128.593 534.896 128.030 534.333 C 127.468 533.771 126.705 533.455 125.909 533.455 C 125.113 533.455 124.350 533.771 123.788 534.333 C 123.225 534.896 122.909 535.659 122.909 536.455 C 122.909 537.250 123.225 538.013 123.788 538.576 C 124.350 539.138 125.113 539.455 125.909 539.455 z M 126.482 539.169 C 127.278 539.169 128.041 538.853 128.604 538.290 C 129.166 537.727 129.482 536.964 129.482 536.169 C 129.482 535.373 129.166 534.610 128.604 534.047 C 128.041 533.485 127.278 533.169 126.482 533.169 C 125.687 533.169 124.924 533.485 124.361 534.047 C 123.798 534.610 123.482 535.373 123.482 536.169 C 123.482 536.964 123.798 537.727 124.361 538.290 C 124.924 538.853 125.687 539.169 126.482 539.169 z M 127.057 538.885 C 127.852 538.885 128.615 538.569 129.178 538.006 C 129.741 537.444 130.057 536.680 130.057 535.885 C 130.057 535.089 129.741 534.326 129.178 533.763 C 128.615 533.201 127.852 532.885 127.057 532.885 C 126.261 532.885 125.498 533.201 124.935 533.763 C 124.373 534.326 124.057 535.089 124.057 535.885 C 124.057 536.680 124.373 537.444 124.935 538.006 C 125.498 538.569 126.261 538.885 127.057 538.885 z M 127.632 538.603 C 128.428 538.603 129.191 538.287 129.753 537.724 C 130.316 537.162 130.632 536.399 130.632 535.603 C 130.632 534.807 130.316 534.044 129.753 533.482 C 129.191 532.919 128.428 532.603 127.632 532.603 C 126.836 532.603 126.073 532.919 125.511 533.482 C 124.948 534.044 124.632 534.807 124.632 535.603 C 124.632 536.399 124.948 537.162 125.511 537.724 C 126.073 538.287 126.836 538.603 127.632 538.603 z M 128.208 538.324 C 129.004 538.324 129.767 538.007 130.330 537.445 C 130.892 536.882 131.208 536.119 131.208 535.324 C 131.208 534.528 130.892 533.765 130.330 533.202 C 129.767 532.640 129.004 532.324 128.208 532.324 C 127.413 532.324 126.650 532.640 126.087 533.202 C 125.524 533.765 125.208 534.528 125.208 535.324 C 125.208 536.119 125.524 536.882 126.087 537.445 C 126.650 538.007 127.413 538.324 128.208 538.324 z M 128.786 538.046 C 129.581 538.046 130.345 537.730 130.907 537.168 C 131.470 536.605 131.786 535.842 131.786 535.046 C 131.786 534.251 131.470 533.488 130.907 532.925 C 130.345 532.362 129.581 532.046 128.786 532.046 C 127.990 532.046 127.227 532.362 126.665 532.925 C 126.102 533.488 125.786 534.251 125.786 535.046 C 125.786 535.842 126.102 536.605 126.665 537.168 C 127.227 537.730 127.990 538.046 128.786 538.046 z M 129.364 537.771 C 130.160 537.771 130.923 537.455 131.486 536.893 C 132.048 536.330 132.364 535.567 132.364 534.771 C 132.364 533.976 132.048 533.212 131.486 532.650 C 130.923 532.087 130.160 531.771 129.364 531.771 C 128.569 531.771 127.806 532.087 127.243 532.650 C 126.681 533.212 126.364 533.976 126.364 534.771 C 126.364 535.567 126.681 536.330 127.243 536.893 C 127.806 537.455 128.569 537.771 129.364 537.771 z M 129.944 537.498 C 130.740 537.498 131.503 537.182 132.065 536.620 C 132.628 536.057 132.944 535.294 132.944 534.498 C 132.944 533.703 132.628 532.940 132.065 532.377 C 131.503 531.815 130.740 531.498 129.944 531.498 C 129.148 531.498 128.385 531.815 127.823 532.377 C 127.260 532.940 126.944 533.703 126.944 534.498 C 126.944 535.294 127.260 536.057 127.823 536.620 C 128.385 537.182 129.148 537.498 129.944 537.498 z M 130.525 537.228 C 131.320 537.228 132.084 536.912 132.646 536.349 C 133.209 535.787 133.525 535.024 133.525 534.228 C 133.525 533.432 133.209 532.669 132.646 532.107 C 132.084 531.544 131.320 531.228 130.525 531.228 C 129.729 531.228 128.966 531.544 128.404 532.107 C 127.841 532.669 127.525 533.432 127.525 534.228 C 127.525 535.024 127.841 535.787 128.404 536.349 C 128.966 536.912 129.729 537.228 130.525 537.228 z M 131.107 536.960 C 131.902 536.960 132.665 536.644 133.228 536.081 C 133.791 535.519 134.107 534.756 134.107 533.960 C 134.107 533.164 133.791 532.401 133.228 531.839 C 132.665 531.276 131.902 530.960 131.107 530.960 C 130.311 530.960 129.548 531.276 128.985 531.839 C 128.423 532.401 128.107 533.164 128.107 533.960 C 128.107 534.756 128.423 535.519 128.985 536.081 C 129.548 536.644 130.311 536.960 131.107 536.960 z M 131.690 536.695 C 132.485 536.695 133.248 536.378 133.811 535.816 C 134.374 535.253 134.690 534.490 134.690 533.695 C 134.690 532.899 134.374 532.136 133.811 531.573 C 133.248 531.011 132.485 530.695 131.690 530.695 C 130.894 530.695 130.131 531.011 129.568 531.573 C 129.006 532.136 128.690 532.899 128.690 533.695 C 128.690 534.490 129.006 535.253 129.568 535.816 C 130.131 536.378 130.894 536.695 131.690 536.695 z M 132.274 536.431 C 133.069 536.431 133.832 536.115 134.395 535.552 C 134.957 534.990 135.274 534.227 135.274 533.431 C 135.274 532.635 134.957 531.872 134.395 531.310 C 133.832 530.747 133.069 530.431 132.274 530.431 C 131.478 530.431 130.715 530.747 130.152 531.310 C 129.590 531.872 129.274 532.635 129.274 533.431 C 129.274 534.227 129.590 534.990 130.152 535.552 C 130.715 536.115 131.478 536.431 132.274 536.431 z M 132.858 536.169 C 133.654 536.169 134.417 535.853 134.979 535.290 C 135.542 534.728 135.858 533.964 135.858 533.169 C 135.858 532.373 135.542 531.610 134.979 531.048 C 134.417 530.485 133.654 530.169 132.858 530.169 C 132.062 530.169 131.299 530.485 130.737 531.048 C 130.174 531.610 129.858 532.373 129.858 533.169 C 129.858 533.964 130.174 534.728 130.737 535.290 C 131.299 535.853 132.062 536.169 132.858 536.169 z M 133.443 535.908 C 134.239 535.908 135.002 535.592 135.565 535.030 C 136.127 534.467 136.443 533.704 136.443 532.908 C 136.443 532.113 136.127 531.350 135.565 530.787 C 135.002 530.224 134.239 529.908 133.443 529.908 C 132.648 529.908 131.885 530.224 131.322 530.787 C 130.759 531.350 130.443 532.113 130.443 532.908 C 130.443 533.704 130.759 534.467 131.322 535.030 C 131.885 535.592 132.648 535.908 133.443 535.908 z M 134.029 535.650 C 134.825 535.650 135.588 535.334 136.151 534.771 C 136.713 534.208 137.029 533.445 137.029 532.650 C 137.029 531.854 136.713 531.091 136.151 530.528 C 135.588 529.966 134.825 529.650 134.029 529.650 C 133.234 529.650 132.471 529.966 131.908 530.528 C 131.345 531.091 131.029 531.854 131.029 532.650 C 131.029 533.445 131.345 534.208 131.908 534.771 C 132.471 535.334 133.234 535.650 134.029 535.650 z M 134.616 535.393 C 135.412 535.393 136.175 535.077 136.738 534.514 C 137.300 533.952 137.616 533.189 137.616 532.393 C 137.616 531.597 137.300 530.834 136.738 530.272 C 136.175 529.709 135.412 529.393 134.616 529.393 C 133.821 529.393 133.058 529.709 132.495 530.272 C 131.932 530.834 131.616 531.597 131.616 532.393 C 131.616 533.189 131.932 533.952 132.495 534.514 C 133.058 535.077 133.821 535.393 134.616 535.393 z M 135.204 535.139 C 136.000 535.139 136.763 534.823 137.326 534.260 C 137.888 533.698 138.204 532.935 138.204 532.139 C 138.204 531.343 137.888 530.580 137.326 530.018 C 136.763 529.455 136.000 529.139 135.204 529.139 C 134.409 529.139 133.646 529.455 133.083 530.018 C 132.521 530.580 132.204 531.343 132.204 532.139 C 132.204 532.935 132.521 533.698 133.083 534.260 C 133.646 534.823 134.409 535.139 135.204 535.139 z M 135.794 534.888 C 136.589 534.888 137.352 534.572 137.915 534.009 C 138.478 533.446 138.794 532.683 138.794 531.888 C 138.794 531.092 138.478 530.329 137.915 529.766 C 137.352 529.204 136.589 528.888 135.794 528.888 C 134.998 528.888 134.235 529.204 133.672 529.766 C 133.110 530.329 132.794 531.092 132.794 531.888 C 132.794 532.683 133.110 533.446 133.672 534.009 C 134.235 534.572 134.998 534.888 135.794 534.888 z M 136.384 534.639 C 137.180 534.639 137.943 534.323 138.506 533.761 C 139.068 533.198 139.384 532.435 139.384 531.639 C 139.384 530.844 139.068 530.081 138.506 529.518 C 137.943 528.956 137.180 528.639 136.384 528.639 C 135.589 528.639 134.825 528.956 134.263 529.518 C 133.700 530.081 133.384 530.844 133.384 531.639 C 133.384 532.435 133.700 533.198 134.263 533.761 C 134.825 534.323 135.589 534.639 136.384 534.639 z M 136.976 534.395 C 137.772 534.395 138.535 534.078 139.097 533.516 C 139.660 532.953 139.976 532.190 139.976 531.395 C 139.976 530.599 139.660 529.836 139.097 529.273 C 138.535 528.711 137.772 528.395 136.976 528.395 C 136.181 528.395 135.417 528.711 134.855 529.273 C 134.292 529.836 133.976 530.599 133.976 531.395 C 133.976 532.190 134.292 532.953 134.855 533.516 C 135.417 534.078 136.181 534.395 136.976 534.395 z M 137.570 534.153 C 138.365 534.153 139.128 533.837 139.691 533.275 C 140.253 532.712 140.570 531.949 140.570 531.153 C 140.570 530.358 140.253 529.595 139.691 529.032 C 139.128 528.469 138.365 528.153 137.570 528.153 C 136.774 528.153 136.011 528.469 135.448 529.032 C 134.886 529.595 134.570 530.358 134.570 531.153 C 134.570 531.949 134.886 532.712 135.448 533.275 C 136.011 533.837 136.774 534.153 137.570 534.153 z M 138.165 533.916 C 138.960 533.916 139.723 533.600 140.286 533.037 C 140.849 532.475 141.165 531.711 141.165 530.916 C 141.165 530.120 140.849 529.357 140.286 528.795 C 139.723 528.232 138.960 527.916 138.165 527.916 C 137.369 527.916 136.606 528.232 136.043 528.795 C 135.481 529.357 135.165 530.120 135.165 530.916 C 135.165 531.711 135.481 532.475 136.043 533.037 C 136.606 533.600 137.369 533.916 138.165 533.916 z M 138.762 533.685 C 139.558 533.685 140.321 533.369 140.883 532.806 C 141.446 532.243 141.762 531.480 141.762 530.685 C 141.762 529.889 141.446 529.126 140.883 528.563 C 140.321 528.001 139.558 527.685 138.762 527.685 C 137.966 527.685 137.203 528.001 136.641 528.563 C 136.078 529.126 135.762 529.889 135.762 530.685 C 135.762 531.480 136.078 532.243 136.641 532.806 C 137.203 533.369 137.966 533.685 138.762 533.685 z M 139.362 533.460 C 140.158 533.460 140.921 533.144 141.483 532.582 C 142.046 532.019 142.362 531.256 142.362 530.460 C 142.362 529.665 142.046 528.902 141.483 528.339 C 140.921 527.776 140.158 527.460 139.362 527.460 C 138.566 527.460 137.803 527.776 137.241 528.339 C 136.678 528.902 136.362 529.665 136.362 530.460 C 136.362 531.256 136.678 532.019 137.241 532.582 C 137.803 533.144 138.566 533.460 139.362 533.460 z M 139.964 533.241 C 140.760 533.241 141.523 532.925 142.085 532.363 C 142.648 531.800 142.964 531.037 142.964 530.241 C 142.964 529.446 142.648 528.683 142.085 528.120 C 141.523 527.557 140.760 527.241 139.964 527.241 C 139.168 527.241 138.405 527.557 137.843 528.120 C 137.280 528.683 136.964 529.446 136.964 530.241 C 136.964 531.037 137.280 531.800 137.843 532.363 C 138.405 532.925 139.168 533.241 139.964 533.241 z M 140.567 533.026 C 141.363 533.026 142.126 532.710 142.689 532.147 C 143.251 531.584 143.567 530.821 143.567 530.026 C 143.567 529.230 143.251 528.467 142.689 527.904 C 142.126 527.342 141.363 527.026 140.567 527.026 C 139.772 527.026 139.009 527.342 138.446 527.904 C 137.883 528.467 137.567 529.230 137.567 530.026 C 137.567 530.821 137.883 531.584 138.446 532.147 C 139.009 532.710 139.772 533.026 140.567 533.026 z M 141.171 532.811 C 141.967 532.811 142.730 532.495 143.292 531.933 C 143.855 531.370 144.171 530.607 144.171 529.811 C 144.171 529.016 143.855 528.253 143.292 527.690 C 142.730 527.128 141.967 526.811 141.171 526.811 C 140.375 526.811 139.612 527.128 139.050 527.690 C 138.487 528.253 138.171 529.016 138.171 529.811 C 138.171 530.607 138.487 531.370 139.050 531.933 C 139.612 532.495 140.375 532.811 141.171 532.811 z M 141.775 532.597 C 142.570 532.597 143.333 532.281 143.896 531.718 C 144.459 531.156 144.775 530.392 144.775 529.597 C 144.775 528.801 144.459 528.038 143.896 527.476 C 143.333 526.913 142.570 526.597 141.775 526.597 C 140.979 526.597 140.216 526.913 139.653 527.476 C 139.091 528.038 138.775 528.801 138.775 529.597 C 138.775 530.392 139.091 531.156 139.653 531.718 C 140.216 532.281 140.979 532.597 141.775 532.597 z M 142.377 532.380 C 143.173 532.380 143.936 532.064 144.499 531.501 C 145.061 530.939 145.377 530.176 145.377 529.380 C 145.377 528.584 145.061 527.821 144.499 527.259 C 143.936 526.696 143.173 526.380 142.377 526.380 C 141.582 526.380 140.819 526.696 140.256 527.259 C 139.693 527.821 139.377 528.584 139.377 529.380 C 139.377 530.176 139.693 530.939 140.256 531.501 C 140.819 532.064 141.582 532.380 142.377 532.380 z M 142.979 532.159 C 143.774 532.159 144.537 531.843 145.100 531.280 C 145.663 530.718 145.979 529.954 145.979 529.159 C 145.979 528.363 145.663 527.600 145.100 527.038 C 144.537 526.475 143.774 526.159 142.979 526.159 C 142.183 526.159 141.420 526.475 140.857 527.038 C 140.295 527.600 139.979 528.363 139.979 529.159 C 139.979 529.954 140.295 530.718 140.857 531.280 C 141.420 531.843 142.183 532.159 142.979 532.159 z M 143.578 531.932 C 144.373 531.932 145.136 531.616 145.699 531.053 C 146.262 530.491 146.578 529.727 146.578 528.932 C 146.578 528.136 146.262 527.373 145.699 526.810 C 145.136 526.248 144.373 525.932 143.578 525.932 C 142.782 525.932 142.019 526.248 141.456 526.810 C 140.894 527.373 140.578 528.136 140.578 528.932 C 140.578 529.727 140.894 530.491 141.456 531.053 C 142.019 531.616 142.782 531.932 143.578 531.932 z M 144.174 531.698 C 144.970 531.698 145.733 531.382 146.296 530.820 C 146.858 530.257 147.174 529.494 147.174 528.698 C 147.174 527.903 146.858 527.140 146.296 526.577 C 145.733 526.015 144.970 525.698 144.174 525.698 C 143.379 525.698 142.615 526.015 142.053 526.577 C 141.490 527.140 141.174 527.903 141.174 528.698 C 141.174 529.494 141.490 530.257 142.053 530.820 C 142.615 531.382 143.379 531.698 144.174 531.698 z M 144.769 531.461 C 145.565 531.461 146.328 531.145 146.890 530.582 C 147.453 530.019 147.769 529.256 147.769 528.461 C 147.769 527.665 147.453 526.902 146.890 526.339 C 146.328 525.777 145.565 525.461 144.769 525.461 C 143.973 525.461 143.210 525.777 142.648 526.339 C 142.085 526.902 141.769 527.665 141.769 528.461 C 141.769 529.256 142.085 530.019 142.648 530.582 C 143.210 531.145 143.973 531.461 144.769 531.461 z M 145.362 531.219 C 146.158 531.219 146.921 530.903 147.484 530.340 C 148.046 529.778 148.362 529.015 148.362 528.219 C 148.362 527.424 148.046 526.660 147.484 526.098 C 146.921 525.535 146.158 525.219 145.362 525.219 C 144.567 525.219 143.804 525.535 143.241 526.098 C 142.679 526.660 142.362 527.424 142.362 528.219 C 142.362 529.015 142.679 529.778 143.241 530.340 C 143.804 530.903 144.567 531.219 145.362 531.219 z M 145.954 530.974 C 146.750 530.974 147.513 530.658 148.076 530.096 C 148.638 529.533 148.954 528.770 148.954 527.974 C 148.954 527.179 148.638 526.416 148.076 525.853 C 147.513 525.291 146.750 524.974 145.954 524.974 C 145.159 524.974 144.396 525.291 143.833 525.853 C 143.271 526.416 142.954 527.179 142.954 527.974 C 142.954 528.770 143.271 529.533 143.833 530.096 C 144.396 530.658 145.159 530.974 145.954 530.974 z M 146.545 530.727 C 147.341 530.727 148.104 530.411 148.667 529.849 C 149.229 529.286 149.545 528.523 149.545 527.727 C 149.545 526.932 149.229 526.169 148.667 525.606 C 148.104 525.043 147.341 524.727 146.545 524.727 C 145.750 524.727 144.987 525.043 144.424 525.606 C 143.862 526.169 143.545 526.932 143.545 527.727 C 143.545 528.523 143.862 529.286 144.424 529.849 C 144.987 530.411 145.750 530.727 146.545 530.727 z M 147.727 529.818 C 148.523 529.818 149.286 529.502 149.849 528.940 C 150.411 528.377 150.727 527.614 150.727 526.818 C 150.727 526.023 150.411 525.259 149.849 524.697 C 149.286 524.134 148.523 523.818 147.727 523.818 C 146.932 523.818 146.169 524.134 145.606 524.697 C 145.043 525.259 144.727 526.023 144.727 526.818 C 144.727 527.614 145.043 528.377 145.606 528.940 C 146.169 529.502 146.932 529.818 147.727 529.818 z M 148.303 528.524 C 149.099 528.524 149.862 528.208 150.425 527.645 C 150.987 527.083 151.303 526.320 151.303 525.524 C 151.303 524.729 150.987 523.965 150.425 523.403 C 149.862 522.840 149.099 522.524 148.303 522.524 C 147.508 522.524 146.745 522.840 146.182 523.403 C 145.620 523.965 145.303 524.729 145.303 525.524 C 145.303 526.320 145.620 527.083 146.182 527.645 C 146.745 528.208 147.508 528.524 148.303 528.524 z M 148.711 527.169 C 149.507 527.169 150.270 526.853 150.833 526.290 C 151.395 525.727 151.711 524.964 151.711 524.169 C 151.711 523.373 151.395 522.610 150.833 522.047 C 150.270 521.485 149.507 521.169 148.711 521.169 C 147.916 521.169 147.153 521.485 146.590 522.047 C 146.028 522.610 145.711 523.373 145.711 524.169 C 145.711 524.964 146.028 525.727 146.590 526.290 C 147.153 526.853 147.916 527.169 148.711 527.169 z M 148.960 525.774 C 149.756 525.774 150.519 525.458 151.082 524.895 C 151.644 524.333 151.960 523.569 151.960 522.774 C 151.960 521.978 151.644 521.215 151.082 520.653 C 150.519 520.090 149.756 519.774 148.960 519.774 C 148.165 519.774 147.402 520.090 146.839 520.653 C 146.276 521.215 145.960 521.978 145.960 522.774 C 145.960 523.569 146.276 524.333 146.839 524.895 C 147.402 525.458 148.165 525.774 148.960 525.774 z M 149.091 524.364 C 149.887 524.364 150.650 524.048 151.212 523.485 C 151.775 522.922 152.091 522.159 152.091 521.364 C 152.091 520.568 151.775 519.805 151.212 519.242 C 150.650 518.680 149.887 518.364 149.091 518.364 C 148.295 518.364 147.532 518.680 146.970 519.242 C 146.407 519.805 146.091 520.568 146.091 521.364 C 146.091 522.159 146.407 522.922 146.970 523.485 C 147.532 524.048 148.295 524.364 149.091 524.364 z" style="fill-opacity: 0; stroke: #000000; stroke: #000000"/>
    </g>
   </g>
   <g id="line2d_62">
    <g>
    <path d="M 87.909 610.000 L 93.909 610.000 L 93.909 604.000 L 87.909 604.000 z M 92.915 608.413 L 98.915 608.413 L 98.915 602.413 L 92.915 602.413 z M 96.535 607.791 L 102.535 607.791 L 102.535 601.791 L 96.535 601.791 z M 99.990 607.275 L 105.990 607.275 L 105.990 601.275 L 99.990 601.275 z M 103.193 606.328 L 109.193 606.328 L 109.193 600.328 L 103.193 600.328 z M 106.102 605.086 L 112.102 605.086 L 112.102 599.086 L 106.102 599.086 z M 107.635 604.277 L 113.635 604.277 L 113.635 598.277 L 107.635 598.277 z M 108.998 603.466 L 114.998 603.466 L 114.998 597.466 L 108.998 597.466 z M 110.113 602.742 L 116.113 602.742 L 116.113 596.742 L 110.113 596.742 z M 111.192 601.966 L 117.192 601.966 L 117.192 595.966 L 111.192 595.966 z M 112.245 601.154 L 118.245 601.154 L 118.245 595.154 L 112.245 595.154 z M 113.290 600.331 L 119.290 600.331 L 119.290 594.331 L 113.290 594.331 z M 114.331 599.504 L 120.331 599.504 L 120.331 593.504 L 114.331 593.504 z M 115.361 598.663 L 121.361 598.663 L 121.361 592.663 L 115.361 592.663 z M 116.378 597.806 L 122.378 597.806 L 122.378 591.806 L 116.378 591.806 z M 118.997 595.457 L 124.997 595.457 L 124.997 589.457 L 118.997 589.457 z M 121.733 593.540 L 127.733 593.540 L 127.733 587.540 L 121.733 587.540 z M 124.911 589.816 L 130.911 589.816 L 130.911 583.816 L 124.911 583.816 z M 125.892 588.777 L 131.892 588.777 L 131.892 582.777 L 125.892 582.777 z M 126.900 587.765 L 132.900 587.765 L 132.900 581.765 L 126.900 581.765 z M 127.920 586.766 L 133.920 586.766 L 133.920 580.766 L 127.920 580.766 z M 128.939 585.765 L 134.939 585.765 L 134.939 579.765 L 128.939 579.765 z M 129.942 584.748 L 135.942 584.748 L 135.942 578.748 L 129.942 578.748 z M 130.915 583.703 L 136.915 583.703 L 136.915 577.703 L 130.915 577.703 z M 132.813 581.559 L 138.813 581.559 L 138.813 575.559 L 132.813 575.559 z M 134.642 578.993 L 140.642 578.993 L 140.642 572.993 L 134.642 572.993 z M 135.824 577.083 L 141.824 577.083 L 141.824 571.083 L 135.824 571.083 z M 136.635 575.988 L 142.635 575.988 L 142.635 569.988 L 136.635 569.988 z M 137.486 574.924 L 143.486 574.924 L 143.486 568.924 L 137.486 568.924 z M 138.362 573.881 L 144.362 573.881 L 144.362 567.881 L 138.362 567.881 z M 139.247 572.845 L 145.247 572.845 L 145.247 566.845 L 139.247 566.845 z M 140.126 571.804 L 146.126 571.804 L 146.126 565.804 L 140.126 565.804 z M 140.987 570.748 L 146.987 570.748 L 146.987 564.748 L 140.987 564.748 z M 141.841 569.687 L 147.841 569.687 L 147.841 563.687 L 141.841 563.687 z M 142.694 568.625 L 148.694 568.625 L 148.694 562.625 L 142.694 562.625 z M 143.546 567.562 L 149.546 567.562 L 149.546 561.562 L 143.546 561.562 z M 144.396 566.497 L 150.396 566.497 L 150.396 560.497 L 144.396 560.497 z M 145.244 565.431 L 151.244 565.431 L 151.244 559.431 L 145.244 559.431 z M 146.091 564.364 L 152.091 564.364 L 152.091 558.364 L 146.091 558.364 z" style="fill-opacity: 0; stroke: #000000; stroke-linejoin: miter; stroke: #000000; stroke-linejoin: miter"/>
    </g>
   </g>
   <g id="patch_28">
    <path d="M 43.272727 612 
L 43.272727 518.181818 
" style="fill: none; stroke: #000000; stroke-width: 0.8; stroke-linejoin: miter; stroke-linecap: square"/>
   </g>
   <g id="patch_29">
    <path d="M 149.363636 612 
L 149.363636 518.181818 
" style="fill: none; stroke: #000000; stroke-width: 0.8; stroke-linejoin: miter; stroke-linecap: square"/>
   </g>
   <g id="patch_30">
    <path d="M 43.272727 612 
L 149.363636 612 
" style="fill: none; stroke: #000000; stroke-width: 0.8; stroke-linejoin: miter; stroke-linecap: square"/>
   </g>
   <g id="patch_31">
    <path d="M 43.272727 518.181818 
L 149.363636 518.181818 
" style="fill: none; stroke: #000000; stroke-width: 0.8; stroke-linejoin: miter; stroke-linecap: square"/>
   </g>
   <g id="line2d_63">
    <path d="M 49.818182 599.818182 
L 57.400787 599.070758 
L 67.857145 597.789008 
L 71.846759 597.181975 
L 74.017795 596.656425 
L 75.916594 595.938188 
L 77.301682 595.194757 
L 78.379867 594.356999 
L 79.05674 593.568129 
L 79.851146 592.28863 
L 80.718757 590.437911 
L 82.858568 585.621853 
L 87.450841 576.399443 
L 93.279648 565.786392 
L 95.227713 562.523787 
L 97.273776 559.582106 
L 99.632411 556.585666 
L 101.865136 554.079293 
L 105.341563 550.575744 
L 109.740552 546.336377 
L 111.96967 544.484335 
L 114.12832 542.982635 
L 116.98237 541.288108 
L 120.577104 539.432711 
L 125.719987 537.063484 
L 132.11743 534.334175 
L 142.340252 530.320165 
L 145.245036 529.05757 
L 146.744816 528.29341 
L 147.496265 527.654564 
L 147.808736 527.06135 
L 148.181651 525.716318 
L 148.414267 524.048856 
L 148.454545 523 
L 148.454545 523 
" clip-path="url(#padb9850236)" style="fill: none; stroke: #ff4500; stroke-width: 1.5; stroke-linecap: square"/>
   </g>
   <g id="line2d_64">
    <path d="M 90.636364 607.727273 
L 94.125149 607.362579 
L 98.207026 606.70576 
L 102.50224 605.802511 
L 105.765498 604.863691 
L 108.784348 603.762653 
L 110.621501 602.903179 
L 112.619705 601.704371 
L 115.838317 599.461686 
L 120.332411 596.144693 
L 122.125518 594.513812 
L 123.835585 592.630366 
L 125.817478 590.08753 
L 132.517725 581.131155 
L 135.665565 577.689179 
L 141.092912 571.777116 
L 143.25099 569.060787 
L 145.625956 565.685641 
L 148.121392 561.739428 
L 148.454545 561.181818 
L 148.454545 561.181818 
" clip-path="url(#padb9850236)" style="fill: none; stroke: #ff4500; stroke-width: 1.5; stroke-linecap: square"/>
   </g>
  </g>
  <g id="axes_7">
   <g id="patch_32">
    <path d="M 159.727273 302.272727 
L 498.545455 302.272727 
L 498.545455 1.818182 
L 159.727273 1.818182 
z
" style="fill: #ffffff"/>
   </g>
   <g id="matplotlib.axis_13">
    <g id="xtick_19">
     <g id="line2d_65">
      <g>
    <path d="M 159.727 302.273 L 159.727 305.773" style="stroke: #000000; stroke-width: 0.8; stroke: #000000; stroke-width: 0.8"/>
      </g>
     </g>
    </g>
    <g id="xtick_20">
     <g id="line2d_66">
      <g>
    <path d="M 244.432 302.273 L 244.432 305.773" style="stroke: #000000; stroke-width: 0.8; stroke: #000000; stroke-width: 0.8"/>
      </g>
     </g>
    </g>
    <g id="xtick_21">
     <g id="line2d_67">
      <g>
    <path d="M 329.136 302.273 L 329.136 305.773" style="stroke: #000000; stroke-width: 0.8; stroke: #000000; stroke-width: 0.8"/>
      </g>
     </g>
    </g>
    <g id="xtick_22">
     <g id="line2d_68">
      <g>
    <path d="M 413.841 302.273 L 413.841 305.773" style="stroke: #000000; stroke-width: 0.8; stroke: #000000; stroke-width: 0.8"/>
      </g>
     </g>
    </g>
    <g id="xtick_23">
     <g id="line2d_69">
      <g>
    <path d="M 498.545 302.273 L 498.545 305.773" style="stroke: #000000; stroke-width: 0.8; stroke: #000000; stroke-width: 0.8"/>
      </g>
     </g>
    </g>
   </g>
   <g id="matplotlib.axis_14">
    <g id="ytick_23">
     <g id="line2d_70">
      <g>
    <path d="M 498.545 302.273 L 502.045 302.273" style="stroke: #000000; stroke-width: 0.8; stroke: #000000; stroke-width: 0.8"/>
      </g>
     </g>
     <g id="text_26">
      <text style="font-size: 10px; font-family: 'DejaVu Sans', 'Noto Sans CJK SC', sans-serif; text-anchor: start" x="506.345455" y="306.071946" transform="rotate(-0 506.345455 306.071946)">0.00</text>
     </g>
    </g>
    <g id="ytick_24">
     <g id="line2d_71">
      <g>
    <path d="M 498.545 227.159 L 502.045 227.159" style="stroke: #000000; stroke-width: 0.8; stroke: #000000; stroke-width: 0.8"/>
      </g>
     </g>
     <g id="text_27">
      <text style="font-size: 10px; font-family: 'DejaVu Sans', 'Noto Sans CJK SC', sans-serif; text-anchor: start" x="506.345455" y="230.95831" transform="rotate(-0 506.345455 230.95831)">0.05</text>
     </g>
    </g>
    <g id="ytick_25">
     <g id="line2d_72">
      <g>
    <path d="M 498.545 152.045 L 502.045 152.045" style="stroke: #000000; stroke-width: 0.8; stroke: #000000; stroke-width: 0.8"/>
      </g>
     </g>
     <g id="text_28">
      <text style="font-size: 10px; font-family: 'DejaVu Sans', 'Noto Sans CJK SC', sans-serif; text-anchor: start" x="506.345455" y="155.844673" transform="rotate(-0 506.345455 155.844673)">0.10</text>
     </g>
    </g>
    <g id="ytick_26">
     <g id="line2d_73">
      <g>
    <path d="M 498.545 76.932 L 502.045 76.932" style="stroke: #000000; stroke-width: 0.8; stroke: #000000; stroke-width: 0.8"/>
      </g>
     </g>
     <g id="text_29">
      <text style="font-size: 10px; font-family: 'DejaVu Sans', 'Noto Sans CJK SC', sans-serif; text-anchor: start" x="506.345455" y="80.731037" transform="rotate(-0 506.345455 80.731037)">0.15</text>
     </g>
    </g>
   </g>
   <g id="line2d_74">
    <path d="M 210.595206 302.272726 
L 211.368227 302.173561 
L 211.561482 301.900436 
L 211.947992 300.395349 
L 212.527758 296.044034 
L 213.300779 288.09995 
L 213.880544 278.972698 
L 215.813096 244.252582 
L 219.484945 189.318277 
L 220.644476 172.25931 
L 221.417497 164.105791 
L 223.350049 147.41509 
L 224.12307 142.217971 
L 224.702836 139.319908 
L 225.282601 137.504094 
L 225.669112 136.991902 
L 225.862367 136.956969 
L 226.055622 137.060974 
L 226.442132 137.645734 
L 226.828643 138.68282 
L 227.408408 140.971284 
L 228.181429 145.116251 
L 229.34096 152.82837 
L 231.853278 169.94929 
L 233.592575 182.026244 
L 235.525127 196.960884 
L 237.650934 215.139099 
L 238.61721 225.005669 
L 239.969996 238.796323 
L 241.709293 252.494704 
L 242.868824 260.053783 
L 243.641845 263.880056 
L 244.414866 266.558495 
L 245.381142 268.952492 
L 246.733928 272.228677 
L 248.086715 276.450507 
L 249.439501 280.575289 
L 250.212522 282.377966 
L 250.985543 283.557517 
L 252.918095 285.850981 
L 254.464136 287.353603 
L 255.623668 288.21343 
L 256.783199 288.791573 
L 257.749475 289.023965 
L 258.715751 289.008045 
L 259.682027 288.772144 
L 260.841558 288.260973 
L 262.3876 287.315075 
L 269.924552 282.055429 
L 274.755932 278.428167 
L 276.688484 277.260985 
L 283.065906 274.047277 
L 285.771479 272.880234 
L 287.897286 272.179026 
L 289.829838 271.768966 
L 291.569135 271.628747 
L 293.308432 271.713701 
L 295.240984 272.020135 
L 297.560046 272.624346 
L 300.458874 273.636989 
L 306.643041 276.135597 
L 308.768848 277.127435 
L 311.474421 278.65182 
L 316.112545 281.587669 
L 319.977649 283.934064 
L 322.683222 285.31037 
L 329.253899 288.29112 
L 335.051555 290.684232 
L 340.462701 292.678141 
L 345.487336 294.296235 
L 353.604054 296.666785 
L 358.048924 297.735712 
L 361.720773 298.404255 
L 367.518429 299.155871 
L 375.441892 299.995104 
L 382.592334 300.531784 
L 389.356266 300.813115 
L 404.043662 301.126087 
L 426.847775 301.348034 
L 475.934596 301.635157 
L 498.545455 301.671817 
L 498.545455 301.671817 
" clip-path="url(#p146d4e943f)" style="fill: none; stroke: #1e90ff; stroke-width: 1.5; stroke-linecap: square"/>
   </g>
   <g id="line2d_75">
    <path d="M 210.595206 302.272727 
L 211.368227 302.175643 
L 211.561482 301.907863 
L 211.947992 300.426868 
L 212.527758 296.102836 
L 213.300779 288.171071 
L 213.880544 279.395512 
L 214.653565 263.420668 
L 215.426586 242.740464 
L 218.518669 139.522112 
L 219.098435 127.581077 
L 220.257966 110.845461 
L 221.224242 99.239202 
L 221.997263 92.195456 
L 222.577028 88.603984 
L 222.963539 87.152113 
L 223.350049 86.532252 
L 223.543304 86.537348 
L 223.73656 86.736661 
L 224.12307 87.667077 
L 224.50958 89.24976 
L 225.089346 92.71461 
L 225.862367 99.055276 
L 226.828643 109.071051 
L 228.374684 127.977379 
L 228.95445 138.396408 
L 230.307236 165.88063 
L 230.887002 172.455679 
L 232.046533 184.300269 
L 235.331872 222.637667 
L 239.583486 262.781252 
L 240.163252 265.411289 
L 241.322783 268.700231 
L 242.289059 270.831079 
L 243.06208 272.055169 
L 243.641845 272.649447 
L 244.221611 272.933215 
L 244.608121 272.89622 
L 244.994632 272.570149 
L 245.381142 271.939869 
L 245.960908 270.504001 
L 246.733928 267.878944 
L 248.086715 262.207831 
L 249.632756 255.894104 
L 253.884371 240.54178 
L 255.623668 233.247663 
L 257.55622 224.067512 
L 258.715751 217.694244 
L 261.614579 199.881319 
L 262.194344 197.674835 
L 263.740386 193.246801 
L 265.866193 187.744171 
L 267.60549 183.833318 
L 269.151532 180.899636 
L 270.504318 178.815052 
L 271.663849 177.42785 
L 272.630125 176.578531 
L 273.596401 176.028156 
L 274.369422 175.815774 
L 275.142443 175.808523 
L 276.108719 176.039002 
L 277.074995 176.499445 
L 278.234526 177.313584 
L 279.587312 178.559077 
L 281.326609 180.502495 
L 284.032182 183.919089 
L 284.998458 185.417078 
L 286.157989 187.679978 
L 287.704031 191.287279 
L 290.216348 197.885033 
L 296.20726 214.194359 
L 298.719577 221.891001 
L 303.937468 238.546935 
L 307.416061 248.285548 
L 315.91929 271.425638 
L 318.238353 277.267423 
L 319.591139 280.075956 
L 321.137181 282.661166 
L 323.069733 285.465324 
L 324.809029 287.622643 
L 326.548326 289.456801 
L 329.833665 292.479175 
L 331.959472 294.156728 
L 333.698769 295.265038 
L 335.24481 295.992164 
L 338.143638 296.956363 
L 341.815487 297.989612 
L 344.714315 298.586148 
L 347.226633 298.892311 
L 349.73895 298.965436 
L 354.763585 298.819134 
L 367.904939 298.079854 
L 409.454807 296.015011 
L 416.218739 295.975014 
L 424.142202 296.162973 
L 434.191473 296.639689 
L 475.35483 298.848705 
L 498.545455 300.015478 
L 498.545455 300.015478 
" clip-path="url(#p146d4e943f)" style="fill: none; stroke-dasharray: 5.735,2.48; stroke-dashoffset: 0; stroke: #8a2be2; stroke-width: 1.55"/>
   </g>
   <g id="line2d_76">
    <path d="M 210.595206 302.272726 
L 211.368227 302.173561 
L 211.561482 301.900436 
L 211.947992 300.395349 
L 212.527758 296.044053 
L 213.300779 288.197045 
L 213.880544 279.555956 
L 215.040076 257.076913 
L 217.165883 213.241107 
L 219.29169 166.971185 
L 220.451221 152.268419 
L 221.417497 141.926788 
L 222.190518 135.908165 
L 222.770284 133.241082 
L 223.156794 132.513151 
L 223.350049 132.445758 
L 223.73656 132.686922 
L 224.12307 133.264456 
L 224.702836 134.623872 
L 225.475856 137.106362 
L 226.828643 142.317541 
L 227.601664 146.210697 
L 228.56794 152.487983 
L 230.113981 164.474922 
L 231.080257 173.256324 
L 232.433044 188.415106 
L 234.365596 210.207479 
L 235.331872 218.66568 
L 237.650934 235.464572 
L 238.2307 238.829753 
L 239.00372 241.37681 
L 240.163252 244.442545 
L 241.129528 246.410841 
L 241.902548 247.525922 
L 242.482314 248.058837 
L 243.06208 248.30726 
L 243.641845 248.290202 
L 244.414866 247.990879 
L 245.187887 247.426584 
L 246.154163 246.399191 
L 247.313694 244.77951 
L 248.66648 242.497287 
L 249.246246 241.313671 
L 249.826012 239.528972 
L 250.792288 235.450725 
L 252.338329 228.699736 
L 256.010178 214.877882 
L 257.362964 207.848763 
L 260.455048 191.216336 
L 261.421324 187.235486 
L 262.194344 184.876454 
L 264.320152 179.829176 
L 266.445959 175.248496 
L 268.185256 172.002234 
L 269.538042 169.880699 
L 270.890828 168.180095 
L 272.05036 167.104534 
L 273.016636 166.507535 
L 273.789656 166.242138 
L 274.562677 166.17642 
L 275.528953 166.355481 
L 276.495229 166.790572 
L 277.461505 167.45476 
L 278.621036 168.516426 
L 279.973823 170.06134 
L 281.71312 172.419056 
L 284.225437 176.265658 
L 287.124265 181.023437 
L 288.477052 183.889162 
L 290.409604 188.629404 
L 295.820749 202.857292 
L 302.198171 220.282988 
L 313.793483 250.805359 
L 317.658587 260.142003 
L 319.591139 264.26588 
L 322.103457 268.993254 
L 324.229264 272.592773 
L 325.968561 275.15712 
L 328.094368 277.837779 
L 330.606685 280.700126 
L 332.732493 282.797951 
L 334.471789 284.235029 
L 336.211086 285.390489 
L 338.916659 286.905082 
L 341.815487 288.279822 
L 345.294081 289.67403 
L 349.932205 291.265972 
L 353.797309 292.367479 
L 361.914028 294.330902 
L 365.199366 294.956535 
L 367.518429 295.189299 
L 371.963298 295.289562 
L 382.978845 295.362273 
L 401.724599 295.470277 
L 414.479442 295.967973 
L 432.258921 296.733993 
L 498.545455 300.015498 
L 498.545455 300.015498 
" clip-path="url(#p146d4e943f)" style="fill: none; stroke-dasharray: 2.55,4.2075; stroke-dashoffset: 0; stroke: #ff4500; stroke-width: 2.55"/>
   </g>
   <g id="patch_33">
    <path d="M 159.727273 302.272727 
L 159.727273 1.818182 
" style="fill: none; stroke: #000000; stroke-width: 0.8; stroke-linejoin: miter; stroke-linecap: square"/>
   </g>
   <g id="patch_34">
    <path d="M 498.545455 302.272727 
L 498.545455 1.818182 
" style="fill: none; stroke: #000000; stroke-width: 0.8; stroke-linejoin: miter; stroke-linecap: square"/>
   </g>
   <g id="patch_35">
    <path d="M 159.727273 302.272727 
L 498.545455 302.272727 
" style="fill: none; stroke: #000000; stroke-width: 0.8; stroke-linejoin: miter; stroke-linecap: square"/>
   </g>
   <g id="patch_36">
    <path d="M 159.727273 1.818182 
L 498.545455 1.818182 
" style="fill: none; stroke: #000000; stroke-width: 0.8; stroke-linejoin: miter; stroke-linecap: square"/>
   </g>
  </g>
  <g id="axes_8">
   <g id="patch_37">
    <path d="M 159.727273 611.818182 
L 498.545455 611.818182 
L 498.545455 311.818182 
L 159.727273 311.818182 
z
" style="fill: #ffffff"/>
   </g>
   <g id="matplotlib.axis_15">
    <g id="xtick_24">
     <g id="line2d_77">
      <g>
    <path d="M 159.727 611.818 L 159.727 615.318" style="stroke: #000000; stroke-width: 0.8; stroke: #000000; stroke-width: 0.8"/>
      </g>
     </g>
     <g id="text_30">
      <text style="font-size: 10px; font-family: 'DejaVu Sans', 'Noto Sans CJK SC', sans-serif; text-anchor: middle" x="159.727273" y="627.216619" transform="rotate(-0 159.727273 627.216619)">0</text>
     </g>
    </g>
    <g id="xtick_25">
     <g id="line2d_78">
      <g>
    <path d="M 244.432 611.818 L 244.432 615.318" style="stroke: #000000; stroke-width: 0.8; stroke: #000000; stroke-width: 0.8"/>
      </g>
     </g>
     <g id="text_31">
      <text style="font-size: 10px; font-family: 'DejaVu Sans', 'Noto Sans CJK SC', sans-serif; text-anchor: middle" x="244.431818" y="627.216619" transform="rotate(-0 244.431818 627.216619)">5</text>
     </g>
    </g>
    <g id="xtick_26">
     <g id="line2d_79">
      <g>
    <path d="M 329.136 611.818 L 329.136 615.318" style="stroke: #000000; stroke-width: 0.8; stroke: #000000; stroke-width: 0.8"/>
      </g>
     </g>
     <g id="text_32">
      <text style="font-size: 10px; font-family: 'DejaVu Sans', 'Noto Sans CJK SC', sans-serif; text-anchor: middle" x="329.136364" y="627.216619" transform="rotate(-0 329.136364 627.216619)">10</text>
     </g>
    </g>
    <g id="xtick_27">
     <g id="line2d_80">
      <g>
    <path d="M 413.841 611.818 L 413.841 615.318" style="stroke: #000000; stroke-width: 0.8; stroke: #000000; stroke-width: 0.8"/>
      </g>
     </g>
     <g id="text_33">
      <text style="font-size: 10px; font-family: 'DejaVu Sans', 'Noto Sans CJK SC', sans-serif; text-anchor: middle" x="413.840909" y="627.216619" transform="rotate(-0 413.840909 627.216619)">15</text>
     </g>
    </g>
    <g id="xtick_28">
     <g id="line2d_81">
      <g>
    <path d="M 498.545 611.818 L 498.545 615.318" style="stroke: #000000; stroke-width: 0.8; stroke: #000000; stroke-width: 0.8"/>
      </g>
     </g>
     <g id="text_34">
      <text style="font-size: 10px; font-family: 'DejaVu Sans', 'Noto Sans CJK SC', sans-serif; text-anchor: middle" x="498.545455" y="627.216619" transform="rotate(-0 498.545455 627.216619)">20</text>
     </g>
    </g>
   </g>
   <g id="matplotlib.axis_16">
    <g id="ytick_27">
     <g id="line2d_82">
      <g>
    <path d="M 498.545 611.818 L 502.045 611.818" style="stroke: #000000; stroke-width: 0.8; stroke: #000000; stroke-width: 0.8"/>
      </g>
     </g>
     <g id="text_35">
      <text style="font-size: 10px; font-family: 'DejaVu Sans', 'Noto Sans CJK SC', sans-serif; text-anchor: start" x="506.345455" y="615.617401" transform="rotate(-0 506.345455 615.617401)">0.00</text>
     </g>
    </g>
    <g id="ytick_28">
     <g id="line2d_83">
      <g>
    <path d="M 498.545 536.818 L 502.045 536.818" style="stroke: #000000; stroke-width: 0.8; stroke: #000000; stroke-width: 0.8"/>
      </g>
     </g>
     <g id="text_36">
      <text style="font-size: 10px; font-family: 'DejaVu Sans', 'Noto Sans CJK SC', sans-serif; text-anchor: start" x="506.345455" y="540.617401" transform="rotate(-0 506.345455 540.617401)">0.05</text>
     </g>
    </g>
    <g id="ytick_29">
     <g id="line2d_84">
      <g>
    <path d="M 498.545 461.818 L 502.045 461.818" style="stroke: #000000; stroke-width: 0.8; stroke: #000000; stroke-width: 0.8"/>
      </g>
     </g>
     <g id="text_37">
      <text style="font-size: 10px; font-family: 'DejaVu Sans', 'Noto Sans CJK SC', sans-serif; text-anchor: start" x="506.345455" y="465.617401" transform="rotate(-0 506.345455 465.617401)">0.10</text>
     </g>
    </g>
    <g id="ytick_30">
     <g id="line2d_85">
      <g>
    <path d="M 498.545 386.818 L 502.045 386.818" style="stroke: #000000; stroke-width: 0.8; stroke: #000000; stroke-width: 0.8"/>
      </g>
     </g>
     <g id="text_38">
      <text style="font-size: 10px; font-family: 'DejaVu Sans', 'Noto Sans CJK SC', sans-serif; text-anchor: start" x="506.345455" y="390.617401" transform="rotate(-0 506.345455 390.617401)">0.15</text>
     </g>
    </g>
   </g>
   <g id="line2d_86">
    <path d="M 210.595206 611.818153 
L 211.174971 611.753368 
L 211.368227 611.560858 
L 211.561482 611.127594 
L 211.947992 609.437385 
L 212.527758 605.325952 
L 213.300779 598.247525 
L 213.880544 590.573205 
L 214.84682 573.188509 
L 216.199607 545.150418 
L 217.165883 524.722168 
L 217.938904 513.428863 
L 219.098435 499.898232 
L 222.770284 462.295014 
L 223.156794 460.124272 
L 223.543304 459.263949 
L 223.73656 459.252636 
L 224.12307 459.68466 
L 224.50958 460.539637 
L 225.089346 462.49391 
L 225.862367 466.122172 
L 227.021898 473.03969 
L 229.34096 488.604914 
L 230.500492 498.653626 
L 234.17234 532.280614 
L 235.718382 544.705708 
L 236.684658 550.601064 
L 237.844189 556.342768 
L 238.810465 560.217099 
L 239.969996 563.908912 
L 241.129528 566.915373 
L 242.095804 568.82382 
L 244.221611 572.254702 
L 244.994632 573.170587 
L 245.574397 573.629989 
L 246.154163 573.842292 
L 246.733928 573.814863 
L 247.506949 573.541365 
L 248.473225 572.907438 
L 249.632756 571.83829 
L 254.464136 566.667301 
L 259.102261 561.515887 
L 262.77411 558.45531 
L 263.740386 557.977341 
L 264.513407 557.827178 
L 265.479683 557.892181 
L 266.639214 558.17544 
L 267.992 558.730711 
L 269.731297 559.702285 
L 273.016636 561.876997 
L 274.755932 563.155708 
L 276.495229 564.74134 
L 278.814292 567.18445 
L 285.384968 574.644318 
L 298.139812 589.775666 
L 300.652129 592.402122 
L 302.777937 594.305355 
L 306.063275 596.909365 
L 308.768848 598.788775 
L 311.281165 600.268788 
L 314.373249 601.782326 
L 317.465332 603.084162 
L 320.170905 603.998782 
L 323.262988 604.787147 
L 328.867389 606.013914 
L 333.698769 606.856324 
L 338.143638 607.411726 
L 342.588508 607.73558 
L 350.898481 608.09438 
L 391.675329 609.370154 
L 420.083843 609.767549 
L 489.848971 610.789266 
L 498.545455 610.917074 
L 498.545455 610.917074 
" clip-path="url(#p9b6139eeda)" style="fill: none; stroke: #1e90ff; stroke-width: 1.5; stroke-linecap: square"/>
   </g>
   <g id="line2d_87">
    <path d="M 210.595206 611.818045 
L 210.981716 611.773079 
L 211.174971 611.525753 
L 211.368227 610.693093 
L 211.754737 606.249635 
L 212.334503 594.868662 
L 212.914268 577.928792 
L 215.233331 500.400164 
L 217.359138 405.924084 
L 218.325414 374.027443 
L 219.484945 347.477816 
L 220.064711 337.356401 
L 220.451221 333.112821 
L 220.644476 331.9719 
L 220.837732 331.522104 
L 221.030987 331.694143 
L 221.224242 332.381037 
L 221.610752 335.016061 
L 222.190518 341.496864 
L 222.963539 353.259047 
L 224.316325 377.087788 
L 225.282601 400.023495 
L 229.147705 503.358105 
L 230.113981 528.523249 
L 231.273512 552.773709 
L 232.239788 567.833478 
L 233.206064 579.675231 
L 233.979085 587.004844 
L 235.138616 595.48286 
L 236.104892 601.114117 
L 237.264424 606.474165 
L 238.2307 610.376247 
L 238.61721 611.349885 
L 239.00372 611.763521 
L 239.583486 611.818151 
L 261.421324 611.782517 
L 261.807834 611.553967 
L 262.194344 611.055317 
L 262.967365 609.539137 
L 264.706662 605.545436 
L 265.866193 602.182306 
L 267.21898 597.586368 
L 268.378511 592.911192 
L 269.731297 586.264438 
L 272.82338 569.418621 
L 274.755932 557.711786 
L 276.301974 546.916897 
L 278.427781 529.992254 
L 280.940099 508.691961 
L 282.679396 494.289324 
L 284.032182 485.056197 
L 286.351244 469.723504 
L 288.863562 451.663811 
L 290.216348 440.744018 
L 291.37588 429.149027 
L 292.535411 417.943275 
L 293.308432 412.561529 
L 295.047728 403.608359 
L 296.400515 397.649451 
L 297.366791 394.323579 
L 298.139812 392.408775 
L 298.719577 391.489851 
L 299.106088 391.152645 
L 299.492598 391.044151 
L 299.879108 391.122904 
L 300.458874 391.504972 
L 301.03864 392.17382 
L 301.811661 393.471427 
L 302.777937 395.668132 
L 303.937468 399.004983 
L 305.290254 403.629157 
L 307.416061 411.808159 
L 308.189082 415.26627 
L 308.962103 419.782357 
L 310.121634 427.96986 
L 313.213717 450.582854 
L 316.885566 476.858868 
L 318.818118 492.220431 
L 321.910201 517.085122 
L 324.422519 535.1224 
L 327.128092 552.717009 
L 328.674133 561.543792 
L 330.02692 567.827742 
L 331.766217 574.967648 
L 333.312258 580.445719 
L 334.665045 584.492576 
L 336.211086 588.382739 
L 337.950383 592.213719 
L 339.882935 595.924717 
L 342.008742 599.503747 
L 346.067101 605.732495 
L 347.613143 607.775081 
L 348.965929 609.20078 
L 349.932205 609.943454 
L 351.284992 610.653618 
L 352.637778 611.18281 
L 353.604054 611.358901 
L 357.662413 611.49723 
L 367.518429 611.652951 
L 375.248637 611.598881 
L 379.500251 611.269017 
L 389.936032 610.364521 
L 406.94249 609.256283 
L 416.798505 608.81884 
L 423.562437 608.949188 
L 435.157749 609.438606 
L 444.047488 610.089835 
L 452.357462 610.620752 
L 464.725794 611.048291 
L 482.891783 611.288653 
L 498.545455 611.368174 
L 498.545455 611.368174 
" clip-path="url(#p9b6139eeda)" style="fill: none; stroke-dasharray: 5.735,2.48; stroke-dashoffset: 0; stroke: #8a2be2; stroke-width: 1.55"/>
   </g>
   <g id="line2d_88">
    <path d="M 210.595206 611.818146 
L 211.174971 611.737563 
L 211.368227 611.498482 
L 211.561482 610.961514 
L 211.947992 608.877303 
L 212.527758 603.867116 
L 213.107524 597.105088 
L 213.687289 586.102497 
L 215.813096 533.901722 
L 216.586117 510.028779 
L 218.132159 451.079135 
L 218.711924 432.220055 
L 219.29169 423.214116 
L 220.257966 412.928875 
L 221.030987 407.114208 
L 221.610752 404.338197 
L 221.997263 403.306388 
L 222.383773 402.975452 
L 222.577028 403.09113 
L 222.963539 403.891892 
L 223.350049 405.385683 
L 223.929815 408.702917 
L 224.702836 414.593351 
L 226.635388 431.841783 
L 227.601664 441.957339 
L 228.761195 456.410465 
L 230.307236 478.569344 
L 231.273512 496.355923 
L 232.433044 518.052897 
L 233.206064 528.323889 
L 234.365596 540.175386 
L 237.650934 569.965279 
L 239.00372 579.485061 
L 240.356507 587.768078 
L 241.129528 591.436069 
L 241.902548 594.032409 
L 243.44859 598.214983 
L 244.608121 600.743542 
L 245.381142 601.973348 
L 245.960908 602.59298 
L 246.540673 602.910654 
L 246.927184 602.918227 
L 247.313694 602.695107 
L 247.700204 602.231885 
L 248.27997 601.159019 
L 249.052991 599.210691 
L 253.11135 587.345165 
L 254.850647 581.510424 
L 256.589944 574.864528 
L 257.362964 571.312119 
L 259.295516 561.471342 
L 260.068537 559.028421 
L 261.228068 556.210698 
L 262.967365 552.211641 
L 263.740386 549.909701 
L 264.706662 546.28202 
L 266.059448 540.227343 
L 268.958276 526.89491 
L 270.504318 521.223696 
L 272.82338 513.622826 
L 279.007547 494.593022 
L 281.519864 487.495081 
L 285.771479 476.451349 
L 286.737755 474.767941 
L 287.704031 473.637816 
L 289.829838 471.527014 
L 291.37588 470.31004 
L 292.535411 469.650341 
L 293.694942 469.260469 
L 294.661218 469.175122 
L 295.627494 469.308503 
L 296.787025 469.721566 
L 297.946556 470.375356 
L 299.299343 471.392662 
L 301.03864 473.012367 
L 302.584681 474.739801 
L 303.357702 476.13164 
L 304.710489 479.252552 
L 307.029551 484.955851 
L 308.768848 489.920729 
L 311.08791 497.343795 
L 323.456243 538.008661 
L 326.934837 548.760333 
L 329.060644 554.605786 
L 331.379706 560.248187 
L 334.085279 566.232775 
L 338.723404 575.801964 
L 342.008742 582.320474 
L 343.941294 585.675237 
L 345.487336 587.93089 
L 347.226633 590.027644 
L 349.159185 592.004032 
L 351.671502 594.25141 
L 354.18382 596.210735 
L 356.696137 597.878958 
L 359.40171 599.451012 
L 361.527517 600.430597 
L 364.426345 601.454179 
L 367.131918 602.192858 
L 371.383533 603.058797 
L 373.89585 603.378834 
L 376.794678 603.457018 
L 399.019026 603.895524 
L 411.77387 604.523258 
L 417.571526 605.010537 
L 426.461265 605.966217 
L 440.76215 607.161733 
L 474.195299 609.618059 
L 485.017591 610.095234 
L 496.806158 610.440679 
L 498.545455 610.467135 
L 498.545455 610.467135 
" clip-path="url(#p9b6139eeda)" style="fill: none; stroke-dasharray: 2.55,4.2075; stroke-dashoffset: 0; stroke: #ff4500; stroke-width: 2.55"/>
   </g>
   <g id="patch_38">
    <path d="M 159.727273 611.818182 
L 159.727273 311.818182 
" style="fill: none; stroke: #000000; stroke-width: 0.8; stroke-linejoin: miter; stroke-linecap: square"/>
   </g>
   <g id="patch_39">
    <path d="M 498.545455 611.818182 
L 498.545455 311.818182 
" style="fill: none; stroke: #000000; stroke-width: 0.8; stroke-linejoin: miter; stroke-linecap: square"/>
   </g>
   <g id="patch_40">
    <path d="M 159.727273 611.818182 
L 498.545455 611.818182 
" style="fill: none; stroke: #000000; stroke-width: 0.8; stroke-linejoin: miter; stroke-linecap: square"/>
   </g>
   <g id="patch_41">
    <path d="M 159.727273 311.818182 
L 498.545455 311.818182 
" style="fill: none; stroke: #000000; stroke-width: 0.8; stroke-linejoin: miter; stroke-linecap: square"/>
   </g>
  </g>
  <g id="line2d_89">
   <g>
    <path d="M 52.182 12.000 L 49.182 18.000 L 55.182 18.000 z" style="fill-opacity: 0; stroke: #000000; stroke-linejoin: miter; stroke: #000000; stroke-linejoin: miter"/>
   </g>
  </g>
  <g id="line2d_90">
   <g>
    <path d="M 49.182 32.364 L 55.182 32.364 L 55.182 26.364 L 49.182 26.364 z" style="fill-opacity: 0; stroke: #000000; stroke-linejoin: miter; stroke: #000000; stroke-linejoin: miter"/>
   </g>
  </g>
  <g id="line2d_91">
   <g>
    <path d="M 52.182 327.455 C 52.977 327.455 53.741 327.138 54.303 326.576 C 54.866 326.013 55.182 325.250 55.182 324.455 C 55.182 323.659 54.866 322.896 54.303 322.333 C 53.741 321.771 52.977 321.455 52.182 321.455 C 51.386 321.455 50.623 321.771 50.060 322.333 C 49.498 322.896 49.182 323.659 49.182 324.455 C 49.182 325.250 49.498 326.013 50.060 326.576 C 50.623 327.138 51.386 327.455 52.182 327.455 z" style="fill-opacity: 0; stroke: #000000; stroke: #000000"/>
   </g>
  </g>
  <g id="line2d_92">
   <g>
    <path d="M 49.182 342.364 L 55.182 342.364 L 55.182 336.364 L 49.182 336.364 z" style="fill-opacity: 0; stroke: #000000; stroke-linejoin: miter; stroke: #000000; stroke-linejoin: miter"/>
   </g>
  </g>
  <g id="line2d_93">
   <path d="M 407.454545 15.227273 
L 429.090909 15.227273 
" style="fill: none; stroke: #1e90ff; stroke-width: 1.5; stroke-linecap: square"/>
  </g>
  <g id="line2d_94">
   <path d="M 407.454545 30.227273 
L 429.090909 30.227273 
" style="fill: none; stroke-dasharray: 5.735,2.48; stroke-dashoffset: 0; stroke: #8a2be2; stroke-width: 1.55"/>
  </g>
  <g id="line2d_95">
   <path d="M 407.909091 45.227273 
L 428.363636 45.227273 
" style="fill: none; stroke-dasharray: 2.55,4.2075; stroke-dashoffset: 0; stroke: #ff4500; stroke-width: 2.55"/>
  </g>
  <g id="text_39">
   <!-- $Q\ /\ cm^3\ g^{-1}\ STP$ -->
   <g transform="translate(11.227273 192.209091) rotate(-90)">
    <text>
     <tspan x="0" y="-0.976562" style="font-style: oblique; font-size: 10px; font-family: 'DejaVu Sans', 'Noto Sans CJK SC', sans-serif">Q</tspan>
     <tspan x="17.73431" y="-0.976562" style="font-style: oblique; font-size: 10px; font-family: 'DejaVu Sans', 'Noto Sans CJK SC', sans-serif">c</tspan>
     <tspan x="23.232357" y="-0.976562" style="font-style: oblique; font-size: 10px; font-family: 'DejaVu Sans', 'Noto Sans CJK SC', sans-serif">m</tspan>
     <tspan x="41.411771" y="-0.976562" style="font-style: oblique; font-size: 10px; font-family: 'DejaVu Sans', 'Noto Sans CJK SC', sans-serif">g</tspan>
     <tspan x="62.062865" y="-0.976562" style="font-style: oblique; font-size: 10px; font-family: 'DejaVu Sans', 'Noto Sans CJK SC', sans-serif">S</tspan>
     <tspan x="68.410521" y="-0.976562" style="font-style: oblique; font-size: 10px; font-family: 'DejaVu Sans', 'Noto Sans CJK SC', sans-serif">T</tspan>
     <tspan x="74.51892" y="-0.976562" style="font-style: oblique; font-size: 10px; font-family: 'DejaVu Sans', 'Noto Sans CJK SC', sans-serif">P</tspan>
     <tspan x="11.118132" y="-0.976562" style="font-size: 10px; font-family: 'DejaVu Sans', 'Noto Sans CJK SC', sans-serif">/</tspan>
     <tspan x="33.437682" y="-4.804688" style="font-size: 7px; font-family: 'DejaVu Sans', 'Noto Sans CJK SC', sans-serif">3</tspan>
     <tspan x="48.223542" y="-4.804688" style="font-size: 7px; font-family: 'DejaVu Sans', 'Noto Sans CJK SC', sans-serif">−</tspan>
     <tspan x="54.088776" y="-4.804688" style="font-size: 7px; font-family: 'DejaVu Sans', 'Noto Sans CJK SC', sans-serif">1</tspan>
    </text>
   </g>
  </g>
  <g id="text_40">
   <!-- $Q\ /\ cm^3\ g^{-1}\ STP$ -->
   <g transform="translate(11.227273 502.209091) rotate(-90)">
    <text>
     <tspan x="0" y="-0.976562" style="font-style: oblique; font-size: 10px; font-family: 'DejaVu Sans', 'Noto Sans CJK SC', sans-serif">Q</tspan>
     <tspan x="17.73431" y="-0.976562" style="font-style: oblique; font-size: 10px; font-family: 'DejaVu Sans', 'Noto Sans CJK SC', sans-serif">c</tspan>
     <tspan x="23.232357" y="-0.976562" style="font-style: oblique; font-size: 10px; font-family: 'DejaVu Sans', 'Noto Sans CJK SC', sans-serif">m</tspan>
     <tspan x="41.411771" y="-0.976562" style="font-style: oblique; font-size: 10px; font-family: 'DejaVu Sans', 'Noto Sans CJK SC', sans-serif">g</tspan>
     <tspan x="62.062865" y="-0.976562" style="font-style: oblique; font-size: 10px; font-family: 'DejaVu Sans', 'Noto Sans CJK SC', sans-serif">S</tspan>
     <tspan x="68.410521" y="-0.976562" style="font-style: oblique; font-size: 10px; font-family: 'DejaVu Sans', 'Noto Sans CJK SC', sans-serif">T</tspan>
     <tspan x="74.51892" y="-0.976562" style="font-style: oblique; font-size: 10px; font-family: 'DejaVu Sans', 'Noto Sans CJK SC', sans-serif">P</tspan>
     <tspan x="11.118132" y="-0.976562" style="font-size: 10px; font-family: 'DejaVu Sans', 'Noto Sans CJK SC', sans-serif">/</tspan>
     <tspan x="33.437682" y="-4.804688" style="font-size: 7px; font-family: 'DejaVu Sans', 'Noto Sans CJK SC', sans-serif">3</tspan>
     <tspan x="48.223542" y="-4.804688" style="font-size: 7px; font-family: 'DejaVu Sans', 'Noto Sans CJK SC', sans-serif">−</tspan>
     <tspan x="54.088776" y="-4.804688" style="font-size: 7px; font-family: 'DejaVu Sans', 'Noto Sans CJK SC', sans-serif">1</tspan>
    </text>
   </g>
  </g>
  <g id="text_41">
   <!-- $PSD\ /\ cm^3\ g^{-1}\ Å^{-1}$ -->
   <g transform="translate(542.236364 198.35) rotate(-90)">
    <text>
     <tspan x="0" y="-0.71875" style="font-style: oblique; font-size: 10px; font-family: 'DejaVu Sans', 'Noto Sans CJK SC', sans-serif">P</tspan>
     <tspan x="6.030273" y="-0.71875" style="font-style: oblique; font-size: 10px; font-family: 'DejaVu Sans', 'Noto Sans CJK SC', sans-serif">S</tspan>
     <tspan x="12.37793" y="-0.71875" style="font-style: oblique; font-size: 10px; font-family: 'DejaVu Sans', 'Noto Sans CJK SC', sans-serif">D</tspan>
     <tspan x="29.941341" y="-0.71875" style="font-style: oblique; font-size: 10px; font-family: 'DejaVu Sans', 'Noto Sans CJK SC', sans-serif">c</tspan>
     <tspan x="35.439388" y="-0.71875" style="font-style: oblique; font-size: 10px; font-family: 'DejaVu Sans', 'Noto Sans CJK SC', sans-serif">m</tspan>
     <tspan x="53.618802" y="-0.71875" style="font-style: oblique; font-size: 10px; font-family: 'DejaVu Sans', 'Noto Sans CJK SC', sans-serif">g</tspan>
     <tspan x="74.269896" y="-0.71875" style="font-style: oblique; font-size: 10px; font-family: 'DejaVu Sans', 'Noto Sans CJK SC', sans-serif">Å</tspan>
     <tspan x="23.325163" y="-0.71875" style="font-size: 10px; font-family: 'DejaVu Sans', 'Noto Sans CJK SC', sans-serif">/</tspan>
     <tspan x="45.644714" y="-4.546875" style="font-size: 7px; font-family: 'DejaVu Sans', 'Noto Sans CJK SC', sans-serif">3</tspan>
     <tspan x="60.430573" y="-4.546875" style="font-size: 7px; font-family: 'DejaVu Sans', 'Noto Sans CJK SC', sans-serif">−</tspan>
     <tspan x="66.295808" y="-4.546875" style="font-size: 7px; font-family: 'DejaVu Sans', 'Noto Sans CJK SC', sans-serif">1</tspan>
     <tspan x="82.091081" y="-4.546875" style="font-size: 7px; font-family: 'DejaVu Sans', 'Noto Sans CJK SC', sans-serif">−</tspan>
     <tspan x="87.956315" y="-4.546875" style="font-size: 7px; font-family: 'DejaVu Sans', 'Noto Sans CJK SC', sans-serif">1</tspan>
    </text>
   </g>
  </g>
  <g id="text_42">
   <!-- $PSD\ /\ cm^3\ g^{-1}\ Å^{-1}$ -->
   <g transform="translate(542.236364 508.168182) rotate(-90)">
    <text>
     <tspan x="0" y="-0.71875" style="font-style: oblique; font-size: 10px; font-family: 'DejaVu Sans', 'Noto Sans CJK SC', sans-serif">P</tspan>
     <tspan x="6.030273" y="-0.71875" style="font-style: oblique; font-size: 10px; font-family: 'DejaVu Sans', 'Noto Sans CJK SC', sans-serif">S</tspan>
     <tspan x="12.37793" y="-0.71875" style="font-style: oblique; font-size: 10px; font-family: 'DejaVu Sans', 'Noto Sans CJK SC', sans-serif">D</tspan>
     <tspan x="29.941341" y="-0.71875" style="font-style: oblique; font-size: 10px; font-family: 'DejaVu Sans', 'Noto Sans CJK SC', sans-serif">c</tspan>
     <tspan x="35.439388" y="-0.71875" style="font-style: oblique; font-size: 10px; font-family: 'DejaVu Sans', 'Noto Sans CJK SC', sans-serif">m</tspan>
     <tspan x="53.618802" y="-0.71875" style="font-style: oblique; font-size: 10px; font-family: 'DejaVu Sans', 'Noto Sans CJK SC', sans-serif">g</tspan>
     <tspan x="74.269896" y="-0.71875" style="font-style: oblique; font-size: 10px; font-family: 'DejaVu Sans', 'Noto Sans CJK SC', sans-serif">Å</tspan>
     <tspan x="23.325163" y="-0.71875" style="font-size: 10px; font-family: 'DejaVu Sans', 'Noto Sans CJK SC', sans-serif">/</tspan>
     <tspan x="45.644714" y="-4.546875" style="font-size: 7px; font-family: 'DejaVu Sans', 'Noto Sans CJK SC', sans-serif">3</tspan>
     <tspan x="60.430573" y="-4.546875" style="font-size: 7px; font-family: 'DejaVu Sans', 'Noto Sans CJK SC', sans-serif">−</tspan>
     <tspan x="66.295808" y="-4.546875" style="font-size: 7px; font-family: 'DejaVu Sans', 'Noto Sans CJK SC', sans-serif">1</tspan>
     <tspan x="82.091081" y="-4.546875" style="font-size: 7px; font-family: 'DejaVu Sans', 'Noto Sans CJK SC', sans-serif">−</tspan>
     <tspan x="87.956315" y="-4.546875" style="font-size: 7px; font-family: 'DejaVu Sans', 'Noto Sans CJK SC', sans-serif">1</tspan>
    </text>
   </g>
  </g>
  <g id="text_43">
   <!-- $P/P_o$ -->
   <g transform="translate(86.272727 641.272727)">
    <text>
     <tspan x="0" y="-0.703125" style="font-style: oblique; font-size: 10px; font-family: 'DejaVu Sans', 'Noto Sans CJK SC', sans-serif">P</tspan>
     <tspan x="9.399414" y="-0.703125" style="font-style: oblique; font-size: 10px; font-family: 'DejaVu Sans', 'Noto Sans CJK SC', sans-serif">P</tspan>
     <tspan x="6.030273" y="-0.703125" style="font-size: 10px; font-family: 'DejaVu Sans', 'Noto Sans CJK SC', sans-serif">/</tspan>
     <tspan x="15.429688" y="0.9375" style="font-style: oblique; font-size: 7px; font-family: 'DejaVu Sans', 'Noto Sans CJK SC', sans-serif">o</tspan>
    </text>
   </g>
  </g>
  <g id="text_44">
   <!-- $w\ /\ Å$ -->
   <g transform="translate(317.55 642.909091)">
    <text>
     <tspan x="0" y="-0.71875" style="font-style: oblique; font-size: 10px; font-family: 'DejaVu Sans', 'Noto Sans CJK SC', sans-serif">w</tspan>
     <tspan x="18.041927" y="-0.71875" style="font-style: oblique; font-size: 10px; font-family: 'DejaVu Sans', 'Noto Sans CJK SC', sans-serif">Å</tspan>
     <tspan x="11.425749" y="-0.71875" style="font-size: 10px; font-family: 'DejaVu Sans', 'Noto Sans CJK SC', sans-serif">/</tspan>
    </text>
   </g>
  </g>
  <g id="text_45">
   <text style="font-size: 10px; font-family: 'DejaVu Sans', 'Noto Sans CJK SC', sans-serif; text-anchor: end" x="149.090909" y="90.727273" transform="rotate(-0 149.090909 90.727273)">(1a)</text>
  </g>
  <g id="text_46">
   <text style="font-size: 10px; font-family: 'DejaVu Sans', 'Noto Sans CJK SC', sans-serif; text-anchor: end" x="149.090909" y="193.909091" transform="rotate(-0 149.090909 193.909091)">(1b)</text>
  </g>
  <g id="text_47">
   <text style="font-size: 10px; font-family: 'DejaVu Sans', 'Noto Sans CJK SC', sans-serif; text-anchor: end" x="149.090909" y="297.090909" transform="rotate(-0 149.090909 297.090909)">(1c)</text>
  </g>
  <g id="text_48">
   <text style="font-size: 10px; font-family: 'DejaVu Sans', 'Noto Sans CJK SC', sans-serif; text-anchor: end" x="149.090909" y="400.727273" transform="rotate(-0 149.090909 400.727273)">(2a)</text>
  </g>
  <g id="text_49">
   <text style="font-size: 10px; font-family: 'DejaVu Sans', 'Noto Sans CJK SC', sans-serif; text-anchor: end" x="149.090909" y="503.909091" transform="rotate(-0 149.090909 503.909091)">(2b)</text>
  </g>
  <g id="text_50">
   <text style="font-size: 10px; font-family: 'DejaVu Sans', 'Noto Sans CJK SC', sans-serif; text-anchor: end" x="149.090909" y="607.090909" transform="rotate(-0 149.090909 607.090909)">(2c)</text>
  </g>
  <g id="text_51">
   <text style="font-size: 10px; font-family: 'DejaVu Sans', 'Noto Sans CJK SC', sans-serif; text-anchor: start" x="177.272727" y="31.454545" transform="rotate(-0 177.272727 31.454545)">(1P)</text>
  </g>
  <g id="text_52">
   <text style="font-size: 10px; font-family: 'DejaVu Sans', 'Noto Sans CJK SC', sans-serif; text-anchor: start" x="177.272727" y="340.636364" transform="rotate(-0 177.272727 340.636364)">(2P)</text>
  </g>
  <g id="text_53">
   <!-- $N_2$ -->
   <g transform="translate(70.909091 18.090909)">
    <text>
     <tspan x="0" y="-0.703125" style="font-style: oblique; font-size: 10px; font-family: 'DejaVu Sans', 'Noto Sans CJK SC', sans-serif">N</tspan>
     <tspan x="7.480469" y="0.9375" style="font-size: 7px; font-family: 'DejaVu Sans', 'Noto Sans CJK SC', sans-serif">2</tspan>
    </text>
   </g>
  </g>
  <g id="text_54">
   <!-- $H_2$ -->
   <g transform="translate(70.909091 33.727273)">
    <text>
     <tspan x="0" y="-0.703125" style="font-style: oblique; font-size: 10px; font-family: 'DejaVu Sans', 'Noto Sans CJK SC', sans-serif">H</tspan>
     <tspan x="7.519531" y="0.9375" style="font-size: 7px; font-family: 'DejaVu Sans', 'Noto Sans CJK SC', sans-serif">2</tspan>
    </text>
   </g>
  </g>
  <g id="text_55">
   <!-- $O_2$ -->
   <g transform="translate(70.909091 328.090909)">
    <text>
     <tspan x="0" y="-0.578125" style="font-style: oblique; font-size: 10px; font-family: 'DejaVu Sans', 'Noto Sans CJK SC', sans-serif">O</tspan>
     <tspan x="7.871094" y="1.0625" style="font-size: 7px; font-family: 'DejaVu Sans', 'Noto Sans CJK SC', sans-serif">2</tspan>
    </text>
   </g>
  </g>
  <g id="text_56">
   <!-- $H_2$ -->
   <g transform="translate(70.909091 343.727273)">
    <text>
     <tspan x="0" y="-0.703125" style="font-style: oblique; font-size: 10px; font-family: 'DejaVu Sans', 'Noto Sans CJK SC', sans-serif">H</tspan>
     <tspan x="7.519531" y="0.9375" style="font-size: 7px; font-family: 'DejaVu Sans', 'Noto Sans CJK SC', sans-serif">2</tspan>
    </text>
   </g>
  </g>
  <g id="text_57">
   <text style="font-size: 10px; font-family: 'DejaVu Sans', 'Noto Sans CJK SC', sans-serif; text-anchor: start" x="432.327" y="18.818182" transform="rotate(-0 432.727273 18.818182)"><tspan style="font-family: 'Noto Sans CJK SC', 'WenQuanYi Zen Hei', sans-serif; font-size: 8.10px; font-weight: bold">活性炭</tspan>.0-250</text>
  </g>
  <g id="text_58">
   <text style="font-size: 10px; font-family: 'DejaVu Sans', 'Noto Sans CJK SC', sans-serif; text-anchor: start" x="432.327" y="33.363636" transform="rotate(-0 432.727273 33.363636)"><tspan style="font-family: 'Noto Sans CJK SC', 'WenQuanYi Zen Hei', sans-serif; font-size: 8.10px; font-weight: bold">活性炭</tspan>.5-250</text>
  </g>
  <g id="text_59">
   <text style="font-size: 10px; font-family: 'DejaVu Sans', 'Noto Sans CJK SC', sans-serif; text-anchor: start" x="432.327" y="47.909091" transform="rotate(-0 432.727273 47.909091)"><tspan style="font-family: 'Noto Sans CJK SC', 'WenQuanYi Zen Hei', sans-serif; font-size: 8.10px; font-weight: bold">活性炭</tspan>1.0-250</text>
  </g>
 </g>
 <defs>
  <clipPath id="p6df76872dc">
   <rect x="43.272727" y="1.818182" width="106.090909" height="93.818182"/>
  </clipPath>
  <clipPath id="p209c17d68a">
   <rect x="43.272727" y="105" width="106.090909" height="93.818182"/>
  </clipPath>
  <clipPath id="p1774c23954">
   <rect x="43.272727" y="208.181818" width="106.090909" height="93.818182"/>
  </clipPath>
  <clipPath id="p2405186765">
   <rect x="43.272727" y="311.818182" width="106.090909" height="93.818182"/>
  </clipPath>
  <clipPath id="p4490bba9bd">
   <rect x="43.272727" y="415" width="106.090909" height="93.818182"/>
  </clipPath>
  <clipPath id="padb9850236">
   <rect x="43.272727" y="518.181818" width="106.090909" height="93.818182"/>
  </clipPath>
  <clipPath id="p146d4e943f">
   <rect x="159.727273" y="1.818182" width="338.818182" height="300.454545"/>
  </clipPath>
  <clipPath id="p9b6139eeda">
   <rect x="159.727273" y="311.818182" width="338.818182" height="300"/>
  </clipPath>
 </defs>
</svg>

</body></html>
